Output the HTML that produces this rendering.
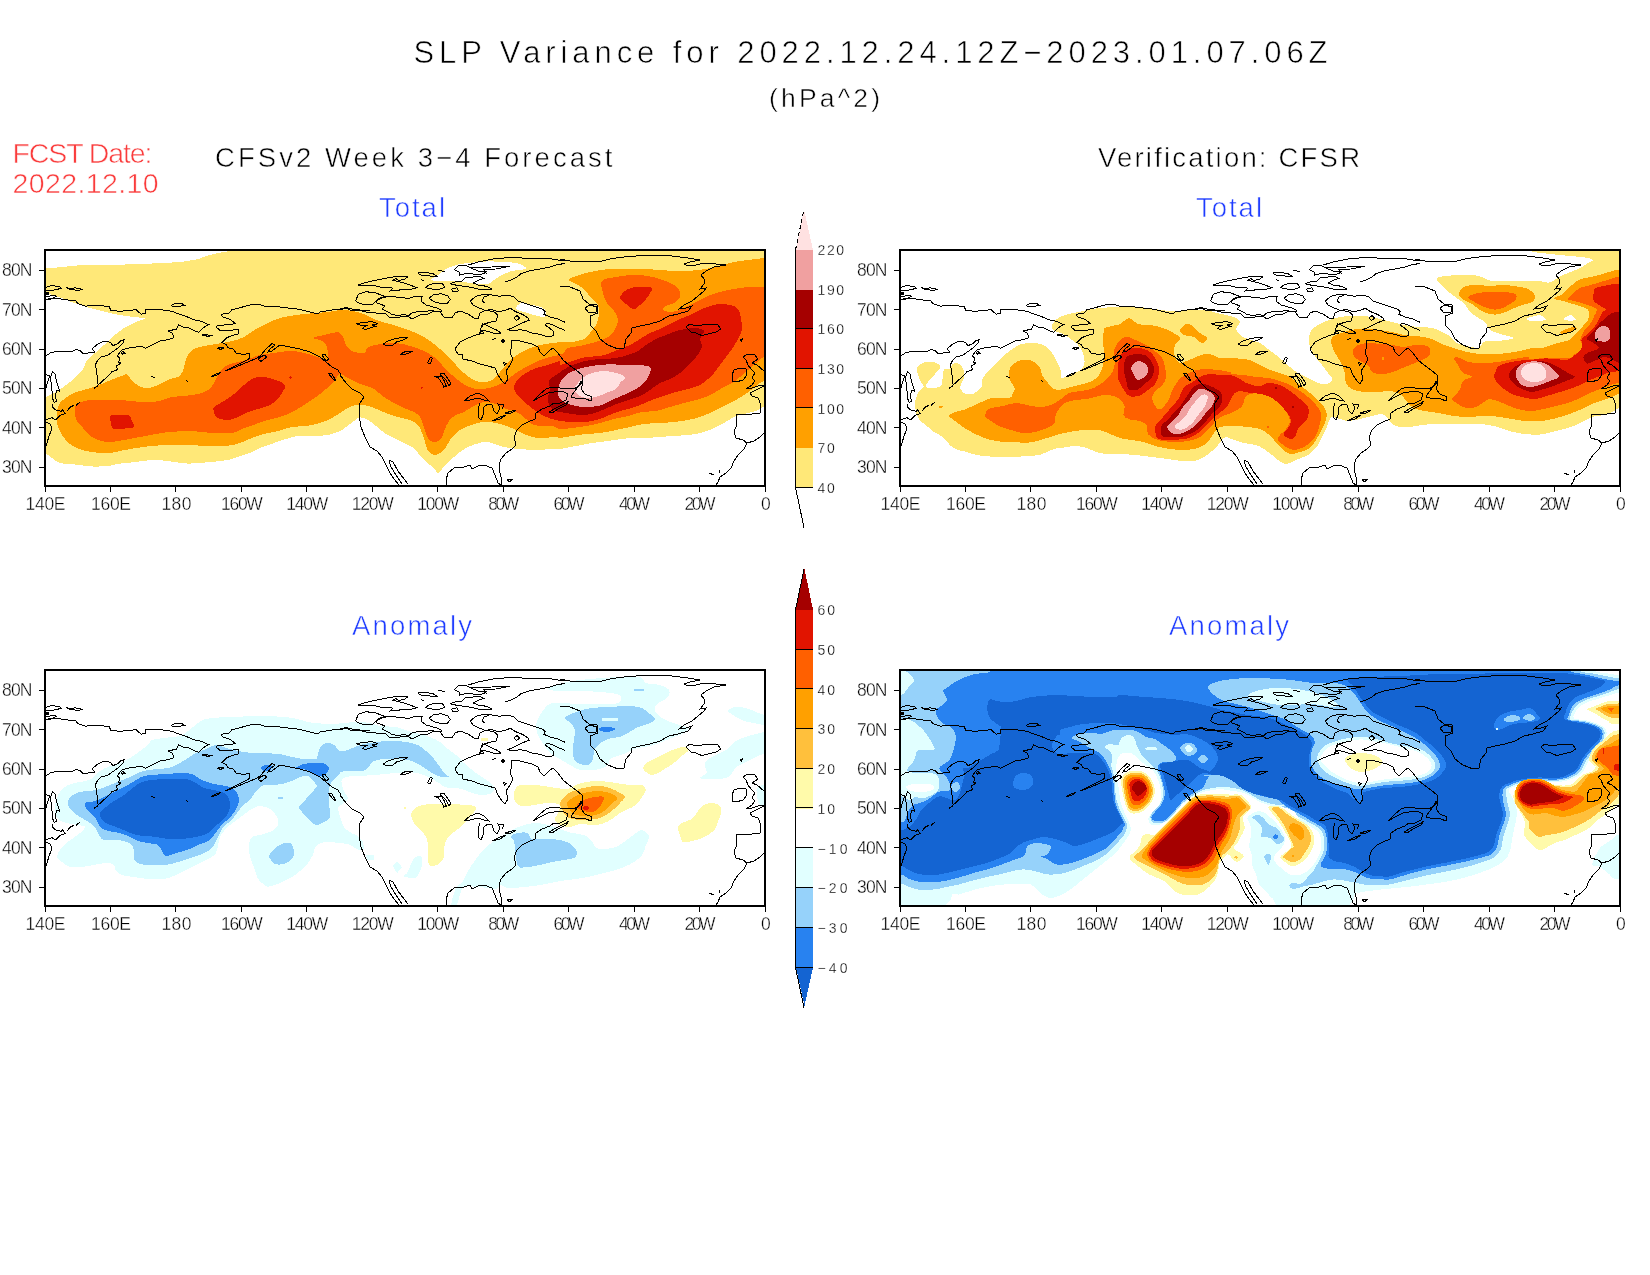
<!DOCTYPE html>
<html><head><meta charset="utf-8"><title>SLP Variance</title>
<style>
html,body{margin:0;padding:0;background:#fff;}
body{width:1650px;height:1275px;overflow:hidden;font-family:"Liberation Sans",sans-serif;}
svg{display:block;position:absolute;left:0;top:0;will-change:transform;}
text{font-family:"Liberation Sans",sans-serif;stroke:#fff;}
#txt{opacity:0.999;}
</style></head><body>
<svg width="1650" height="1275" viewBox="0 0 1650 1275">
<rect x="0" y="0" width="1650" height="1275" fill="#fff"/>
<defs>
<clipPath id="c1"><rect x="45" y="250" width="720" height="236"/></clipPath>
<clipPath id="c2"><rect x="900" y="250" width="720" height="236"/></clipPath>
<clipPath id="c3"><rect x="45" y="670" width="720" height="236"/></clipPath>
<clipPath id="c4"><rect x="900" y="670" width="720" height="236"/></clipPath>
<g id="coast" fill="none" stroke="#000" stroke-width="1" shape-rendering="crispEdges">
<path d="M45.3,299.7L56.0,298.3L66.7,299.9L76.0,301.0L78.0,303.7L85.3,306.1L93.3,305.7L101.3,305.7L109.3,306.6L110.7,310.3L120.0,311.3L130.7,310.3L136.0,309.7L138.0,311.7L141.3,314.1L146.0,313.0L145.3,309.7L153.3,309.0L162.7,309.9L172.0,311.3L178.7,313.9L186.7,316.6L193.3,319.7L201.3,321.3L208.7,324.6L203.3,327.7L198.7,332.3L193.3,330.3L188.0,327.4L182.7,327.0L178.7,324.7L176.7,329.0L171.3,330.3L168.0,331.0L172.0,333.0L174.0,337.7L168.0,339.7L160.0,341.0L153.3,344.3L145.3,348.3L141.3,346.3L133.3,347.4L126.7,348.3L121.3,350.3L117.3,355.7L120.0,358.3L118.7,362.3L121.3,363.0L116.7,365.7L117.3,369.7L112.0,371.7L109.3,375.0L104.0,379.7L100.0,383.7L98.0,384.3L97.3,378.3L96.7,371.7L95.3,365.0L97.3,361.0L101.3,357.0L108.0,355.0L114.7,350.3L120.0,346.3L123.3,343.0L124.0,339.7L121.3,340.3L118.0,343.7L112.7,345.7L110.7,342.3L104.0,341.0L97.3,344.3L92.0,349.0L94.7,352.1L88.0,353.0L82.7,353.0L80.0,350.3L76.0,349.7L72.0,351.7L64.0,351.7L57.3,351.7L51.3,352.3L45.3,356.3"/>
<path d="M121.3,352.3L123.3,351.7L124.7,353.3L122.4,354.1L121.3,352.3"/>
<path d="M45.3,287.7L52.0,285.3L60.0,287.0L61.3,288.3L53.3,290.3L45.3,291.0"/>
<path d="M66.0,287.4L70.7,289.7L78.7,290.3L82.0,289.3L76.0,287.9L69.3,288.3L66.0,287.4"/>
<path d="M45.3,297.0L53.3,295.4L56.7,296.3L52.0,298.3L45.3,299.4"/>
<path d="M45.3,292.7L48.3,292.7L48.3,294.6L45.3,294.6L45.3,293.7L48.0,293.7"/>
<path d="M171.3,305.7L174.7,303.4L181.3,303.3L184.7,305.3L178.7,306.6L173.3,306.6L171.3,305.7"/>
<path d="M260.0,304.7L253.3,304.1L245.3,306.3L232.0,309.7L229.3,313.0L221.3,314.3L222.7,317.0L230.7,319.7L235.3,323.7L226.7,324.7L217.3,325.7L216.0,327.0L220.0,330.3L226.7,330.3L238.7,329.7L238.7,333.7L232.0,335.7L226.7,337.7L222.0,342.3L226.7,345.0L228.0,347.7L233.3,349.0L236.0,353.0L242.7,354.3L249.3,353.7L249.6,358.3L245.3,361.0L240.0,363.7L233.3,367.0L226.7,370.3L225.3,371.0L229.3,369.7L237.3,366.3L245.3,363.0L253.3,359.7L260.0,356.3"/>
<path d="M202.0,334.6L208.0,335.0L212.7,335.7L208.0,336.3L202.0,335.1L202.0,334.6"/>
<path d="M217.3,348.3L220.0,347.0L224.0,347.9L220.7,349.4L217.3,348.3"/>
<path d="M211.3,377.0L214.7,374.3L220.7,372.7L218.7,374.3L213.3,376.3L211.3,377.0"/>
<path d="M151.3,376.3L154.7,377.7"/>
<path d="M186.0,380.3L187.7,381.7"/>
<path d="M94.0,388.3L98.0,385.7"/>
<path d="M52.6,371.2L55.0,374.1L56.2,380.0L57.9,385.9L59.7,391.2L56.8,390.6L55.0,395.3L56.8,401.2L54.4,402.4L52.6,398.8L52.1,391.8L51.5,384.7L50.3,378.8L51.5,374.1L52.6,371.2"/>
<path d="M45.0,374.7L49.7,375.3L48.5,380.0L46.8,384.7L45.6,389.4L45.0,398.8"/>
<path d="M52.1,404.1L53.2,408.2L56.8,410.6L61.5,411.2L62.6,410.0L65.0,413.5L60.3,415.3L56.8,418.8L55.0,420.0L52.1,417.6L48.5,418.8L45.0,420.0"/>
<path d="M45.0,422.4L49.7,423.5L51.5,427.1L50.9,431.8L49.1,435.3L47.9,440.0L46.2,445.9L45.0,446.5"/>
<path d="M67.4,410.6L70.3,407.1L73.8,405.3"/>
<path d="M76.2,405.3L79.7,402.1"/>
<path d="M260.0,304.8L264.0,306.0L280.0,307.0L300.0,309.4L318.0,314.0L320.0,312.0L332.0,310.0L340.0,309.0L346.0,307.4L352.0,309.0L360.0,310.0L370.0,311.0"/>
<path d="M260.0,356.4L266.0,349.0L272.0,343.6L275.0,345.0L270.0,349.0L268.0,352.0L272.0,351.0L280.0,345.0L290.0,347.0L300.0,349.0L310.0,352.0L320.0,357.0L326.0,362.0L332.0,367.0L338.0,370.0L341.0,375.0"/>
<path d="M258.0,359.0L264.0,355.0L267.0,357.0L261.0,361.4L258.0,359.0"/>
<path d="M322.0,355.0L326.0,361.0L329.0,359.0L325.0,354.6L322.0,355.0"/>
<path d="M328.0,373.0L333.0,379.0L336.0,381.0L332.0,374.0L328.0,373.0"/>
<path d="M340.0,310.0L346.0,308.0L352.0,311.0L358.0,310.0L366.0,312.0L376.0,313.0L386.0,314.0L390.0,318.0L400.0,317.0L408.0,316.0L412.0,319.0L420.0,315.0L428.0,314.0L434.0,311.0L440.0,312.0L444.0,317.0L452.0,318.0L455.0,313.0L460.0,311.0L468.0,314.0L474.0,318.0L478.0,319.0L480.0,313.0L486.0,310.0L494.0,312.0L498.0,315.0L496.0,321.0L491.0,322.0L484.0,324.0L480.0,329.0L484.0,333.0L476.0,335.0L468.0,338.0L460.0,342.0L455.0,349.0L458.0,354.0L462.0,354.0L463.0,359.0L472.0,361.0L480.0,364.0L488.0,366.0L495.0,368.0L498.0,375.0L502.0,381.0L505.0,384.0L508.0,379.0L506.0,371.0L510.0,365.0L513.0,359.0L510.0,353.0L512.0,345.0L511.0,341.0L516.0,340.0L524.0,342.0L532.0,344.0L538.0,347.0L540.0,352.0L544.0,356.0L549.0,351.0L553.0,348.0L558.0,353.0L563.0,360.0L569.0,365.0L576.0,370.0L582.0,375.0L583.0,381.0L580.0,385.0L574.0,389.0L568.0,388.0L560.0,388.0L552.0,387.0L546.0,389.0L540.0,394.0L535.0,399.0L533.0,401.0L540.0,397.0L548.0,393.0L554.0,392.0L562.0,391.0L568.0,394.0L566.0,400.0L560.0,403.0L554.0,403.0L550.0,406.0L542.0,409.0L536.0,413.0L535.0,419.0L528.0,422.0L522.0,425.0L517.0,430.0L514.0,437.0L516.0,445.0L512.0,449.0L506.0,453.0L501.0,459.0L499.0,465.0L500.0,473.0L502.0,481.0L501.0,485.0L498.0,483.0L495.0,475.0L492.0,468.0L484.0,465.0L478.0,466.0L472.0,469.0L470.0,465.0L464.0,467.0L454.0,468.0L448.0,473.0L446.0,480.0L447.0,485.0"/>
<path d="M571.0,397.0L574.0,392.0L578.0,387.0L581.0,381.0L583.0,383.0L581.0,389.0L585.0,394.0L592.0,397.0L591.0,401.0L586.0,399.0L580.0,398.0L575.0,398.0L571.0,397.0"/>
<path d="M549.0,412.0L556.0,408.0L564.0,404.0L569.0,401.0L566.0,405.0L558.0,409.0L552.0,413.0L549.0,412.0"/>
<path d="M464.0,401.0L470.0,396.0L478.0,393.0L484.0,396.0L489.0,401.0L484.0,400.0L478.0,398.0L470.0,400.0L464.0,401.0"/>
<path d="M480.0,403.0L478.0,409.0L478.0,417.0L481.0,420.0L483.0,415.0L484.0,407.0L488.0,404.0L492.0,405.0L494.0,411.0L497.0,414.0L500.0,408.0L498.0,404.0L504.0,405.0L502.0,409.0"/>
<path d="M492.0,421.0L500.0,417.0L506.0,415.0L500.0,419.0L492.0,421.0"/>
<path d="M505.0,413.0L512.0,411.0L516.0,410.6L510.0,413.4L505.0,413.0"/>
<path d="M340.0,375.0L346.0,383.0L352.0,389.0L360.0,393.0L364.0,397.0L360.0,403.0L359.0,415.0L361.0,427.0L365.0,437.0L370.0,447.0L377.0,451.0L382.0,457.0L386.0,465.0L390.0,473.0L394.0,479.0L399.0,485.0"/>
<path d="M389.0,460.0L393.0,462.0L398.0,471.0L404.0,479.0L408.0,484.0"/>
<path d="M402.0,484.0L396.0,475.0L391.0,467.0L389.0,460.0"/>
<path d="M507.0,480.0L512.0,479.4L510.0,482.0L507.0,480.0"/>
<path d="M503.0,362.0L506.0,363.4L504.4,365.0L503.0,362.0"/>
<path d="M355.7,301.0L358.3,294.3L366.3,291.7L375.7,293.0L385.0,296.3L379.7,298.3L375.7,301.0L373.0,304.3L365.0,304.3L359.7,303.7L355.7,301.0"/>
<path d="M375.7,301.0L382.3,297.7L390.3,296.3L401.0,297.7L409.0,298.3L415.7,296.3L422.3,296.3L421.0,301.0L426.3,305.0L433.0,307.0L438.3,308.3L442.3,311.0L438.3,311.7L430.3,310.3L425.0,311.7L417.0,311.7L411.7,313.0L409.0,315.7L403.7,314.3L398.3,315.7L391.7,314.3L387.7,311.7L382.3,309.0L385.0,306.3L381.0,304.3L377.0,303.0L375.7,301.0"/>
<path d="M358.3,285.0L366.3,282.3L375.7,280.3L385.0,278.3L393.0,277.0L402.3,276.3L407.7,277.0L403.7,279.7L398.3,280.3L395.7,278.3L393.0,280.3L401.0,282.3L406.3,283.7L411.7,285.7L417.0,287.7L411.7,289.0L403.7,289.0L398.3,290.3L390.3,291.0L393.0,288.3L389.0,287.0L382.3,287.7L377.0,286.3L371.7,285.0L365.0,285.7L358.3,285.0"/>
<path d="M417.7,273.0L425.0,272.3L433.0,273.7L437.0,276.3L433.0,277.0L426.3,275.0L421.0,275.0L417.7,273.0"/>
<path d="M421.0,279.7L423.7,281.0"/>
<path d="M438.3,270.3L445.0,271.7"/>
<path d="M425.0,287.7L430.3,284.3L438.3,283.0L443.7,284.3L444.3,287.7L438.3,289.7L431.7,289.0L425.0,287.7"/>
<path d="M429.0,298.3L433.0,295.0L441.0,293.7L447.7,295.7L450.3,299.7L447.7,303.0L441.0,303.7L434.3,301.7L429.0,298.3"/>
<path d="M451.7,289.0L457.0,287.7L458.3,291.0L453.0,291.7L451.7,289.0"/>
<path d="M450.3,283.7L455.7,281.7L462.3,281.0L465.0,277.7L473.0,277.0L479.7,276.3L483.7,278.3L478.3,280.3L473.0,283.0L478.3,285.0L486.3,286.3L491.7,289.0L486.3,289.7L478.3,289.0L473.0,287.7L465.0,286.3L458.3,285.7L450.3,283.7"/>
<path d="M454.3,269.7L458.3,265.7L465.0,265.0L469.0,267.0L473.0,269.0L478.3,271.0L486.3,271.7L483.7,273.7L477.0,275.0L471.7,273.7L465.0,273.7L459.7,275.0L459.0,271.7L454.3,269.7"/>
<path d="M468.3,265.0L477.0,262.3L486.3,260.3L497.0,258.3L511.7,257.7L531.7,258.3L551.7,259.0L565.0,261.0"/>
<path d="M565.0,263.7L558.3,264.3L550.3,267.0L539.7,269.0L529.0,271.0L521.0,273.7L517.0,277.0L510.3,280.3L505.0,281.7"/>
<path d="M469.0,267.0L478.3,267.7L491.7,267.0L502.3,266.3L510.3,266.3L495.7,269.0L483.7,269.7L486.3,273.7"/>
<path d="M470.3,301.0L475.7,296.3L483.7,294.3L491.7,295.0L499.7,296.3L505.0,295.0L513.0,296.3L518.3,301.0L526.3,303.7L534.3,306.3L542.3,309.0L545.0,311.7L543.7,314.3L550.3,317.0L558.3,319.0L565.0,322.3"/>
<path d="M489.0,295.7L484.3,296.3L482.3,301.0L485.0,303.0"/>
<path d="M470.3,301.0L473.0,305.0L478.3,307.7L485.0,310.3L491.7,309.7L498.3,311.7L505.0,310.3L510.3,308.3L515.7,311.7L522.3,314.3L527.7,317.7L529.0,320.3L523.7,322.3L518.3,325.0L513.0,327.7L507.7,329.7L511.7,331.0L519.7,329.7L525.0,330.3L531.7,333.0L539.7,334.3L547.7,337.0L553.0,335.7L553.7,331.7L549.0,327.7L545.0,325.0L547.7,323.0L553.0,325.0L558.3,327.7L565.0,330.3"/>
<path d="M482.3,323.7L486.3,325.0L491.7,327.7L497.0,330.3L501.0,333.0L495.7,333.7L489.0,331.7L483.7,330.3L479.7,333.0L481.0,327.7L482.3,323.7"/>
<path d="M513.7,317.7L517.0,315.7L519.7,318.3L516.3,320.3L513.7,317.7"/>
<path d="M501.7,341.0L503.0,339.7L504.6,341.0L503.0,342.6L501.7,341.0"/>
<path d="M491.7,339.7L495.7,338.3"/>
<path d="M355.7,323.7L363.7,322.3L371.7,321.7L378.3,323.7L371.7,325.0L375.7,326.3L369.0,328.3L365.0,329.7L362.3,328.3L366.3,325.7L359.7,325.0L355.7,323.7"/>
<path d="M383.0,344.3L387.7,341.0L394.3,339.0L401.0,337.7L407.7,337.7L402.3,340.3L397.0,341.7L393.0,345.0L387.7,345.7L383.0,344.3"/>
<path d="M400.3,354.3L405.0,351.7L413.0,351.0L409.0,353.0L403.7,354.6L400.3,354.3"/>
<path d="M427.7,363.0L430.3,357.0L432.3,358.3L430.3,363.7L427.7,363.0"/>
<path d="M434.3,376.3L438.3,377.7L442.3,383.7L443.7,387.0L446.3,386.3L444.3,381.0L441.7,376.3L434.3,376.3"/>
<path d="M439.7,374.3L443.7,373.0L447.7,378.3L451.0,383.7L449.0,385.7L445.7,379.7L439.7,374.3"/>
<path d="M560.0,286.0L570.0,287.0L580.0,291.0L583.0,299.0L589.0,304.0L597.0,305.0L598.0,313.0L590.0,316.0L590.0,325.0L596.0,331.0L600.0,339.0L608.0,345.0L618.0,349.0L624.0,348.0L626.0,339.0L631.0,333.0L632.0,328.0L640.0,326.0L650.0,324.0L660.0,321.0L669.0,316.0L678.0,314.0L688.0,311.0L692.0,306.0L686.0,308.0L679.0,309.0L684.0,305.0L692.0,301.0L698.0,296.0L704.0,291.0L706.0,288.0L700.0,289.0L704.0,284.0L704.0,279.0L701.0,275.0L706.0,271.0L714.0,267.0L726.0,265.0L716.0,264.0L704.0,263.0L696.0,265.0L688.0,266.0L684.0,264.0L690.0,262.0L700.0,260.0L688.0,258.0L672.0,256.0L656.0,255.0L646.0,255.0L636.0,256.0L620.0,257.4L608.0,259.4L598.0,262.0L590.0,261.0L580.0,262.0L570.0,261.0L560.0,259.0"/>
<path d="M585.0,308.0L590.0,305.0L597.0,307.0L596.0,312.0L588.0,312.0L585.0,308.0"/>
<path d="M686.0,327.0L690.0,324.0L696.0,326.0L702.0,325.0L710.0,324.0L718.0,325.0L721.0,329.0L716.0,332.0L708.0,334.0L702.0,335.6L696.0,333.0L691.0,332.0L688.0,329.0L686.0,327.0"/>
<path d="M732.0,375.0L734.0,370.0L740.0,368.0L746.0,369.0L747.0,375.0L743.0,380.0L736.0,382.0L732.0,381.0L732.0,375.0"/>
<path d="M743.0,357.0L748.0,354.0L755.0,355.0L758.0,359.0L752.0,363.0L757.0,365.0L764.0,371.0"/>
<path d="M764.0,385.0L758.0,386.0L752.0,388.0L746.0,389.0L752.0,385.0L755.0,381.0L752.0,378.0L755.0,373.0L751.0,369.0L748.0,365.0L746.0,360.0L743.0,357.0"/>
<path d="M764.0,386.0L758.0,389.0L750.0,393.0L752.0,396.0L758.0,398.0L761.0,405.0L760.0,413.0L752.0,414.0L744.0,414.0L736.0,415.0L737.0,425.0L734.0,431.0L736.0,438.0L743.0,440.0L747.0,443.0L754.0,441.0L760.0,437.0L764.0,433.0"/>
<path d="M747.0,443.0L744.0,449.0L738.0,455.0L734.0,461.0L731.0,468.0L726.0,473.0L720.0,477.0L718.0,482.0L716.0,485.0"/>
<path d="M740.0,339.4L742.4,339.0L741.6,341.4L740.0,339.4"/>
<path d="M709.0,473.0L714.0,475.0"/>
<path d="M719.0,470.0L720.0,473.0"/>
</g>
</defs>
<g clip-path="url(#c1)" shape-rendering="crispEdges">
<path d="M32.0,268.6C34.2,264.7 39.3,268.9 45.0,268.6C50.7,268.3 59.2,267.2 66.0,266.6C72.8,266.0 77.0,265.3 86.0,265.0C95.0,264.7 110.3,264.8 120.0,264.6C129.7,264.4 137.3,264.3 144.0,264.0C150.7,263.7 154.0,263.3 160.0,263.0C166.0,262.7 173.7,262.7 180.0,262.0C186.3,261.3 193.7,260.0 198.0,259.0C202.3,258.0 202.3,257.1 206.0,256.0C209.7,254.9 216.3,253.4 220.0,252.6C223.7,251.8 226.0,253.3 228.0,251.0C230.0,248.7 140.0,241.0 232.0,239.0C324.0,237.0 688.7,211.0 780.0,239.0C871.3,267.0 782.7,379.0 780.0,407.0C777.3,435.0 768.0,406.3 764.0,407.0C760.0,407.7 759.3,409.8 756.0,411.0C752.7,412.2 747.7,413.0 744.0,414.0C740.3,415.0 737.3,415.5 734.0,417.0C730.7,418.5 727.7,421.0 724.0,423.0C720.3,425.0 716.0,427.3 712.0,429.0C708.0,430.7 704.0,432.0 700.0,433.0C696.0,434.0 692.7,434.5 688.0,435.0C683.3,435.5 677.3,435.6 672.0,436.0C666.7,436.4 661.3,437.1 656.0,437.4C650.7,437.7 645.3,437.8 640.0,438.0C634.7,438.2 629.3,438.1 624.0,438.6C618.7,439.1 613.3,440.3 608.0,441.0C602.7,441.7 597.3,442.2 592.0,443.0C586.7,443.8 581.3,445.0 576.0,446.0C570.7,447.0 564.0,448.5 560.0,449.0C556.0,449.5 556.0,448.8 552.0,449.0C548.0,449.2 541.3,450.0 536.0,450.0C530.7,450.0 524.3,449.3 520.0,449.0C515.7,448.7 513.3,448.5 510.0,448.0C506.7,447.5 503.0,446.8 500.0,446.0C497.0,445.2 494.7,443.7 492.0,443.0C489.3,442.3 486.7,441.8 484.0,442.0C481.3,442.2 478.7,443.2 476.0,444.0C473.3,444.8 470.7,445.7 468.0,447.0C465.3,448.3 462.3,450.3 460.0,452.0C457.7,453.7 456.0,455.2 454.0,457.0C452.0,458.8 450.0,461.0 448.0,463.0C446.0,465.0 443.7,467.3 442.0,469.0C440.3,470.7 439.0,472.7 438.0,473.0C437.0,473.3 437.3,472.3 436.0,471.0C434.7,469.7 432.0,466.8 430.0,465.0C428.0,463.2 426.0,462.0 424.0,460.0C422.0,458.0 419.7,455.0 418.0,453.0C416.3,451.0 415.7,449.3 414.0,448.0C412.3,446.7 410.7,446.3 408.0,445.0C405.3,443.7 401.7,441.8 398.0,440.0C394.3,438.2 389.7,436.3 386.0,434.0C382.3,431.7 379.0,428.3 376.0,426.0C373.0,423.7 370.7,421.4 368.0,420.0C365.3,418.6 362.3,417.2 360.0,417.4C357.7,417.6 356.3,419.4 354.0,421.0C351.7,422.6 348.3,425.3 346.0,427.0C343.7,428.7 343.0,429.7 340.0,431.0C337.0,432.3 332.3,434.2 328.0,435.0C323.7,435.8 319.0,435.8 314.0,436.0C309.0,436.2 302.7,435.5 298.0,436.0C293.3,436.5 290.0,437.8 286.0,439.0C282.0,440.2 278.3,441.5 274.0,443.0C269.7,444.5 264.0,446.3 260.0,448.0C256.0,449.7 253.3,451.7 250.0,453.0C246.7,454.3 243.7,454.8 240.0,456.0C236.3,457.2 233.0,459.0 228.0,460.0C223.0,461.0 216.7,461.4 210.0,462.0C203.3,462.6 195.0,463.8 188.0,463.6C181.0,463.4 174.0,461.6 168.0,461.0C162.0,460.4 157.3,459.8 152.0,460.0C146.7,460.2 141.3,461.4 136.0,462.0C130.7,462.6 124.3,463.0 120.0,463.6C115.7,464.2 114.3,465.1 110.0,465.6C105.7,466.1 99.7,466.8 94.0,466.6C88.3,466.4 81.7,465.2 76.0,464.6C70.3,464.0 64.0,464.1 60.0,463.0C56.0,461.9 54.5,459.7 52.0,458.0C49.5,456.3 48.3,454.5 45.0,453.0C41.7,451.5 34.2,458.3 32.0,449.0C29.8,439.7 29.8,405.7 32.0,397.0C34.2,388.3 42.0,397.3 45.0,397.0C48.0,396.7 47.8,396.0 50.0,395.0C52.2,394.0 55.3,392.7 58.0,391.0C60.7,389.3 63.0,387.3 66.0,385.0C69.0,382.7 73.2,379.7 76.0,377.0C78.8,374.3 81.0,372.0 83.0,369.0C85.0,366.0 85.2,362.3 88.0,359.0C90.8,355.7 96.3,352.3 100.0,349.0C103.7,345.7 106.7,342.0 110.0,339.0C113.3,336.0 117.3,333.0 120.0,331.0C122.7,329.0 123.3,328.5 126.0,327.0C128.7,325.5 132.8,323.4 136.0,322.0C139.2,320.6 145.3,319.4 145.0,318.6C144.7,317.8 138.2,317.6 134.0,317.0C129.8,316.4 124.7,315.8 120.0,315.0C115.3,314.2 111.0,313.2 106.0,312.0C101.0,310.8 95.3,309.5 90.0,308.0C84.7,306.5 79.0,304.8 74.0,303.0C69.0,301.2 64.8,299.1 60.0,297.4C55.2,295.7 49.7,293.9 45.0,293.0C40.3,292.1 34.2,296.1 32.0,292.0C29.8,287.9 29.8,272.5 32.0,268.6Z" fill="#ffe878"/>
<path d="M431.0,280.0C430.7,279.1 435.5,276.8 438.0,275.0C440.5,273.2 442.7,270.7 446.0,269.0C449.3,267.3 453.7,265.7 458.0,264.6C462.3,263.5 467.0,263.1 472.0,262.6C477.0,262.1 482.7,261.5 488.0,261.4C493.3,261.3 499.0,261.7 504.0,262.0C509.0,262.3 514.3,262.4 518.0,263.4C521.7,264.4 525.7,266.9 526.0,268.0C526.3,269.1 522.3,269.5 520.0,270.0C517.7,270.5 515.0,270.2 512.0,271.0C509.0,271.8 505.0,273.5 502.0,275.0C499.0,276.5 496.3,278.5 494.0,280.0C491.7,281.5 491.0,283.3 488.0,284.0C485.0,284.7 480.0,284.3 476.0,284.0C472.0,283.7 468.0,282.5 464.0,282.0C460.0,281.5 456.0,281.2 452.0,281.0C448.0,280.8 443.5,280.8 440.0,280.6C436.5,280.4 431.3,280.9 431.0,280.0Z" fill="#ffffff"/>
<path d="M516.0,309.0C515.5,307.5 518.3,303.7 521.0,303.0C523.7,302.3 528.5,304.3 532.0,305.0C535.5,305.7 539.7,306.2 542.0,307.4C544.3,308.6 545.7,310.4 546.0,312.0C546.3,313.6 546.0,316.5 544.0,317.0C542.0,317.5 537.3,315.8 534.0,315.0C530.7,314.2 527.0,313.0 524.0,312.0C521.0,311.0 516.5,310.5 516.0,309.0Z" fill="#ffffff"/>
<path d="M57.0,411.0C57.5,407.7 57.8,405.7 60.0,403.0C62.2,400.3 66.7,397.0 70.0,395.0C73.3,393.0 76.0,392.3 80.0,391.0C84.0,389.7 89.7,388.5 94.0,387.0C98.3,385.5 102.3,383.5 106.0,382.0C109.7,380.5 113.0,379.2 116.0,378.0C119.0,376.8 122.2,375.6 124.0,375.0C125.8,374.4 126.0,374.1 127.0,374.6C128.0,375.1 128.5,376.4 130.0,378.0C131.5,379.6 134.0,382.4 136.0,384.0C138.0,385.6 139.3,386.8 142.0,387.4C144.7,388.0 148.7,388.1 152.0,387.4C155.3,386.7 159.0,384.4 162.0,383.0C165.0,381.6 167.3,380.0 170.0,379.0C172.7,378.0 175.8,378.3 178.0,377.0C180.2,375.7 181.8,373.3 183.0,371.0C184.2,368.7 184.2,365.7 185.0,363.0C185.8,360.3 186.5,357.3 188.0,355.0C189.5,352.7 191.3,350.5 194.0,349.0C196.7,347.5 200.3,346.8 204.0,346.0C207.7,345.2 211.3,344.8 216.0,344.0C220.7,343.2 227.3,342.2 232.0,341.0C236.7,339.8 240.0,339.0 244.0,337.0C248.0,335.0 252.0,331.3 256.0,329.0C260.0,326.7 264.0,324.8 268.0,323.0C272.0,321.2 275.3,319.3 280.0,318.0C284.7,316.7 290.0,315.8 296.0,315.0C302.0,314.2 310.7,313.5 316.0,313.0C321.3,312.5 324.0,312.5 328.0,312.0C332.0,311.5 336.0,310.2 340.0,310.0C344.0,309.8 348.0,310.3 352.0,311.0C356.0,311.7 360.0,312.5 364.0,314.0C368.0,315.5 371.7,318.3 376.0,320.0C380.3,321.7 385.0,322.5 390.0,324.0C395.0,325.5 401.0,327.2 406.0,329.0C411.0,330.8 416.0,333.0 420.0,335.0C424.0,337.0 426.7,338.7 430.0,341.0C433.3,343.3 437.0,346.3 440.0,349.0C443.0,351.7 445.3,354.3 448.0,357.0C450.7,359.7 453.3,362.3 456.0,365.0C458.7,367.7 461.3,370.7 464.0,373.0C466.7,375.3 469.3,377.5 472.0,379.0C474.7,380.5 476.7,381.8 480.0,382.0C483.3,382.2 487.7,382.8 492.0,380.0C496.3,377.2 502.3,368.8 506.0,365.0C509.7,361.2 511.0,359.3 514.0,357.0C517.0,354.7 520.3,352.8 524.0,351.0C527.7,349.2 531.3,347.3 536.0,346.0C540.7,344.7 546.7,343.7 552.0,343.0C557.3,342.3 564.7,342.2 568.0,342.0C571.3,341.8 569.3,342.5 572.0,342.0C574.7,341.5 581.0,340.5 584.0,339.0C587.0,337.5 588.0,335.3 590.0,333.0C592.0,330.7 594.5,328.0 596.0,325.0C597.5,322.0 598.7,318.3 599.0,315.0C599.3,311.7 599.5,308.0 598.0,305.0C596.5,302.0 592.0,299.3 590.0,297.0C588.0,294.7 588.0,293.0 586.0,291.0C584.0,289.0 580.8,286.8 578.0,285.0C575.2,283.2 569.3,281.5 569.0,280.0C568.7,278.5 572.5,277.3 576.0,276.0C579.5,274.7 585.0,273.1 590.0,272.0C595.0,270.9 600.3,270.0 606.0,269.4C611.7,268.8 617.7,268.7 624.0,268.6C630.3,268.5 638.0,268.8 644.0,269.0C650.0,269.2 654.7,269.7 660.0,270.0C665.3,270.3 670.7,270.9 676.0,271.0C681.3,271.1 686.7,271.0 692.0,270.6C697.3,270.2 703.0,269.5 708.0,268.6C713.0,267.7 717.7,266.1 722.0,265.0C726.3,263.9 729.7,262.8 734.0,262.0C738.3,261.2 743.0,260.7 748.0,260.0C753.0,259.3 758.7,258.5 764.0,258.0C769.3,257.5 777.3,236.5 780.0,257.0C782.7,277.5 782.7,360.3 780.0,381.0C777.3,401.7 768.3,379.8 764.0,381.0C759.7,382.2 757.3,385.7 754.0,388.0C750.7,390.3 747.3,392.8 744.0,395.0C740.7,397.2 737.3,399.2 734.0,401.0C730.7,402.8 727.7,404.2 724.0,406.0C720.3,407.8 716.0,410.2 712.0,412.0C708.0,413.8 704.0,415.7 700.0,417.0C696.0,418.3 692.3,419.2 688.0,420.0C683.7,420.8 678.7,421.5 674.0,422.0C669.3,422.5 665.0,422.7 660.0,423.0C655.0,423.3 649.0,423.3 644.0,424.0C639.0,424.7 634.7,426.0 630.0,427.0C625.3,428.0 621.0,429.0 616.0,430.0C611.0,431.0 605.0,432.3 600.0,433.0C595.0,433.7 590.7,433.5 586.0,434.0C581.3,434.5 576.3,435.3 572.0,436.0C567.7,436.7 562.7,437.8 560.0,438.0C557.3,438.2 559.0,437.0 556.0,437.0C553.0,437.0 546.0,438.0 542.0,438.0C538.0,438.0 535.3,437.8 532.0,437.0C528.7,436.2 525.0,434.3 522.0,433.0C519.0,431.7 516.7,430.2 514.0,429.0C511.3,427.8 509.0,427.0 506.0,426.0C503.0,425.0 499.7,423.7 496.0,423.0C492.3,422.3 487.7,421.8 484.0,422.0C480.3,422.2 477.3,423.0 474.0,424.0C470.7,425.0 467.0,426.5 464.0,428.0C461.0,429.5 458.3,431.0 456.0,433.0C453.7,435.0 451.7,437.7 450.0,440.0C448.3,442.3 447.7,444.8 446.0,447.0C444.3,449.2 442.0,451.7 440.0,453.0C438.0,454.3 436.0,455.3 434.0,455.0C432.0,454.7 429.5,453.2 428.0,451.0C426.5,448.8 426.0,445.0 425.0,442.0C424.0,439.0 423.2,435.8 422.0,433.0C420.8,430.2 420.0,427.2 418.0,425.0C416.0,422.8 413.3,421.3 410.0,420.0C406.7,418.7 402.0,418.2 398.0,417.0C394.0,415.8 390.0,414.5 386.0,413.0C382.0,411.5 377.7,409.3 374.0,408.0C370.3,406.7 367.0,405.5 364.0,405.0C361.0,404.5 358.7,404.5 356.0,405.0C353.3,405.5 350.7,406.7 348.0,408.0C345.3,409.3 343.0,411.2 340.0,413.0C337.0,414.8 333.3,417.3 330.0,419.0C326.7,420.7 324.0,421.8 320.0,423.0C316.0,424.2 310.7,425.3 306.0,426.0C301.3,426.7 296.7,426.2 292.0,427.0C287.3,427.8 282.7,429.8 278.0,431.0C273.3,432.2 268.3,432.8 264.0,434.0C259.7,435.2 256.0,436.5 252.0,438.0C248.0,439.5 244.0,441.7 240.0,443.0C236.0,444.3 233.3,445.1 228.0,445.6C222.7,446.1 214.7,446.1 208.0,446.0C201.3,445.9 194.7,445.2 188.0,445.0C181.3,444.8 174.0,444.8 168.0,445.0C162.0,445.2 157.3,445.5 152.0,446.0C146.7,446.5 141.3,447.2 136.0,448.0C130.7,448.8 124.3,450.2 120.0,451.0C115.7,451.8 113.3,452.7 110.0,453.0C106.7,453.3 104.7,453.5 100.0,453.0C95.3,452.5 87.0,451.5 82.0,450.0C77.0,448.5 73.3,446.5 70.0,444.0C66.7,441.5 64.2,438.5 62.0,435.0C59.8,431.5 57.8,427.0 57.0,423.0C56.2,419.0 56.5,414.3 57.0,411.0Z" fill="#ffa000"/>
<path d="M75.0,409.0C75.2,406.5 75.2,405.4 77.0,404.0C78.8,402.6 82.2,401.3 86.0,400.6C89.8,399.9 94.3,400.1 100.0,400.0C105.7,399.9 114.3,399.8 120.0,400.0C125.7,400.2 129.3,401.1 134.0,401.4C138.7,401.7 143.7,402.1 148.0,402.0C152.3,401.9 156.0,401.8 160.0,401.0C164.0,400.2 168.0,397.8 172.0,397.0C176.0,396.2 179.7,396.5 184.0,396.0C188.3,395.5 194.0,395.0 198.0,394.0C202.0,393.0 205.3,391.8 208.0,390.0C210.7,388.2 212.3,385.5 214.0,383.0C215.7,380.5 216.3,377.7 218.0,375.0C219.7,372.3 221.3,369.0 224.0,367.0C226.7,365.0 230.3,364.2 234.0,363.0C237.7,361.8 241.7,361.3 246.0,360.0C250.3,358.7 255.3,356.2 260.0,355.0C264.7,353.8 269.3,353.7 274.0,353.0C278.7,352.3 283.7,351.2 288.0,351.0C292.3,350.8 296.3,351.4 300.0,352.0C303.7,352.6 306.7,353.6 310.0,354.6C313.3,355.6 317.2,357.1 320.0,358.0C322.8,358.9 325.7,360.8 327.0,360.0C328.3,359.2 328.2,355.5 328.0,353.0C327.8,350.5 327.2,347.1 326.0,345.0C324.8,342.9 323.2,341.6 321.0,340.4C318.8,339.2 312.5,338.9 313.0,338.0C313.5,337.1 320.2,335.9 324.0,335.0C327.8,334.1 333.3,332.7 336.0,332.4C338.7,332.1 338.7,331.9 340.0,333.0C341.3,334.1 343.0,337.0 344.0,339.0C345.0,341.0 344.7,343.0 346.0,345.0C347.3,347.0 349.0,349.7 352.0,351.0C355.0,352.3 361.3,353.6 364.0,353.0C366.7,352.4 365.3,348.9 368.0,347.4C370.7,345.9 375.3,344.7 380.0,344.0C384.7,343.3 391.0,342.7 396.0,343.0C401.0,343.3 405.3,344.7 410.0,346.0C414.7,347.3 420.0,349.2 424.0,351.0C428.0,352.8 431.0,354.7 434.0,357.0C437.0,359.3 439.0,362.0 442.0,365.0C445.0,368.0 448.7,372.0 452.0,375.0C455.3,378.0 458.7,380.8 462.0,383.0C465.3,385.2 468.3,387.0 472.0,388.0C475.7,389.0 479.7,389.5 484.0,389.0C488.3,388.5 494.0,386.7 498.0,385.0C502.0,383.3 505.0,381.0 508.0,379.0C511.0,377.0 513.0,375.0 516.0,373.0C519.0,371.0 522.3,369.0 526.0,367.0C529.7,365.0 534.0,362.7 538.0,361.0C542.0,359.3 546.0,358.2 550.0,357.0C554.0,355.8 559.0,355.5 562.0,354.0C565.0,352.5 565.0,349.3 568.0,348.0C571.0,346.7 576.0,346.8 580.0,346.0C584.0,345.2 588.0,344.2 592.0,343.0C596.0,341.8 600.7,340.5 604.0,339.0C607.3,337.5 610.0,336.0 612.0,334.0C614.0,332.0 615.0,329.5 616.0,327.0C617.0,324.5 618.3,321.7 618.0,319.0C617.7,316.3 615.8,313.7 614.0,311.0C612.2,308.3 608.8,306.0 607.0,303.0C605.2,300.0 603.8,296.7 603.0,293.0C602.2,289.3 599.8,283.7 602.0,281.0C604.2,278.3 611.0,278.0 616.0,277.0C621.0,276.0 626.7,275.2 632.0,275.0C637.3,274.8 643.3,275.3 648.0,276.0C652.7,276.7 656.3,277.8 660.0,279.0C663.7,280.2 667.0,281.5 670.0,283.0C673.0,284.5 676.3,285.7 678.0,288.0C679.7,290.3 680.7,294.5 680.0,297.0C679.3,299.5 676.3,301.5 674.0,303.0C671.7,304.5 667.8,304.8 666.0,306.0C664.2,307.2 662.0,309.0 663.0,310.0C664.0,311.0 668.5,312.3 672.0,312.0C675.5,311.7 680.0,309.7 684.0,308.0C688.0,306.3 692.0,304.0 696.0,302.0C700.0,300.0 704.0,297.7 708.0,296.0C712.0,294.3 715.7,293.2 720.0,292.0C724.3,290.8 729.3,289.8 734.0,289.0C738.7,288.2 743.0,287.3 748.0,287.0C753.0,286.7 758.7,287.0 764.0,287.0C769.3,287.0 777.3,275.3 780.0,287.0C782.7,298.7 782.7,345.3 780.0,357.0C777.3,368.7 768.0,356.0 764.0,357.0C760.0,358.0 758.7,360.8 756.0,363.0C753.3,365.2 750.7,367.7 748.0,370.0C745.3,372.3 742.7,374.8 740.0,377.0C737.3,379.2 735.0,381.2 732.0,383.0C729.0,384.8 725.3,386.2 722.0,388.0C718.7,389.8 715.7,392.2 712.0,394.0C708.3,395.8 704.7,397.5 700.0,399.0C695.3,400.5 689.0,401.7 684.0,403.0C679.0,404.3 674.7,405.7 670.0,407.0C665.3,408.3 660.7,410.2 656.0,411.0C651.3,411.8 646.7,411.2 642.0,412.0C637.3,412.8 632.7,414.8 628.0,416.0C623.3,417.2 618.7,417.8 614.0,419.0C609.3,420.2 604.7,421.8 600.0,423.0C595.3,424.2 590.7,425.2 586.0,426.0C581.3,426.8 576.3,427.5 572.0,428.0C567.7,428.5 563.3,429.3 560.0,429.0C556.7,428.7 555.3,426.5 552.0,426.0C548.7,425.5 543.3,426.3 540.0,426.0C536.7,425.7 534.3,425.2 532.0,424.0C529.7,422.8 528.0,420.7 526.0,419.0C524.0,417.3 522.0,415.3 520.0,414.0C518.0,412.7 516.3,411.8 514.0,411.0C511.7,410.2 508.7,410.0 506.0,409.0C503.3,408.0 501.0,406.2 498.0,405.0C495.0,403.8 491.0,402.3 488.0,402.0C485.0,401.7 482.7,402.2 480.0,403.0C477.3,403.8 474.7,405.5 472.0,407.0C469.3,408.5 466.7,410.7 464.0,412.0C461.3,413.3 458.5,413.5 456.0,415.0C453.5,416.5 450.8,418.7 449.0,421.0C447.2,423.3 446.2,426.3 445.0,429.0C443.8,431.7 443.5,434.8 442.0,437.0C440.5,439.2 438.2,441.5 436.0,442.0C433.8,442.5 430.7,441.5 429.0,440.0C427.3,438.5 427.0,435.5 426.0,433.0C425.0,430.5 424.0,427.7 423.0,425.0C422.0,422.3 421.5,419.2 420.0,417.0C418.5,414.8 416.7,413.5 414.0,412.0C411.3,410.5 407.3,409.5 404.0,408.0C400.7,406.5 397.3,404.8 394.0,403.0C390.7,401.2 387.3,399.3 384.0,397.0C380.7,394.7 377.0,390.8 374.0,389.0C371.0,387.2 368.7,387.0 366.0,386.0C363.3,385.0 361.0,384.3 358.0,383.0C355.0,381.7 351.0,379.5 348.0,378.0C345.0,376.5 342.0,373.8 340.0,374.0C338.0,374.2 337.3,377.5 336.0,379.0C334.7,380.5 333.7,381.3 332.0,383.0C330.3,384.7 328.7,386.7 326.0,389.0C323.3,391.3 319.7,394.3 316.0,397.0C312.3,399.7 308.0,402.5 304.0,405.0C300.0,407.5 296.0,410.0 292.0,412.0C288.0,414.0 284.0,415.7 280.0,417.0C276.0,418.3 272.0,418.8 268.0,420.0C264.0,421.2 260.3,422.5 256.0,424.0C251.7,425.5 246.0,427.5 242.0,429.0C238.0,430.5 237.0,432.3 232.0,433.0C227.0,433.7 218.7,433.3 212.0,433.0C205.3,432.7 199.0,431.2 192.0,431.0C185.0,430.8 176.0,431.5 170.0,432.0C164.0,432.5 161.0,433.2 156.0,434.0C151.0,434.8 145.3,436.0 140.0,437.0C134.7,438.0 129.0,439.2 124.0,440.0C119.0,440.8 114.3,442.0 110.0,442.0C105.7,442.0 101.7,441.3 98.0,440.0C94.3,438.7 90.5,436.0 88.0,434.0C85.5,432.0 85.0,430.5 83.0,428.0C81.0,425.5 77.3,422.2 76.0,419.0C74.7,415.8 74.8,411.5 75.0,409.0Z" fill="#ff6000"/>
<path d="M110.0,416.0C111.5,414.8 116.8,414.7 120.0,414.6C123.2,414.5 127.0,414.3 129.0,415.4C131.0,416.5 131.2,419.1 132.0,421.0C132.8,422.9 135.3,425.7 134.0,427.0C132.7,428.3 127.5,428.3 124.0,428.6C120.5,428.9 115.2,429.7 113.0,428.6C110.8,427.5 111.5,424.1 111.0,422.0C110.5,419.9 108.5,417.2 110.0,416.0Z" fill="#e11400"/>
<path d="M214.0,407.0C215.7,405.3 220.7,403.2 224.0,401.0C227.3,398.8 230.7,396.7 234.0,394.0C237.3,391.3 240.7,387.7 244.0,385.0C247.3,382.3 250.7,379.3 254.0,378.0C257.3,376.7 260.3,376.7 264.0,377.0C267.7,377.3 272.5,378.7 276.0,380.0C279.5,381.3 283.8,383.2 285.0,385.0C286.2,386.8 284.2,388.7 283.0,391.0C281.8,393.3 280.2,396.7 278.0,399.0C275.8,401.3 273.3,403.3 270.0,405.0C266.7,406.7 262.0,407.7 258.0,409.0C254.0,410.3 249.7,411.5 246.0,413.0C242.3,414.5 239.3,416.8 236.0,418.0C232.7,419.2 229.3,420.2 226.0,420.0C222.7,419.8 218.0,418.5 216.0,417.0C214.0,415.5 214.3,412.7 214.0,411.0C213.7,409.3 212.3,408.7 214.0,407.0Z" fill="#e11400"/>
<path d="M289.4,377.4C289.4,376.9 290.2,376.0 290.6,376.0C291.0,376.0 292.0,376.9 292.0,377.4C292.0,377.9 291.0,379.0 290.6,379.0C290.2,379.0 289.4,377.9 289.4,377.4Z" fill="#e11400"/>
<path d="M420.6,387.6C420.6,387.3 421.3,386.6 421.6,386.6C421.9,386.6 422.6,387.3 422.6,387.6C422.6,387.9 421.9,388.6 421.6,388.6C421.3,388.6 420.6,387.9 420.6,387.6Z" fill="#e11400"/>
<path d="M620.0,297.4C620.3,294.9 624.7,290.7 628.0,289.0C631.3,287.3 636.0,287.2 640.0,287.0C644.0,286.8 651.0,286.0 652.0,288.0C653.0,290.0 648.0,296.2 646.0,299.0C644.0,301.8 642.0,303.3 640.0,305.0C638.0,306.7 636.3,309.6 634.0,309.4C631.7,309.2 628.3,306.0 626.0,304.0C623.7,302.0 619.7,299.9 620.0,297.4Z" fill="#e11400"/>
<path d="M514.0,387.0C514.3,384.7 516.0,381.3 518.0,379.0C520.0,376.7 523.0,374.8 526.0,373.0C529.0,371.2 532.3,369.3 536.0,368.0C539.7,366.7 544.0,366.2 548.0,365.0C552.0,363.8 558.0,361.0 560.0,361.0C562.0,361.0 558.0,365.0 560.0,365.0C562.0,365.0 567.7,362.3 572.0,361.0C576.3,359.7 581.3,357.8 586.0,357.0C590.7,356.2 596.0,356.7 600.0,356.0C604.0,355.3 606.7,354.2 610.0,353.0C613.3,351.8 616.7,350.3 620.0,349.0C623.3,347.7 626.7,346.7 630.0,345.0C633.3,343.3 636.7,341.0 640.0,339.0C643.3,337.0 646.7,334.7 650.0,333.0C653.3,331.3 656.7,330.5 660.0,329.0C663.3,327.5 666.7,325.7 670.0,324.0C673.3,322.3 676.7,320.5 680.0,319.0C683.3,317.5 686.7,316.5 690.0,315.0C693.3,313.5 696.7,311.5 700.0,310.0C703.3,308.5 706.7,307.0 710.0,306.0C713.3,305.0 716.7,304.2 720.0,304.0C723.3,303.8 727.0,304.2 730.0,305.0C733.0,305.8 736.2,306.7 738.0,309.0C739.8,311.3 740.3,315.7 741.0,319.0C741.7,322.3 742.5,325.7 742.0,329.0C741.5,332.3 739.7,335.7 738.0,339.0C736.3,342.3 734.0,346.0 732.0,349.0C730.0,352.0 728.0,354.3 726.0,357.0C724.0,359.7 722.0,362.3 720.0,365.0C718.0,367.7 716.0,370.7 714.0,373.0C712.0,375.3 710.3,377.0 708.0,379.0C705.7,381.0 703.3,383.3 700.0,385.0C696.7,386.7 692.0,387.8 688.0,389.0C684.0,390.2 680.0,390.8 676.0,392.0C672.0,393.2 668.0,394.7 664.0,396.0C660.0,397.3 656.0,398.5 652.0,400.0C648.0,401.5 644.0,403.5 640.0,405.0C636.0,406.5 632.3,407.7 628.0,409.0C623.7,410.3 618.7,411.3 614.0,413.0C609.3,414.7 604.7,417.5 600.0,419.0C595.3,420.5 590.7,421.5 586.0,422.0C581.3,422.5 576.3,422.2 572.0,422.0C567.7,421.8 563.3,421.5 560.0,421.0C556.7,420.5 554.7,419.8 552.0,419.0C549.3,418.2 546.7,417.3 544.0,416.0C541.3,414.7 538.7,412.8 536.0,411.0C533.3,409.2 530.3,407.0 528.0,405.0C525.7,403.0 524.0,401.0 522.0,399.0C520.0,397.0 517.3,395.0 516.0,393.0C514.7,391.0 513.7,389.3 514.0,387.0Z" fill="#e11400"/>
<path d="M549.0,381.0C550.0,378.7 552.8,377.3 556.0,375.0C559.2,372.7 564.3,369.0 568.0,367.0C571.7,365.0 574.3,364.2 578.0,363.0C581.7,361.8 585.7,360.7 590.0,360.0C594.3,359.3 599.7,359.3 604.0,359.0C608.3,358.7 612.0,358.7 616.0,358.0C620.0,357.3 624.3,356.2 628.0,355.0C631.7,353.8 635.0,352.7 638.0,351.0C641.0,349.3 643.0,347.0 646.0,345.0C649.0,343.0 652.7,340.7 656.0,339.0C659.3,337.3 662.7,336.3 666.0,335.0C669.3,333.7 672.7,332.0 676.0,331.0C679.3,330.0 682.7,329.5 686.0,329.0C689.3,328.5 693.0,327.7 696.0,328.0C699.0,328.3 703.3,329.2 704.0,331.0C704.7,332.8 700.3,336.3 700.0,339.0C699.7,341.7 702.7,344.0 702.0,347.0C701.3,350.0 698.3,354.0 696.0,357.0C693.7,360.0 690.7,362.3 688.0,365.0C685.3,367.7 683.0,370.7 680.0,373.0C677.0,375.3 673.3,377.3 670.0,379.0C666.7,380.7 663.3,381.2 660.0,383.0C656.7,384.8 653.3,387.8 650.0,390.0C646.7,392.2 643.7,394.3 640.0,396.0C636.3,397.7 632.3,398.5 628.0,400.0C623.7,401.5 618.7,403.2 614.0,405.0C609.3,406.8 604.7,409.3 600.0,411.0C595.3,412.7 590.7,414.5 586.0,415.0C581.3,415.5 576.3,414.5 572.0,414.0C567.7,413.5 562.7,412.5 560.0,412.0C557.3,411.5 557.8,412.2 556.0,411.0C554.2,409.8 550.3,407.3 549.0,405.0C547.7,402.7 547.8,399.7 548.0,397.0C548.2,394.3 549.8,391.7 550.0,389.0C550.2,386.3 548.0,383.3 549.0,381.0Z" fill="#a50000"/>
<path d="M560.0,383.0C561.3,380.2 563.3,377.2 566.0,375.0C568.7,372.8 572.3,371.4 576.0,370.0C579.7,368.6 583.3,367.5 588.0,366.6C592.7,365.7 598.7,364.9 604.0,364.6C609.3,364.3 614.7,364.5 620.0,364.6C625.3,364.7 631.0,364.6 636.0,365.0C641.0,365.4 647.8,365.3 650.0,367.0C652.2,368.7 650.0,372.3 649.0,375.0C648.0,377.7 646.2,380.7 644.0,383.0C641.8,385.3 639.0,387.2 636.0,389.0C633.0,390.8 629.7,392.3 626.0,394.0C622.3,395.7 618.0,397.2 614.0,399.0C610.0,400.8 606.3,403.7 602.0,405.0C597.7,406.3 592.3,406.8 588.0,407.0C583.7,407.2 579.7,406.7 576.0,406.0C572.3,405.3 568.7,404.2 566.0,403.0C563.3,401.8 561.3,400.8 560.0,399.0C558.7,397.2 558.0,394.7 558.0,392.0C558.0,389.3 558.7,385.8 560.0,383.0Z" fill="#f0a0a0"/>
<path d="M574.0,389.0C574.0,387.0 576.3,385.0 578.0,383.0C579.7,381.0 581.7,378.7 584.0,377.0C586.3,375.3 588.7,374.0 592.0,373.0C595.3,372.0 600.0,371.0 604.0,371.0C608.0,371.0 612.5,372.0 616.0,373.0C619.5,374.0 624.3,375.3 625.0,377.0C625.7,378.7 621.5,381.0 620.0,383.0C618.5,385.0 618.3,387.3 616.0,389.0C613.7,390.7 609.3,391.7 606.0,393.0C602.7,394.3 599.3,396.2 596.0,397.0C592.7,397.8 589.0,398.3 586.0,398.0C583.0,397.7 580.0,396.5 578.0,395.0C576.0,393.5 574.0,391.0 574.0,389.0Z" fill="#ffe1e1"/>
</g>
<g clip-path="url(#c1)"><use href="#coast" x="0" y="0"/></g>
<g shape-rendering="crispEdges" stroke="#000" fill="none">
<rect x="45" y="250" width="720" height="236" stroke-width="2"/>
<path d="M45.5,487 v5M110.5,487 v5M175.5,487 v5M241.5,487 v5M306.5,487 v5M372.5,487 v5M437.5,487 v5M503.5,487 v5M568.5,487 v5M634.5,487 v5M699.5,487 v5M765.5,487 v5M44,270.5 h-5M44,309.5 h-5M44,349.5 h-5M44,388.5 h-5M44,427.5 h-5M44,467.5 h-5" stroke-width="1"/>
</g>
<g clip-path="url(#c2)" shape-rendering="crispEdges">
<path d="M917.1,367.6C918.2,365.8 921.3,363.2 924.1,362.3C926.9,361.4 931.4,361.5 934.1,362.3C936.9,363.1 940.8,364.8 940.7,367.1C940.5,369.4 935.6,372.9 933.1,376.1C930.6,379.4 924.4,384.9 925.6,386.7C926.8,388.4 937.3,388.3 940.2,386.7C943.0,385.1 942.0,380.0 942.7,377.1C943.3,374.3 942.9,371.0 944.2,369.6C945.4,368.3 948.9,370.0 950.2,369.1C951.5,368.3 951.2,365.6 952.2,364.6C953.2,363.6 954.9,363.1 956.2,363.1C957.6,363.1 959.1,363.6 960.2,364.6C961.4,365.6 962.6,367.2 963.3,369.1C963.9,371.0 964.4,374.0 964.3,376.1C964.1,378.3 963.0,380.3 962.2,382.2C961.5,384.0 960.0,385.7 960.0,387.2C960.0,388.7 961.4,390.1 962.2,391.2C963.1,392.3 963.4,393.3 965.3,393.7C967.1,394.1 971.0,394.5 973.3,393.7C975.6,393.0 977.8,390.6 979.3,389.2C980.8,387.8 981.7,387.0 982.3,385.2C982.9,383.3 981.8,380.5 982.8,378.2C983.8,375.8 986.1,373.6 988.4,371.1C990.6,368.6 993.7,365.8 996.4,363.1C999.1,360.4 1001.7,357.4 1004.4,355.1C1007.1,352.7 1009.8,350.8 1012.4,349.0C1015.1,347.3 1017.5,345.5 1020.5,344.5C1023.5,343.5 1027.2,343.1 1030.5,343.0C1033.9,342.9 1037.7,343.2 1040.6,344.0C1043.4,344.9 1045.4,346.2 1047.6,348.0C1049.8,349.9 1051.9,352.6 1053.6,355.1C1055.3,357.6 1056.5,360.6 1057.6,363.1C1058.8,365.6 1060.0,367.6 1060.6,370.1C1061.3,372.6 1060.3,377.3 1061.6,378.2C1063.0,379.0 1066.1,376.2 1069.0,375.0C1071.9,373.8 1076.5,372.7 1079.0,371.0C1081.5,369.3 1083.2,367.3 1084.0,365.0C1084.8,362.7 1084.7,360.0 1084.0,357.0C1083.3,354.0 1082.0,349.8 1080.0,347.0C1078.0,344.2 1074.8,342.2 1072.0,340.0C1069.2,337.8 1066.2,335.7 1063.0,334.0C1059.8,332.3 1054.8,331.5 1053.0,330.0C1051.2,328.5 1051.3,326.8 1052.0,325.0C1052.7,323.2 1054.8,320.7 1057.0,319.0C1059.2,317.3 1061.3,316.2 1065.0,315.0C1068.7,313.8 1074.0,313.1 1079.0,312.0C1084.0,310.9 1089.0,309.4 1095.0,308.6C1101.0,307.8 1108.3,307.3 1115.0,307.0C1121.7,306.7 1128.3,306.3 1135.0,306.6C1141.7,306.9 1148.7,308.2 1155.0,309.0C1161.3,309.8 1167.0,311.2 1173.0,311.4C1179.0,311.6 1185.3,310.2 1191.0,310.0C1196.7,309.8 1202.8,309.5 1207.0,310.0C1211.2,310.5 1212.8,312.2 1216.0,313.0C1219.2,313.8 1222.7,314.2 1226.0,315.0C1229.3,315.8 1233.7,316.8 1236.0,318.0C1238.3,319.2 1240.0,320.2 1240.0,322.0C1240.0,323.8 1236.0,326.8 1236.0,329.0C1236.0,331.2 1238.0,333.3 1240.0,335.0C1242.0,336.7 1244.7,337.7 1248.0,339.0C1251.3,340.3 1256.7,341.3 1260.0,343.0C1263.3,344.7 1265.3,347.0 1268.0,349.0C1270.7,351.0 1273.7,353.2 1276.0,355.0C1278.3,356.8 1279.7,358.0 1282.0,360.0C1284.3,362.0 1287.3,364.8 1290.0,367.0C1292.7,369.2 1295.3,371.3 1298.0,373.0C1300.7,374.7 1303.3,375.7 1306.0,377.0C1308.7,378.3 1311.3,379.8 1314.0,381.0C1316.7,382.2 1319.3,383.7 1322.0,384.0C1324.7,384.3 1328.3,384.0 1330.0,383.0C1331.7,382.0 1332.3,379.7 1332.0,378.0C1331.7,376.3 1329.7,375.2 1328.0,373.0C1326.3,370.8 1323.8,367.3 1322.0,365.0C1320.2,362.7 1318.7,361.3 1317.0,359.0C1315.3,356.7 1313.3,353.7 1312.0,351.0C1310.7,348.3 1309.3,346.0 1309.0,343.0C1308.7,340.0 1309.0,335.7 1310.0,333.0C1311.0,330.3 1312.7,328.8 1315.0,327.0C1317.3,325.2 1320.5,323.5 1324.0,322.0C1327.5,320.5 1332.0,319.0 1336.0,318.0C1340.0,317.0 1345.3,316.3 1348.0,316.0C1350.7,315.7 1349.3,316.0 1352.0,316.0C1354.7,316.0 1360.0,315.7 1364.0,316.0C1368.0,316.3 1372.0,317.2 1376.0,318.0C1380.0,318.8 1384.0,320.0 1388.0,321.0C1392.0,322.0 1396.3,323.2 1400.0,324.0C1403.7,324.8 1406.7,325.5 1410.0,326.0C1413.3,326.5 1416.3,326.7 1420.0,327.0C1423.7,327.3 1428.7,327.3 1432.0,328.0C1435.3,328.7 1437.3,329.8 1440.0,331.0C1442.7,332.2 1445.7,333.3 1448.0,335.0C1450.3,336.7 1451.7,339.3 1454.0,341.0C1456.3,342.7 1459.0,344.0 1462.0,345.0C1465.0,346.0 1469.3,346.5 1472.0,347.0C1474.7,347.5 1476.3,348.5 1478.0,348.0C1479.7,347.5 1480.7,345.2 1482.0,344.0C1483.3,342.8 1483.7,341.5 1486.0,341.0C1488.3,340.5 1492.7,341.2 1496.0,341.0C1499.3,340.8 1503.0,340.5 1506.0,340.0C1509.0,339.5 1514.3,338.8 1514.0,338.0C1513.7,337.2 1507.3,336.0 1504.0,335.0C1500.7,334.0 1496.7,333.2 1494.0,332.0C1491.3,330.8 1489.3,329.5 1488.0,328.0C1486.7,326.5 1487.3,324.5 1486.0,323.0C1484.7,321.5 1482.0,320.3 1480.0,319.0C1478.0,317.7 1476.0,316.7 1474.0,315.0C1472.0,313.3 1469.7,311.0 1468.0,309.0C1466.3,307.0 1465.7,304.7 1464.0,303.0C1462.3,301.3 1460.3,300.7 1458.0,299.0C1455.7,297.3 1452.3,295.0 1450.0,293.0C1447.7,291.0 1446.0,288.8 1444.0,287.0C1442.0,285.2 1439.2,283.5 1438.0,282.0C1436.8,280.5 1435.7,279.0 1437.0,278.0C1438.3,277.0 1442.2,276.5 1446.0,276.0C1449.8,275.5 1455.3,275.2 1460.0,275.0C1464.7,274.8 1470.0,274.5 1474.0,275.0C1478.0,275.5 1481.3,277.1 1484.0,278.0C1486.7,278.9 1487.3,280.1 1490.0,280.6C1492.7,281.1 1496.3,281.0 1500.0,281.0C1503.7,281.0 1507.7,280.7 1512.0,280.6C1516.3,280.5 1521.3,280.5 1526.0,280.6C1530.7,280.7 1536.3,280.7 1540.0,281.0C1543.7,281.3 1545.9,282.8 1548.3,282.6C1550.7,282.5 1552.3,281.2 1554.3,280.1C1556.3,279.0 1557.6,277.4 1560.3,276.1C1563.0,274.8 1567.0,273.4 1570.4,272.1C1573.7,270.7 1577.7,269.4 1580.4,268.1C1583.1,266.7 1584.3,265.4 1586.4,264.1C1588.5,262.7 1593.1,261.1 1593.0,260.0C1592.8,259.0 1589.2,258.2 1585.4,257.5C1581.7,256.9 1576.2,256.6 1570.4,256.0C1564.5,255.4 1557.0,254.9 1550.3,254.0C1543.6,253.2 1533.9,252.7 1530.2,251.0C1526.5,249.3 1509.8,245.1 1528.2,244.0C1546.6,242.8 1622.0,216.6 1640.6,244.0C1659.3,271.3 1643.4,380.7 1640.0,408.0C1636.6,435.3 1624.3,407.5 1620.0,408.0C1615.7,408.5 1616.3,409.8 1614.0,411.0C1611.7,412.2 1609.0,414.2 1606.0,415.0C1603.0,415.8 1599.0,415.3 1596.0,416.0C1593.0,416.7 1591.0,417.7 1588.0,419.0C1585.0,420.3 1581.3,422.5 1578.0,424.0C1574.7,425.5 1571.7,426.8 1568.0,428.0C1564.3,429.2 1560.0,430.0 1556.0,431.0C1552.0,432.0 1548.0,433.4 1544.0,434.0C1540.0,434.6 1536.3,434.8 1532.0,434.6C1527.7,434.4 1522.3,433.8 1518.0,433.0C1513.7,432.2 1510.0,431.2 1506.0,430.0C1502.0,428.8 1498.3,427.0 1494.0,426.0C1489.7,425.0 1485.0,424.3 1480.0,424.0C1475.0,423.7 1469.3,424.0 1464.0,424.0C1458.7,424.0 1453.3,424.0 1448.0,424.0C1442.7,424.0 1437.3,423.7 1432.0,424.0C1426.7,424.3 1420.7,425.4 1416.0,426.0C1411.3,426.6 1407.7,427.6 1404.0,427.4C1400.3,427.2 1396.7,426.4 1394.0,425.0C1391.3,423.6 1390.0,420.8 1388.0,419.0C1386.0,417.2 1384.7,414.5 1382.0,414.0C1379.3,413.5 1375.7,415.2 1372.0,416.0C1368.3,416.8 1364.0,418.2 1360.0,419.0C1356.0,419.8 1351.3,421.0 1348.0,421.0C1344.7,421.0 1342.7,419.7 1340.0,419.0C1337.3,418.3 1333.8,416.7 1332.0,417.0C1330.2,417.3 1330.0,419.0 1329.0,421.0C1328.0,423.0 1327.2,426.3 1326.0,429.0C1324.8,431.7 1323.3,434.3 1322.0,437.0C1320.7,439.7 1319.7,442.5 1318.0,445.0C1316.3,447.5 1314.0,450.2 1312.0,452.0C1310.0,453.8 1308.7,454.7 1306.0,456.0C1303.3,457.3 1299.3,458.7 1296.0,460.0C1292.7,461.3 1289.0,464.0 1286.0,464.0C1283.0,464.0 1280.3,461.5 1278.0,460.0C1275.7,458.5 1274.3,456.8 1272.0,455.0C1269.7,453.2 1266.7,450.7 1264.0,449.0C1261.3,447.3 1259.3,446.0 1256.0,445.0C1252.7,444.0 1247.7,443.8 1244.0,443.0C1240.3,442.2 1237.0,441.0 1234.0,440.0C1231.0,439.0 1228.0,437.0 1226.0,437.0C1224.0,437.0 1223.3,438.7 1222.0,440.0C1220.7,441.3 1219.7,443.2 1218.0,445.0C1216.3,446.8 1214.3,449.0 1212.0,451.0C1209.7,453.0 1207.0,455.3 1204.0,457.0C1201.0,458.7 1197.7,460.3 1194.0,461.0C1190.3,461.7 1186.3,461.3 1182.0,461.0C1177.7,460.7 1173.0,459.7 1168.0,459.0C1163.0,458.3 1157.3,457.7 1152.0,457.0C1146.7,456.3 1141.3,455.5 1136.0,455.0C1130.7,454.5 1124.2,454.2 1120.0,454.0C1115.8,453.8 1114.5,454.2 1111.0,454.0C1107.5,453.8 1103.0,454.0 1099.0,453.0C1095.0,452.0 1091.0,449.2 1087.0,448.0C1083.0,446.8 1078.7,446.1 1075.0,446.0C1071.3,445.9 1068.1,447.0 1065.0,447.4C1061.9,447.8 1059.0,447.9 1056.6,448.4C1054.2,448.9 1053.3,449.4 1050.6,450.4C1047.9,451.4 1043.9,453.5 1040.6,454.5C1037.2,455.4 1033.9,455.6 1030.5,456.0C1027.2,456.3 1023.8,456.4 1020.5,456.5C1017.1,456.5 1013.8,456.5 1010.4,456.5C1007.1,456.5 1003.7,456.5 1000.4,456.5C997.1,456.5 993.7,456.6 990.4,456.5C987.0,456.3 983.3,455.9 980.3,455.5C977.3,455.0 975.0,454.6 972.3,454.0C969.6,453.3 966.9,452.2 964.3,451.4C961.6,450.7 958.6,450.4 956.2,449.4C953.9,448.4 951.9,446.9 950.2,445.4C948.5,443.9 947.9,442.1 946.2,440.4C944.5,438.7 942.3,436.9 940.2,435.4C938.0,433.9 935.5,433.0 933.1,431.4C930.8,429.7 928.3,427.2 926.1,425.3C923.9,423.5 921.7,422.2 920.1,420.3C918.5,418.5 917.4,417.0 916.6,414.3C915.7,411.6 915.1,407.3 915.1,404.3C915.1,401.2 915.7,398.6 916.6,396.2C917.4,393.9 918.9,391.8 920.1,390.2C921.3,388.6 923.6,388.4 923.6,386.7C923.6,385.0 921.1,382.4 920.1,380.2C919.1,377.9 918.1,375.2 917.6,373.1C917.1,371.0 916.0,369.4 917.1,367.6Z" fill="#ffe878"/>
<path d="M1526.2,318.8C1526.5,318.1 1529.9,317.4 1532.2,316.8C1534.6,316.2 1538.0,314.8 1540.2,315.3C1542.5,315.7 1545.8,318.4 1545.8,319.3C1545.8,320.2 1542.8,320.5 1540.2,320.8C1537.6,321.0 1532.5,321.1 1530.2,320.8C1527.9,320.4 1525.9,319.4 1526.2,318.8Z" fill="#ffffff"/>
<path d="M1563.8,319.3C1563.3,318.5 1566.2,317.0 1567.3,316.3C1568.5,315.6 1569.4,314.6 1570.9,315.1C1572.3,315.6 1576.0,318.3 1575.9,319.3C1575.8,320.2 1572.4,320.8 1570.4,320.8C1568.4,320.8 1564.3,320.0 1563.8,319.3Z" fill="#ffffff"/>
<path d="M949.0,415.8C949.3,414.4 953.5,412.9 956.2,411.8C958.9,410.7 962.2,410.4 965.3,409.3C968.3,408.2 971.5,406.5 974.3,405.3C977.1,404.0 979.7,402.9 982.3,401.7C985.0,400.6 987.3,398.9 990.4,398.2C993.4,397.6 997.0,397.9 1000.4,397.7C1003.8,397.6 1008.9,398.0 1010.9,397.4C1013.0,396.8 1011.8,395.6 1012.4,394.2C1013.1,392.8 1015.0,390.9 1015.0,389.2C1015.0,387.5 1013.4,385.9 1012.4,384.2C1011.5,382.5 1010.0,381.0 1009.4,379.2C1008.9,377.3 1008.8,375.1 1008.9,373.1C1009.1,371.1 1009.4,368.9 1010.4,367.1C1011.5,365.4 1013.8,363.7 1015.5,362.6C1017.1,361.5 1018.0,360.7 1020.5,360.4C1023.0,360.0 1028.0,359.9 1030.5,360.4C1033.0,360.8 1034.0,362.0 1035.5,363.1C1037.0,364.2 1038.6,365.8 1039.6,367.1C1040.5,368.4 1040.6,369.6 1041.1,371.1C1041.6,372.6 1041.6,374.5 1042.6,376.1C1043.5,377.8 1045.2,379.5 1046.6,381.2C1047.9,382.8 1049.3,384.8 1050.6,386.2C1051.9,387.5 1052.9,388.6 1054.6,389.2C1056.3,389.8 1057.9,390.1 1060.6,389.7C1063.4,389.3 1067.3,387.9 1071.0,387.0C1074.7,386.1 1079.5,385.0 1083.0,384.0C1086.5,383.0 1089.3,382.5 1092.0,381.0C1094.7,379.5 1097.2,377.7 1099.0,375.0C1100.8,372.3 1102.2,368.7 1103.0,365.0C1103.8,361.3 1104.0,357.0 1104.0,353.0C1104.0,349.0 1103.0,345.0 1103.0,341.0C1103.0,337.0 1103.8,331.1 1104.0,329.0C1104.2,326.9 1102.5,328.7 1104.0,328.1C1105.5,327.5 1110.4,326.3 1113.1,325.6C1115.7,324.9 1117.4,325.4 1120.1,324.1C1122.8,322.8 1126.1,318.1 1129.1,318.1C1132.1,318.1 1134.6,322.9 1138.2,324.1C1141.7,325.3 1146.5,324.6 1150.2,325.1C1153.9,325.6 1156.9,326.1 1160.2,327.1C1163.6,328.1 1166.9,329.3 1170.3,331.1C1173.6,333.0 1179.5,336.0 1180.3,338.2C1181.2,340.3 1176.3,342.2 1175.3,344.2C1174.3,346.2 1174.2,348.2 1174.1,350.2C1174.0,352.2 1173.9,354.1 1174.8,356.2C1175.7,358.3 1177.4,361.9 1179.3,362.8C1181.2,363.6 1184.0,362.0 1186.3,361.2C1188.7,360.5 1191.0,359.2 1193.4,358.2C1195.7,357.2 1197.9,356.0 1200.4,355.2C1202.9,354.5 1205.9,353.5 1208.4,353.7C1210.9,353.9 1213.5,355.5 1215.5,356.2C1217.5,357.0 1218.0,357.9 1220.5,358.2C1223.0,358.6 1227.2,358.1 1230.5,358.2C1233.9,358.3 1237.2,358.4 1240.6,358.7C1243.9,359.1 1247.6,359.3 1250.6,360.2C1253.6,361.2 1255.7,362.8 1258.6,364.3C1261.5,365.7 1264.4,367.5 1268.0,369.0C1271.6,370.5 1276.3,371.7 1280.0,373.0C1283.7,374.3 1286.7,375.0 1290.0,377.0C1293.3,379.0 1296.7,382.3 1300.0,385.0C1303.3,387.7 1307.0,390.3 1310.0,393.0C1313.0,395.7 1315.7,398.7 1318.0,401.0C1320.3,403.3 1322.5,404.7 1324.0,407.0C1325.5,409.3 1327.0,412.0 1327.0,415.0C1327.0,418.0 1325.2,422.0 1324.0,425.0C1322.8,428.0 1321.7,430.0 1320.0,433.0C1318.3,436.0 1316.0,440.3 1314.0,443.0C1312.0,445.7 1310.3,447.5 1308.0,449.0C1305.7,450.5 1302.7,451.2 1300.0,452.0C1297.3,452.8 1294.3,454.0 1292.0,454.0C1289.7,454.0 1288.0,453.2 1286.0,452.0C1284.0,450.8 1282.0,449.0 1280.0,447.0C1278.0,445.0 1276.0,442.2 1274.0,440.0C1272.0,437.8 1270.3,435.8 1268.0,434.0C1265.7,432.2 1263.3,430.2 1260.0,429.0C1256.7,427.8 1252.0,427.5 1248.0,427.0C1244.0,426.5 1239.7,426.2 1236.0,426.0C1232.3,425.8 1229.0,425.7 1226.0,426.0C1223.0,426.3 1220.0,426.8 1218.0,428.0C1216.0,429.2 1215.3,431.2 1214.0,433.0C1212.7,434.8 1211.7,437.0 1210.0,439.0C1208.3,441.0 1206.7,443.3 1204.0,445.0C1201.3,446.7 1198.0,448.2 1194.0,449.0C1190.0,449.8 1185.0,450.2 1180.0,450.0C1175.0,449.8 1168.7,448.8 1164.0,448.0C1159.3,447.2 1155.3,446.0 1152.0,445.0C1148.7,444.0 1147.3,442.8 1144.0,442.0C1140.7,441.2 1136.0,440.7 1132.0,440.0C1128.0,439.3 1125.3,439.6 1120.0,438.0C1114.7,436.4 1105.5,431.5 1100.0,430.2C1094.5,428.9 1091.2,429.9 1087.0,430.0C1082.8,430.1 1078.7,430.5 1075.0,431.0C1071.3,431.5 1067.7,432.4 1065.0,433.0C1062.3,433.6 1061.0,433.7 1058.6,434.4C1056.2,435.0 1053.6,436.0 1050.6,436.9C1047.6,437.8 1043.9,439.0 1040.6,439.9C1037.2,440.8 1034.7,442.0 1030.5,442.4C1026.3,442.8 1019.6,442.5 1015.5,442.4C1011.3,442.3 1008.8,442.2 1005.4,441.9C1002.1,441.7 998.7,441.5 995.4,440.9C992.0,440.3 988.2,439.3 985.3,438.4C982.5,437.5 980.8,436.6 978.3,435.4C975.8,434.2 973.0,432.9 970.3,431.4C967.6,429.9 964.9,428.2 962.2,426.3C959.6,424.5 956.4,422.1 954.2,420.3C952.0,418.6 948.7,417.2 949.0,415.8Z" fill="#ffa000"/>
<path d="M1180.0,330.0C1180.3,328.2 1184.2,324.8 1186.0,324.0C1187.8,323.2 1188.7,323.5 1191.0,325.0C1193.3,326.5 1197.3,330.8 1200.0,333.0C1202.7,335.2 1206.7,336.3 1207.0,338.0C1207.3,339.7 1204.2,343.2 1202.0,343.0C1199.8,342.8 1197.0,338.3 1194.0,337.0C1191.0,335.7 1186.3,336.2 1184.0,335.0C1181.7,333.8 1179.7,331.8 1180.0,330.0Z" fill="#ffa000"/>
<path d="M938.7,406.3L942.7,406.1L942.2,408.3L939.7,408.5Z" fill="#ffa000"/>
<path d="M1331.0,341.0C1331.0,338.5 1331.8,337.5 1334.0,336.0C1336.2,334.5 1340.3,333.2 1344.0,332.0C1347.7,330.8 1352.0,329.6 1356.0,329.0C1360.0,328.4 1364.0,328.4 1368.0,328.6C1372.0,328.8 1376.0,329.4 1380.0,330.0C1384.0,330.6 1388.0,331.2 1392.0,332.0C1396.0,332.8 1400.3,334.3 1404.0,335.0C1407.7,335.7 1410.7,335.7 1414.0,336.0C1417.3,336.3 1420.7,336.3 1424.0,337.0C1427.3,337.7 1431.0,338.8 1434.0,340.0C1437.0,341.2 1439.3,342.8 1442.0,344.0C1444.7,345.2 1447.0,346.0 1450.0,347.0C1453.0,348.0 1456.3,349.0 1460.0,350.0C1463.7,351.0 1468.0,352.3 1472.0,353.0C1476.0,353.7 1480.0,353.8 1484.0,354.0C1488.0,354.2 1492.0,354.2 1496.0,354.0C1500.0,353.8 1504.0,353.5 1508.0,353.0C1512.0,352.5 1516.0,351.8 1520.0,351.0C1524.0,350.2 1528.6,348.4 1532.0,348.0C1535.4,347.6 1537.2,348.8 1540.2,348.4C1543.3,348.0 1546.9,346.4 1550.3,345.4C1553.6,344.4 1557.3,343.2 1560.3,342.4C1563.3,341.5 1566.3,341.2 1568.4,340.4C1570.4,339.5 1571.0,338.5 1572.4,337.3C1573.7,336.2 1575.0,334.7 1576.4,333.3C1577.7,332.0 1579.1,330.8 1580.4,329.3C1581.7,327.8 1583.2,325.8 1584.4,324.3C1585.7,322.8 1587.2,322.0 1587.9,320.3C1588.7,318.6 1589.0,316.1 1588.9,314.3C1588.9,312.4 1588.9,310.6 1587.4,309.2C1586.0,307.9 1583.2,307.2 1580.4,306.2C1577.6,305.2 1573.7,304.2 1570.4,303.2C1567.0,302.2 1563.2,301.0 1560.3,300.2C1557.5,299.4 1553.0,299.7 1553.3,298.7C1553.6,297.7 1559.8,295.9 1562.3,294.2C1564.8,292.4 1566.3,290.0 1568.4,288.2C1570.4,286.3 1572.4,284.6 1574.4,283.1C1576.4,281.6 1577.7,280.1 1580.4,279.1C1583.1,278.1 1587.1,277.9 1590.4,277.1C1593.8,276.4 1597.1,275.5 1600.5,274.6C1603.8,273.7 1607.3,272.4 1610.5,271.6C1613.7,270.7 1614.5,270.3 1619.6,269.6C1624.6,268.8 1637.2,246.3 1640.6,267.1C1644.0,287.8 1643.4,372.8 1640.0,394.0C1636.6,415.2 1624.7,393.5 1620.0,394.0C1615.3,394.5 1614.7,396.0 1612.0,397.0C1609.3,398.0 1607.0,399.0 1604.0,400.0C1601.0,401.0 1597.3,401.7 1594.0,403.0C1590.7,404.3 1587.7,406.3 1584.0,408.0C1580.3,409.7 1576.0,411.5 1572.0,413.0C1568.0,414.5 1564.0,415.8 1560.0,417.0C1556.0,418.2 1552.0,419.3 1548.0,420.0C1544.0,420.7 1540.0,421.2 1536.0,421.4C1532.0,421.6 1528.0,421.4 1524.0,421.0C1520.0,420.6 1516.0,419.7 1512.0,419.0C1508.0,418.3 1504.0,417.5 1500.0,417.0C1496.0,416.5 1492.3,416.1 1488.0,416.0C1483.7,415.9 1478.7,416.5 1474.0,416.6C1469.3,416.7 1464.3,416.9 1460.0,416.6C1455.7,416.3 1452.0,415.7 1448.0,415.0C1444.0,414.3 1440.0,413.3 1436.0,412.6C1432.0,411.9 1427.7,411.8 1424.0,411.0C1420.3,410.2 1416.7,409.3 1414.0,408.0C1411.3,406.7 1410.3,405.3 1408.0,403.0C1405.7,400.7 1403.0,396.0 1400.0,394.0C1397.0,392.0 1393.7,391.3 1390.0,391.0C1386.3,390.7 1382.3,391.8 1378.0,392.0C1373.7,392.2 1368.3,392.5 1364.0,392.0C1359.7,391.5 1355.0,390.5 1352.0,389.0C1349.0,387.5 1347.2,385.7 1346.0,383.0C1344.8,380.3 1346.0,376.7 1345.0,373.0C1344.0,369.3 1341.8,364.7 1340.0,361.0C1338.2,357.3 1335.5,354.3 1334.0,351.0C1332.5,347.7 1331.0,343.5 1331.0,341.0Z" fill="#ffa000"/>
<path d="M1459.0,294.0C1459.0,291.8 1461.2,288.5 1464.0,287.0C1466.8,285.5 1471.7,285.2 1476.0,285.0C1480.3,284.8 1485.7,286.0 1490.0,286.0C1494.3,286.0 1498.0,285.0 1502.0,285.0C1506.0,285.0 1509.7,285.3 1514.0,286.0C1518.3,286.7 1524.5,287.3 1528.0,289.0C1531.5,290.7 1534.3,293.8 1535.0,296.0C1535.7,298.2 1534.2,300.5 1532.0,302.0C1529.8,303.5 1525.3,303.8 1522.0,305.0C1518.7,306.2 1515.7,307.5 1512.0,309.0C1508.3,310.5 1503.7,313.2 1500.0,314.0C1496.3,314.8 1493.3,314.7 1490.0,314.0C1486.7,313.3 1483.0,311.7 1480.0,310.0C1477.0,308.3 1474.7,305.7 1472.0,304.0C1469.3,302.3 1466.2,301.7 1464.0,300.0C1461.8,298.3 1459.0,296.2 1459.0,294.0Z" fill="#ffa000"/>
<path d="M1560.3,332.3C1560.8,331.6 1562.8,330.2 1565.3,329.3C1567.9,328.4 1573.6,326.7 1575.4,326.8C1577.1,326.9 1577.1,328.9 1575.9,329.8C1574.7,330.7 1570.6,331.7 1568.4,332.3C1566.1,333.0 1563.7,333.8 1562.3,333.8C1561.0,333.8 1559.8,333.1 1560.3,332.3Z" fill="#ffa000"/>
<path d="M985.0,416.0C984.7,414.0 986.0,410.7 989.0,409.0C992.0,407.3 998.7,407.0 1003.0,406.0C1007.3,405.0 1011.0,403.2 1015.0,403.0C1019.0,402.8 1023.0,404.3 1027.0,405.0C1031.0,405.7 1035.0,407.0 1039.0,407.0C1043.0,407.0 1047.3,406.3 1051.0,405.0C1054.7,403.7 1058.0,401.0 1061.0,399.0C1064.0,397.0 1065.7,394.3 1069.0,393.0C1072.3,391.7 1077.3,391.7 1081.0,391.0C1084.7,390.3 1088.0,390.0 1091.0,389.0C1094.0,388.0 1096.3,386.7 1099.0,385.0C1101.7,383.3 1104.7,381.3 1107.0,379.0C1109.3,376.7 1111.7,374.0 1113.0,371.0C1114.3,368.0 1114.8,364.3 1115.0,361.0C1115.2,357.7 1113.3,354.3 1114.0,351.0C1114.7,347.7 1117.2,343.3 1119.0,341.0C1120.8,338.7 1123.1,337.6 1125.0,337.0C1126.9,336.4 1127.6,336.8 1130.1,337.7C1132.6,338.5 1136.8,340.6 1140.2,342.2C1143.5,343.8 1147.5,345.5 1150.2,347.2C1152.9,348.9 1154.2,350.4 1156.2,352.2C1158.2,354.0 1160.7,355.6 1162.2,358.2C1163.8,360.9 1164.7,364.9 1165.3,368.3C1165.8,371.6 1166.3,375.5 1165.8,378.3C1165.3,381.2 1163.8,383.3 1162.2,385.3C1160.7,387.3 1157.9,388.5 1156.2,390.4C1154.6,392.2 1152.5,394.0 1152.2,396.4C1151.9,398.7 1152.9,402.2 1154.2,404.4C1155.6,406.6 1157.9,410.1 1160.2,409.4C1162.6,408.8 1166.3,403.6 1168.3,400.4C1170.3,397.2 1170.6,393.7 1172.3,390.4C1174.0,387.0 1176.5,382.7 1178.3,380.3C1180.2,378.0 1181.3,377.6 1183.3,376.3C1185.3,375.0 1187.5,373.5 1190.4,372.3C1193.2,371.1 1197.1,369.8 1200.4,369.3C1203.7,368.8 1207.1,369.1 1210.4,369.3C1213.8,369.4 1217.1,369.8 1220.5,370.3C1223.8,370.8 1228.6,371.7 1230.5,372.3C1232.4,372.9 1229.8,373.5 1232.0,374.0C1234.2,374.5 1240.0,374.5 1244.0,375.0C1248.0,375.5 1252.0,376.5 1256.0,377.0C1260.0,377.5 1264.0,377.3 1268.0,378.0C1272.0,378.7 1276.3,379.8 1280.0,381.0C1283.7,382.2 1286.7,383.3 1290.0,385.0C1293.3,386.7 1297.0,389.0 1300.0,391.0C1303.0,393.0 1305.3,394.7 1308.0,397.0C1310.7,399.3 1313.8,402.3 1316.0,405.0C1318.2,407.7 1320.3,410.0 1321.0,413.0C1321.7,416.0 1320.7,419.7 1320.0,423.0C1319.3,426.3 1318.3,430.0 1317.0,433.0C1315.7,436.0 1314.2,438.7 1312.0,441.0C1309.8,443.3 1307.0,445.5 1304.0,447.0C1301.0,448.5 1297.0,450.0 1294.0,450.0C1291.0,450.0 1288.7,448.7 1286.0,447.0C1283.3,445.3 1279.0,442.0 1278.0,440.0C1277.0,438.0 1278.7,436.8 1280.0,435.0C1281.3,433.2 1284.3,431.3 1286.0,429.0C1287.7,426.7 1290.0,424.0 1290.0,421.0C1290.0,418.0 1288.0,414.3 1286.0,411.0C1284.0,407.7 1281.0,403.8 1278.0,401.0C1275.0,398.2 1271.7,395.3 1268.0,394.0C1264.3,392.7 1259.3,392.8 1256.0,393.0C1252.7,393.2 1250.0,394.0 1248.0,395.0C1246.0,396.0 1244.6,398.5 1244.0,399.0C1243.4,399.5 1244.8,397.1 1244.6,398.2C1244.3,399.2 1243.6,403.3 1242.6,405.2C1241.6,407.0 1240.6,407.9 1238.6,409.2C1236.5,410.5 1233.2,412.0 1230.5,413.2C1227.8,414.4 1224.8,415.1 1222.5,416.2C1220.1,417.4 1218.3,418.6 1216.5,420.2C1214.6,421.9 1213.1,424.4 1211.4,426.3C1209.8,428.1 1208.1,429.6 1206.4,431.3C1204.8,433.0 1203.4,435.0 1201.4,436.3C1199.4,437.6 1196.9,438.5 1194.4,439.3C1191.9,440.2 1189.4,440.9 1186.3,441.3C1183.3,441.7 1180.0,441.8 1176.3,441.8C1172.6,441.8 1167.6,441.7 1164.3,441.3C1160.9,440.9 1158.9,440.5 1156.2,439.3C1153.5,438.1 1149.8,436.6 1148.2,434.3C1146.6,432.0 1148.0,427.4 1146.7,425.3C1145.3,423.1 1143.1,422.2 1140.2,421.2C1137.2,420.2 1131.9,420.2 1129.1,419.2C1126.4,418.2 1124.3,417.4 1123.6,415.2C1122.8,413.0 1125.2,408.9 1124.6,406.2C1124.0,403.5 1122.5,401.0 1120.1,399.2C1117.7,397.3 1113.4,395.7 1110.0,395.1C1106.7,394.6 1103.8,395.0 1100.0,395.6C1096.2,396.3 1091.2,398.3 1087.0,399.0C1082.8,399.7 1078.7,399.3 1075.0,400.0C1071.3,400.7 1067.7,401.5 1065.0,403.0C1062.3,404.5 1060.7,406.7 1059.0,409.0C1057.3,411.3 1055.8,414.5 1055.0,417.0C1054.2,419.5 1055.3,422.2 1054.0,424.0C1052.7,425.8 1050.2,426.7 1047.0,428.0C1043.8,429.3 1039.0,431.2 1035.0,432.0C1031.0,432.8 1027.0,433.3 1023.0,433.0C1019.0,432.7 1015.0,431.2 1011.0,430.0C1007.0,428.8 1002.3,427.5 999.0,426.0C995.7,424.5 993.3,422.7 991.0,421.0C988.7,419.3 985.3,418.0 985.0,416.0Z" fill="#ff6000"/>
<path d="M1267.0,426.0L1269.0,426.0L1269.0,428.0L1267.0,428.0Z" fill="#ff6000"/>
<path d="M1353.0,350.0C1353.7,348.2 1355.5,346.2 1358.0,345.0C1360.5,343.8 1364.3,343.2 1368.0,343.0C1371.7,342.8 1376.0,343.7 1380.0,344.0C1384.0,344.3 1388.0,344.5 1392.0,345.0C1396.0,345.5 1400.3,347.0 1404.0,347.0C1407.7,347.0 1410.7,345.3 1414.0,345.0C1417.3,344.7 1421.3,344.3 1424.0,345.0C1426.7,345.7 1429.2,347.2 1430.0,349.0C1430.8,350.8 1430.7,354.0 1429.0,356.0C1427.3,358.0 1423.2,359.5 1420.0,361.0C1416.8,362.5 1413.3,363.7 1410.0,365.0C1406.7,366.3 1403.3,367.7 1400.0,369.0C1396.7,370.3 1393.3,372.2 1390.0,373.0C1386.7,373.8 1383.0,374.2 1380.0,374.0C1377.0,373.8 1374.0,373.5 1372.0,372.0C1370.0,370.5 1370.0,366.8 1368.0,365.0C1366.0,363.2 1362.3,362.5 1360.0,361.0C1357.7,359.5 1355.2,357.8 1354.0,356.0C1352.8,354.2 1352.3,351.8 1353.0,350.0Z" fill="#ff6000"/>
<path d="M1382.0,357.4L1384.4,357.4L1384.4,359.8L1382.0,359.8Z" fill="#ffa000"/>
<path d="M1468.0,297.0C1468.8,295.7 1474.3,293.8 1478.0,293.0C1481.7,292.2 1485.7,292.2 1490.0,292.0C1494.3,291.8 1499.8,291.7 1504.0,292.0C1508.2,292.3 1513.0,292.8 1515.0,294.0C1517.0,295.2 1516.8,297.3 1516.0,299.0C1515.2,300.7 1512.7,302.3 1510.0,304.0C1507.3,305.7 1503.3,308.2 1500.0,309.0C1496.7,309.8 1493.3,309.7 1490.0,309.0C1486.7,308.3 1482.8,306.3 1480.0,305.0C1477.2,303.7 1475.0,302.3 1473.0,301.0C1471.0,299.7 1467.2,298.3 1468.0,297.0Z" fill="#ff6000"/>
<path d="M1454.0,358.0C1454.3,356.8 1457.7,357.3 1460.0,358.0C1462.3,358.7 1464.7,361.2 1468.0,362.0C1471.3,362.8 1476.0,362.9 1480.0,363.0C1484.0,363.1 1488.0,362.9 1492.0,362.6C1496.0,362.3 1500.0,361.7 1504.0,361.0C1508.0,360.3 1512.0,359.3 1516.0,358.6C1520.0,357.9 1525.6,356.9 1528.0,357.0C1530.4,357.1 1528.2,358.7 1530.2,358.9C1532.2,359.2 1536.9,358.5 1540.2,358.4C1543.6,358.4 1546.9,358.4 1550.3,358.4C1553.6,358.4 1557.0,358.5 1560.3,358.4C1563.7,358.4 1568.0,358.6 1570.4,357.9C1572.7,357.3 1572.7,355.7 1574.4,354.4C1576.1,353.2 1579.1,351.9 1580.4,350.4C1581.7,348.9 1582.4,347.1 1582.4,345.4C1582.4,343.7 1580.6,341.9 1580.4,340.4C1580.2,338.9 1580.7,338.0 1581.4,336.3C1582.1,334.7 1583.2,332.0 1584.4,330.3C1585.6,328.6 1587.1,328.0 1588.4,326.3C1589.8,324.6 1591.4,322.1 1592.4,320.3C1593.5,318.4 1593.7,316.9 1594.5,315.3C1595.2,313.6 1597.1,311.6 1597.0,310.2C1596.8,308.9 1595.4,308.2 1593.5,307.2C1591.5,306.2 1588.4,305.2 1585.4,304.2C1582.4,303.2 1578.3,302.0 1575.4,301.2C1572.5,300.4 1568.4,300.4 1567.9,299.2C1567.3,298.0 1570.9,295.7 1572.4,294.2C1573.8,292.7 1574.7,291.3 1576.4,290.2C1578.1,289.0 1580.1,288.0 1582.4,287.1C1584.8,286.3 1587.4,286.0 1590.4,285.1C1593.5,284.3 1597.1,283.1 1600.5,282.1C1603.8,281.1 1607.3,280.0 1610.5,279.1C1613.7,278.2 1614.5,277.4 1619.6,276.6C1624.6,275.8 1637.2,256.4 1640.6,274.1C1644.0,291.8 1643.4,364.8 1640.0,383.0C1636.6,401.2 1625.0,382.7 1620.0,383.0C1615.0,383.3 1613.3,384.0 1610.0,385.0C1606.7,386.0 1603.3,387.7 1600.0,389.0C1596.7,390.3 1593.3,391.5 1590.0,393.0C1586.7,394.5 1583.7,396.3 1580.0,398.0C1576.3,399.7 1572.0,401.7 1568.0,403.0C1564.0,404.3 1560.0,405.0 1556.0,406.0C1552.0,407.0 1548.0,408.2 1544.0,409.0C1540.0,409.8 1535.7,410.8 1532.0,411.0C1528.3,411.2 1525.3,410.7 1522.0,410.0C1518.7,409.3 1515.7,408.3 1512.0,407.0C1508.3,405.7 1503.7,403.3 1500.0,402.0C1496.3,400.7 1492.7,399.0 1490.0,399.0C1487.3,399.0 1486.3,400.7 1484.0,402.0C1481.7,403.3 1479.0,406.0 1476.0,407.0C1473.0,408.0 1469.0,408.5 1466.0,408.0C1463.0,407.5 1460.3,405.5 1458.0,404.0C1455.7,402.5 1452.3,400.5 1452.0,399.0C1451.7,397.5 1454.7,396.7 1456.0,395.0C1457.3,393.3 1458.8,391.3 1460.0,389.0C1461.2,386.7 1461.0,383.1 1463.0,381.0C1465.0,378.9 1472.0,377.9 1472.0,376.6C1472.0,375.3 1465.3,374.9 1463.0,373.0C1460.7,371.1 1459.5,367.5 1458.0,365.0C1456.5,362.5 1453.7,359.2 1454.0,358.0Z" fill="#ff6000"/>
<path d="M1117.6,376.3C1117.2,373.3 1117.7,368.6 1118.1,365.3C1118.5,361.9 1118.9,358.7 1120.1,356.2C1121.3,353.7 1123.1,351.5 1125.1,350.2C1127.1,348.9 1129.6,348.5 1132.1,348.2C1134.6,347.9 1137.7,347.9 1140.2,348.2C1142.7,348.5 1145.0,349.0 1147.2,350.2C1149.4,351.4 1151.5,353.2 1153.2,355.2C1154.9,357.2 1156.2,359.7 1157.2,362.2C1158.2,364.8 1159.2,367.6 1159.2,370.3C1159.3,373.0 1158.6,375.8 1157.7,378.3C1156.9,380.8 1156.0,383.3 1154.2,385.3C1152.5,387.3 1149.5,388.7 1147.2,390.4C1144.8,392.0 1143.0,394.4 1140.2,395.4C1137.3,396.4 1132.8,397.2 1130.1,396.4C1127.4,395.5 1125.8,392.5 1124.1,390.4C1122.4,388.2 1121.2,385.7 1120.1,383.3C1119.0,381.0 1117.9,379.3 1117.6,376.3Z" fill="#e11400"/>
<path d="M1155.2,426.3C1155.9,423.6 1158.4,422.4 1160.2,420.2C1162.1,418.1 1164.3,415.6 1166.3,413.2C1168.3,410.9 1170.3,408.5 1172.3,406.2C1174.3,403.8 1176.8,401.5 1178.3,399.2C1179.8,396.8 1180.2,394.3 1181.3,392.1C1182.5,390.0 1183.5,387.8 1185.3,386.1C1187.2,384.4 1190.2,383.4 1192.4,382.1C1194.5,380.7 1196.4,379.2 1198.4,378.1C1200.4,376.9 1202.1,375.7 1204.4,375.1C1206.8,374.4 1209.8,374.1 1212.4,374.1C1215.1,374.1 1217.5,374.9 1220.5,375.1C1223.5,375.2 1227.5,374.6 1230.5,375.1C1233.5,375.6 1236.2,376.9 1238.6,378.1C1240.9,379.2 1242.3,380.9 1244.6,382.1C1246.8,383.2 1249.4,384.3 1252.0,385.0C1254.6,385.7 1257.3,386.3 1260.0,386.0C1262.7,385.7 1264.7,383.2 1268.0,383.0C1271.3,382.8 1276.3,383.7 1280.0,385.0C1283.7,386.3 1286.7,388.7 1290.0,391.0C1293.3,393.3 1297.0,396.3 1300.0,399.0C1303.0,401.7 1306.7,404.0 1308.0,407.0C1309.3,410.0 1308.7,414.3 1308.0,417.0C1307.3,419.7 1305.7,421.0 1304.0,423.0C1302.3,425.0 1299.3,427.0 1298.0,429.0C1296.7,431.0 1297.0,433.3 1296.0,435.0C1295.0,436.7 1293.7,438.7 1292.0,439.0C1290.3,439.3 1287.3,438.0 1286.0,437.0C1284.7,436.0 1283.3,435.0 1284.0,433.0C1284.7,431.0 1289.0,427.7 1290.0,425.0C1291.0,422.3 1291.0,419.7 1290.0,417.0C1289.0,414.3 1286.3,411.7 1284.0,409.0C1281.7,406.3 1278.7,403.2 1276.0,401.0C1273.3,398.8 1270.7,397.2 1268.0,396.0C1265.3,394.8 1262.7,394.5 1260.0,394.0C1257.3,393.5 1254.7,393.3 1252.0,393.0C1249.3,392.7 1245.9,392.3 1244.0,392.0C1242.1,391.7 1242.1,390.9 1240.6,391.1C1239.0,391.3 1236.2,391.6 1234.5,393.1C1232.9,394.6 1231.9,397.8 1230.5,400.2C1229.2,402.5 1228.2,405.2 1226.5,407.2C1224.8,409.2 1222.3,410.7 1220.5,412.2C1218.6,413.7 1217.1,414.7 1215.5,416.2C1213.8,417.7 1212.1,419.6 1210.4,421.2C1208.8,422.9 1207.1,424.6 1205.4,426.3C1203.7,427.9 1202.2,429.8 1200.4,431.3C1198.6,432.8 1196.4,434.1 1194.4,435.3C1192.4,436.5 1190.7,437.6 1188.4,438.3C1186.0,439.0 1183.3,439.0 1180.3,439.3C1177.3,439.7 1173.6,440.3 1170.3,440.3C1166.9,440.3 1162.6,440.0 1160.2,439.3C1157.9,438.6 1157.1,438.5 1156.2,436.3C1155.4,434.1 1154.6,428.9 1155.2,426.3Z" fill="#e11400"/>
<path d="M1275.0,387.0L1277.0,387.0L1277.0,389.0L1275.0,389.0Z" fill="#a50000"/>
<path d="M1291.6,406.0L1294.4,406.0L1294.4,408.0L1291.6,408.0Z" fill="#a50000"/>
<path d="M1494.0,376.0C1493.8,373.9 1495.4,372.1 1496.1,370.5C1496.7,368.9 1496.6,367.6 1498.1,366.5C1499.6,365.3 1502.3,364.3 1505.1,363.5C1507.9,362.6 1511.8,362.0 1515.1,361.4C1518.5,360.9 1521.7,360.3 1525.2,359.9C1528.7,359.6 1532.9,359.7 1536.2,359.4C1539.6,359.2 1542.1,358.5 1545.3,358.4C1548.4,358.4 1552.0,358.7 1555.3,358.9C1558.6,359.2 1562.8,360.0 1565.3,359.9C1567.9,359.9 1568.9,359.2 1570.4,358.4C1571.9,357.7 1572.9,356.6 1574.4,355.4C1575.9,354.3 1578.1,352.9 1579.4,351.4C1580.7,349.9 1582.1,348.2 1582.4,346.4C1582.7,344.5 1581.2,341.9 1581.4,340.4C1581.6,338.9 1582.4,338.4 1583.4,337.3C1584.4,336.3 1585.9,335.7 1587.4,334.3C1588.9,333.0 1590.8,331.3 1592.4,329.3C1594.1,327.3 1596.1,324.5 1597.5,322.3C1598.8,320.1 1599.6,317.9 1600.5,316.3C1601.3,314.6 1601.6,313.4 1602.5,312.2C1603.4,311.1 1606.0,310.1 1606.0,309.2C1606.0,308.4 1603.9,308.1 1602.5,307.2C1601.1,306.4 1599.0,305.4 1597.5,304.2C1596.0,303.0 1594.1,301.9 1593.5,300.2C1592.8,298.5 1593.3,296.1 1593.5,294.2C1593.6,292.3 1593.3,289.9 1594.5,288.7C1595.6,287.4 1597.8,287.3 1600.5,286.6C1603.2,286.0 1607.3,285.1 1610.5,284.6C1613.7,284.1 1614.5,284.0 1619.6,283.6C1624.6,283.3 1637.2,268.1 1640.6,282.6C1644.0,297.2 1643.4,356.3 1640.0,371.0C1636.6,385.7 1625.3,370.7 1620.0,371.0C1614.7,371.3 1611.3,372.2 1608.0,373.0C1604.7,373.8 1603.0,374.8 1600.0,376.0C1597.0,377.2 1593.3,378.5 1590.0,380.0C1586.7,381.5 1583.3,383.5 1580.0,385.0C1576.7,386.5 1573.3,387.8 1570.0,389.0C1566.7,390.2 1563.3,391.0 1560.0,392.0C1556.7,393.0 1553.3,394.0 1550.0,395.0C1546.7,396.0 1543.0,397.3 1540.0,398.0C1537.0,398.7 1535.0,399.2 1532.0,399.0C1529.0,398.8 1525.3,397.8 1522.0,397.0C1518.7,396.2 1515.0,395.3 1512.0,394.0C1509.0,392.7 1506.5,390.8 1504.0,389.0C1501.5,387.2 1498.7,385.2 1497.0,383.0C1495.3,380.8 1494.2,378.1 1494.0,376.0Z" fill="#e11400"/>
<path d="M1124.1,365.3C1124.4,362.8 1124.8,359.0 1126.1,357.2C1127.4,355.5 1129.8,355.2 1132.1,354.7C1134.5,354.2 1137.7,354.0 1140.2,354.2C1142.7,354.5 1145.2,354.7 1147.2,356.2C1149.2,357.7 1151.0,360.9 1152.2,363.3C1153.4,365.6 1154.4,367.8 1154.2,370.3C1154.0,372.8 1152.7,376.1 1151.2,378.3C1149.7,380.5 1147.4,381.5 1145.2,383.3C1143.0,385.2 1140.8,388.4 1138.2,389.4C1135.5,390.4 1131.1,390.9 1129.1,389.4C1127.1,387.9 1126.9,383.2 1126.1,380.3C1125.3,377.5 1124.4,374.8 1124.1,372.3C1123.8,369.8 1123.8,367.8 1124.1,365.3Z" fill="#a50000"/>
<path d="M1161.2,426.3C1160.2,429.1 1160.7,434.5 1162.2,436.3C1163.8,438.1 1167.3,437.1 1170.3,437.3C1173.3,437.5 1177.6,437.6 1180.3,437.3C1183.0,437.0 1184.2,436.1 1186.3,435.3C1188.5,434.5 1191.2,433.5 1193.4,432.3C1195.5,431.1 1197.6,429.8 1199.4,428.3C1201.2,426.8 1202.9,424.9 1204.4,423.3C1205.9,421.6 1206.9,420.1 1208.4,418.2C1209.9,416.4 1211.8,413.9 1213.5,412.2C1215.1,410.5 1217.1,409.7 1218.5,408.2C1219.8,406.7 1220.8,405.0 1221.5,403.2C1222.2,401.3 1222.7,399.0 1222.5,397.1C1222.3,395.3 1221.5,393.5 1220.5,392.1C1219.5,390.8 1218.1,390.1 1216.5,389.1C1214.8,388.1 1212.4,386.9 1210.4,386.1C1208.4,385.3 1206.4,384.4 1204.4,384.1C1202.4,383.8 1200.4,383.4 1198.4,384.1C1196.4,384.8 1194.0,386.4 1192.4,388.1C1190.7,389.8 1189.7,392.1 1188.4,394.1C1187.0,396.1 1185.7,398.2 1184.3,400.2C1183.0,402.2 1182.0,404.2 1180.3,406.2C1178.6,408.2 1176.3,410.0 1174.3,412.2C1172.3,414.4 1170.4,416.9 1168.3,419.2C1166.1,421.6 1162.2,423.4 1161.2,426.3Z" fill="#a50000"/>
<path d="M1509.0,375.0C1509.3,373.3 1510.2,370.8 1512.0,369.0C1513.8,367.2 1517.0,365.2 1520.0,364.0C1523.0,362.8 1526.7,362.5 1530.0,362.0C1533.3,361.5 1536.7,360.8 1540.0,361.0C1543.3,361.2 1546.7,361.8 1550.0,363.0C1553.3,364.2 1557.0,366.3 1560.0,368.0C1563.0,369.7 1565.5,371.5 1568.0,373.0C1570.5,374.5 1575.3,375.7 1575.0,377.0C1574.7,378.3 1569.2,379.7 1566.0,381.0C1562.8,382.3 1559.7,383.7 1556.0,385.0C1552.3,386.3 1548.0,387.8 1544.0,389.0C1540.0,390.2 1535.7,392.0 1532.0,392.0C1528.3,392.0 1525.0,390.3 1522.0,389.0C1519.0,387.7 1516.0,385.7 1514.0,384.0C1512.0,382.3 1510.8,380.5 1510.0,379.0C1509.2,377.5 1508.7,376.7 1509.0,375.0Z" fill="#a50000"/>
<path d="M1640.6,310.2C1637.2,301.7 1624.4,311.2 1619.6,311.7C1614.7,312.2 1613.9,312.2 1611.5,313.3C1609.2,314.3 1607.3,316.8 1605.5,318.3C1603.7,319.8 1602.0,320.8 1600.5,322.3C1599.0,323.8 1598.0,325.5 1596.5,327.3C1595.0,329.1 1593.0,331.4 1591.4,333.3C1589.9,335.3 1586.8,337.3 1586.9,338.9C1587.1,340.4 1590.6,341.1 1592.4,342.4C1594.3,343.6 1597.1,345.2 1598.0,346.4C1598.8,347.6 1599.1,348.4 1597.5,349.4C1595.9,350.4 1590.8,351.1 1588.4,352.4C1586.1,353.7 1583.6,355.6 1583.4,357.4C1583.2,359.3 1585.4,363.0 1587.4,363.5C1589.4,364.0 1593.3,361.3 1595.5,360.4C1597.6,359.6 1599.1,359.0 1600.5,358.4C1601.9,357.9 1602.1,356.9 1604.0,357.0C1605.9,357.1 1609.3,358.0 1612.0,359.0C1614.7,360.0 1615.3,362.3 1620.0,363.0C1624.7,363.7 1636.6,371.8 1640.0,363.0C1643.4,354.2 1644.0,318.8 1640.6,310.2Z" fill="#a50000"/>
<path d="M1131.1,368.3C1131.5,366.9 1133.0,364.5 1134.1,363.3C1135.3,362.0 1136.5,361.1 1138.2,361.0C1139.8,361.0 1142.7,361.9 1144.2,362.8C1145.7,363.6 1146.5,365.0 1147.2,366.3C1147.9,367.5 1148.4,368.8 1148.2,370.3C1148.0,371.8 1147.2,374.0 1146.2,375.3C1145.2,376.6 1143.6,377.6 1142.2,378.3C1140.7,379.1 1139.0,380.3 1137.7,379.8C1136.3,379.3 1135.1,376.7 1134.1,375.3C1133.2,373.9 1132.6,372.5 1132.1,371.3C1131.6,370.1 1130.8,369.6 1131.1,368.3Z" fill="#f0a0a0"/>
<path d="M1167.3,426.3C1166.8,427.9 1168.1,430.0 1169.3,431.3C1170.4,432.5 1172.5,433.4 1174.3,433.8C1176.1,434.2 1178.1,434.3 1180.3,433.8C1182.5,433.3 1185.2,431.9 1187.3,430.8C1189.5,429.7 1191.5,428.7 1193.4,427.3C1195.2,425.8 1196.7,424.1 1198.4,422.2C1200.1,420.4 1201.9,418.1 1203.4,416.2C1204.9,414.4 1206.1,412.7 1207.4,411.2C1208.8,409.7 1210.4,408.7 1211.4,407.2C1212.5,405.7 1213.5,403.8 1214.0,402.2C1214.5,400.5 1214.9,398.7 1214.5,397.1C1214.0,395.6 1212.8,394.3 1211.4,393.1C1210.1,392.0 1208.1,390.9 1206.4,390.1C1204.8,389.4 1202.9,388.6 1201.4,388.6C1199.9,388.6 1198.7,389.2 1197.4,390.1C1196.1,391.0 1194.7,392.5 1193.4,394.1C1192.0,395.8 1190.7,398.5 1189.4,400.2C1188.0,401.8 1186.7,402.7 1185.3,404.2C1184.0,405.7 1182.5,407.4 1181.3,409.2C1180.2,411.0 1179.8,413.2 1178.3,415.2C1176.8,417.2 1174.1,419.4 1172.3,421.2C1170.4,423.1 1167.8,424.6 1167.3,426.3Z" fill="#f0a0a0"/>
<path d="M1516.0,373.0C1516.2,371.0 1516.7,368.7 1518.0,367.0C1519.3,365.3 1521.7,363.9 1524.0,363.0C1526.3,362.1 1529.3,361.6 1532.0,361.4C1534.7,361.2 1537.3,361.4 1540.0,362.0C1542.7,362.6 1545.7,363.5 1548.0,365.0C1550.3,366.5 1552.2,369.0 1554.0,371.0C1555.8,373.0 1559.7,375.3 1559.0,377.0C1558.3,378.7 1553.2,379.7 1550.0,381.0C1546.8,382.3 1543.3,384.0 1540.0,385.0C1536.7,386.0 1533.0,387.0 1530.0,387.0C1527.0,387.0 1524.2,386.3 1522.0,385.0C1519.8,383.7 1518.0,381.0 1517.0,379.0C1516.0,377.0 1515.8,375.0 1516.0,373.0Z" fill="#f0a0a0"/>
<path d="M1594.5,338.4C1594.5,337.0 1594.8,334.1 1595.5,332.3C1596.1,330.6 1597.1,328.8 1598.5,327.8C1599.8,326.8 1601.8,326.1 1603.5,326.1C1605.2,326.1 1607.4,326.6 1608.5,327.8C1609.6,329.0 1609.9,331.4 1610.0,333.3C1610.2,335.3 1610.4,337.9 1609.5,339.4C1608.6,340.8 1606.2,341.6 1604.5,341.9C1602.8,342.1 1601.0,341.1 1599.5,340.9C1598.0,340.6 1596.3,340.8 1595.5,340.4C1594.6,339.9 1594.5,339.7 1594.5,338.4Z" fill="#f0a0a0"/>
<path d="M1174.3,426.8C1174.1,427.9 1175.8,428.9 1177.3,429.3C1178.8,429.7 1181.5,429.8 1183.3,429.3C1185.2,428.8 1186.7,427.4 1188.4,426.3C1190.0,425.1 1192.0,423.8 1193.4,422.2C1194.7,420.7 1195.2,418.9 1196.4,417.2C1197.6,415.6 1199.1,413.9 1200.4,412.2C1201.7,410.5 1203.4,408.9 1204.4,407.2C1205.4,405.5 1205.8,403.8 1206.4,402.2C1207.0,400.5 1208.1,398.4 1207.9,397.1C1207.8,395.9 1206.5,395.0 1205.4,394.6C1204.3,394.3 1202.7,394.4 1201.4,395.1C1200.1,395.9 1198.7,397.7 1197.4,399.2C1196.1,400.7 1194.7,402.5 1193.4,404.2C1192.0,405.9 1190.5,407.4 1189.4,409.2C1188.2,411.0 1187.5,413.5 1186.3,415.2C1185.2,416.9 1183.7,418.0 1182.3,419.2C1181.0,420.5 1179.7,421.5 1178.3,422.8C1177.0,424.0 1174.5,425.7 1174.3,426.8Z" fill="#ffe1e1"/>
<path d="M1521.0,373.0C1521.0,371.2 1521.5,368.6 1523.0,367.0C1524.5,365.4 1527.5,364.0 1530.0,363.4C1532.5,362.8 1535.7,362.8 1538.0,363.4C1540.3,364.0 1542.7,365.4 1544.0,367.0C1545.3,368.6 1545.8,371.0 1546.0,373.0C1546.2,375.0 1546.7,377.5 1545.0,379.0C1543.3,380.5 1538.8,381.7 1536.0,382.0C1533.2,382.3 1530.2,381.7 1528.0,381.0C1525.8,380.3 1524.2,379.3 1523.0,378.0C1521.8,376.7 1521.0,374.8 1521.0,373.0Z" fill="#ffe1e1"/>
</g>
<g clip-path="url(#c2)"><use href="#coast" x="855" y="0"/></g>
<g shape-rendering="crispEdges" stroke="#000" fill="none">
<rect x="900" y="250" width="720" height="236" stroke-width="2"/>
<path d="M900.5,487 v5M965.5,487 v5M1030.5,487 v5M1096.5,487 v5M1161.5,487 v5M1227.5,487 v5M1292.5,487 v5M1358.5,487 v5M1423.5,487 v5M1489.5,487 v5M1554.5,487 v5M1620.5,487 v5M899,270.5 h-5M899,309.5 h-5M899,349.5 h-5M899,388.5 h-5M899,427.5 h-5M899,467.5 h-5" stroke-width="1"/>
</g>
<g clip-path="url(#c3)" shape-rendering="crispEdges">
<path d="M55.0,813.0C54.7,810.0 54.8,805.0 56.0,801.0C57.2,797.0 59.0,792.0 62.0,789.0C65.0,786.0 70.0,784.3 74.0,783.0C78.0,781.7 82.7,782.0 86.0,781.0C89.3,780.0 91.7,778.7 94.0,777.0C96.3,775.3 97.7,772.7 100.0,771.0C102.3,769.3 104.7,768.3 108.0,767.0C111.3,765.7 116.3,764.5 120.0,763.0C123.7,761.5 126.7,760.0 130.0,758.0C133.3,756.0 137.0,753.2 140.0,751.0C143.0,748.8 146.0,746.8 148.0,745.0C150.0,743.2 149.3,741.2 152.0,740.0C154.7,738.8 159.3,738.7 164.0,738.0C168.7,737.3 176.0,737.2 180.0,736.0C184.0,734.8 185.0,733.2 188.0,731.0C191.0,728.8 195.0,725.0 198.0,723.0C201.0,721.0 202.3,719.9 206.0,719.0C209.7,718.1 214.3,717.8 220.0,717.4C225.7,717.0 233.3,716.8 240.0,716.6C246.7,716.4 253.3,716.2 260.0,716.2C266.7,716.2 274.0,716.2 280.0,716.6C286.0,717.0 291.3,717.7 296.0,718.6C300.7,719.5 304.0,721.2 308.0,722.0C312.0,722.8 316.0,723.1 320.0,723.4C324.0,723.7 328.0,724.1 332.0,724.0C336.0,723.9 340.0,723.3 344.0,723.0C348.0,722.7 351.7,722.0 356.0,722.0C360.3,722.0 366.0,722.3 370.0,723.0C374.0,723.7 375.7,725.3 380.0,726.0C384.3,726.7 391.3,726.2 396.0,727.0C400.7,727.8 404.0,729.8 408.0,731.0C412.0,732.2 416.3,733.0 420.0,734.0C423.7,735.0 426.7,735.7 430.0,737.0C433.3,738.3 437.0,740.0 440.0,742.0C443.0,744.0 445.3,746.8 448.0,749.0C450.7,751.2 453.3,752.7 456.0,755.0C458.7,757.3 460.7,760.0 464.0,763.0C467.3,766.0 472.0,770.0 476.0,773.0C480.0,776.0 485.0,778.7 488.0,781.0C491.0,783.3 493.3,785.0 494.0,787.0C494.7,789.0 494.3,791.7 492.0,793.0C489.7,794.3 483.7,795.1 480.0,795.0C476.3,794.9 473.4,793.3 470.0,792.2C466.6,791.1 463.6,789.4 459.6,788.6C455.6,787.8 450.4,788.8 446.2,787.4C442.0,786.0 439.2,782.6 434.2,780.2C429.2,777.8 423.1,773.9 416.0,772.8C408.9,771.7 398.7,773.0 391.6,773.4C384.5,773.8 381.3,774.5 373.4,775.2C365.5,775.9 349.3,775.4 344.2,777.6C339.1,779.8 342.4,785.1 343.0,788.6C343.6,792.1 348.0,795.8 347.8,798.4C347.6,801.0 343.4,802.8 341.8,804.4C340.2,806.0 338.2,805.8 338.0,808.0C337.8,810.2 339.6,814.5 340.6,817.8C341.6,821.1 342.2,825.0 344.2,827.6C346.2,830.2 350.4,832.2 352.6,833.6C354.8,835.0 356.0,834.8 357.6,836.0C359.2,837.2 361.4,838.8 362.4,841.0C363.4,843.2 364.4,848.0 363.6,849.4C362.8,850.8 360.0,850.2 357.6,849.4C355.2,848.6 352.3,845.7 349.0,844.6C345.7,843.5 342.0,843.2 338.0,842.8C334.0,842.4 328.4,841.7 324.8,842.2C321.2,842.7 318.2,843.6 316.2,845.8C314.2,848.0 314.0,852.5 312.6,855.4C311.2,858.3 310.1,860.4 308.0,863.0C305.9,865.6 302.7,868.7 300.0,871.0C297.3,873.3 295.3,875.0 292.0,877.0C288.7,879.0 284.0,881.4 280.0,883.0C276.0,884.6 271.0,886.6 268.0,886.6C265.0,886.6 263.8,884.6 262.0,883.0C260.2,881.4 258.3,879.7 257.0,877.0C255.7,874.3 255.2,870.3 254.0,867.0C252.8,863.7 250.8,860.7 250.0,857.0C249.2,853.3 248.7,848.3 249.0,845.0C249.3,841.7 250.2,838.7 252.0,837.0C253.8,835.3 256.7,836.0 260.0,835.0C263.3,834.0 269.0,832.7 272.0,831.0C275.0,829.3 277.2,827.3 278.0,825.0C278.8,822.7 278.3,819.7 277.0,817.0C275.7,814.3 272.8,810.8 270.0,809.0C267.2,807.2 263.0,806.0 260.0,806.0C257.0,806.0 254.3,807.8 252.0,809.0C249.7,810.2 248.3,811.3 246.0,813.0C243.7,814.7 240.7,817.0 238.0,819.0C235.3,821.0 232.3,823.0 230.0,825.0C227.7,827.0 225.7,829.0 224.0,831.0C222.3,833.0 221.0,834.7 220.0,837.0C219.0,839.3 218.7,842.3 218.0,845.0C217.3,847.7 217.3,850.8 216.0,853.0C214.7,855.2 212.7,856.3 210.0,858.0C207.3,859.7 203.7,861.2 200.0,863.0C196.3,864.8 192.0,867.0 188.0,869.0C184.0,871.0 180.0,873.3 176.0,875.0C172.0,876.7 168.7,878.3 164.0,879.0C159.3,879.7 153.0,879.3 148.0,879.0C143.0,878.7 138.3,877.7 134.0,877.0C129.7,876.3 125.0,876.0 122.0,875.0C119.0,874.0 117.3,872.7 116.0,871.0C114.7,869.3 115.7,866.3 114.0,865.0C112.3,863.7 109.3,863.0 106.0,863.0C102.7,863.0 98.0,864.3 94.0,865.0C90.0,865.7 86.0,866.7 82.0,867.0C78.0,867.3 73.3,867.8 70.0,867.0C66.7,866.2 64.2,863.8 62.0,862.0C59.8,860.2 56.7,858.8 57.0,856.0C57.3,853.2 61.5,847.8 64.0,845.0C66.5,842.2 69.3,841.0 72.0,839.0C74.7,837.0 77.8,835.0 80.0,833.0C82.2,831.0 85.3,828.3 85.0,827.0C84.7,825.7 81.2,825.7 78.0,825.0C74.8,824.3 69.3,824.0 66.0,823.0C62.7,822.0 59.8,820.7 58.0,819.0C56.2,817.3 55.3,816.0 55.0,813.0Z" fill="#e1ffff"/>
<path d="M550.0,687.0C552.7,685.7 559.3,683.3 566.0,682.0C572.7,680.7 581.0,679.8 590.0,679.0C599.0,678.2 611.7,677.3 620.0,677.0C628.3,676.7 635.7,676.0 640.0,677.0C644.3,678.0 642.7,681.7 646.0,683.0C649.3,684.3 656.2,683.8 660.0,685.0C663.8,686.2 667.7,688.0 669.0,690.0C670.3,692.0 669.2,695.2 668.0,697.0C666.8,698.8 664.0,699.7 662.0,701.0C660.0,702.3 657.0,703.0 656.0,705.0C655.0,707.0 654.7,710.7 656.0,713.0C657.3,715.3 660.7,717.2 664.0,719.0C667.3,720.8 672.0,722.5 676.0,724.0C680.0,725.5 686.7,726.5 688.0,728.0C689.3,729.5 686.3,731.5 684.0,733.0C681.7,734.5 677.3,735.7 674.0,737.0C670.7,738.3 667.3,739.7 664.0,741.0C660.7,742.3 657.3,744.0 654.0,745.0C650.7,746.0 647.3,746.3 644.0,747.0C640.7,747.7 637.0,748.0 634.0,749.0C631.0,750.0 628.7,751.8 626.0,753.0C623.3,754.2 620.7,755.0 618.0,756.0C615.3,757.0 611.7,757.5 610.0,759.0C608.3,760.5 609.7,763.3 608.0,765.0C606.3,766.7 603.0,768.2 600.0,769.0C597.0,769.8 593.3,769.8 590.0,770.0C586.7,770.2 583.3,770.8 580.0,770.0C576.7,769.2 573.3,766.8 570.0,765.0C566.7,763.2 563.3,761.0 560.0,759.0C556.7,757.0 552.7,755.3 550.0,753.0C547.3,750.7 546.0,748.0 544.0,745.0C542.0,742.0 539.3,738.3 538.0,735.0C536.7,731.7 535.7,728.3 536.0,725.0C536.3,721.7 538.0,718.3 540.0,715.0C542.0,711.7 545.3,707.0 548.0,705.0C550.7,703.0 550.7,703.2 556.0,703.0C561.3,702.8 572.7,703.8 580.0,704.0C587.3,704.2 593.7,704.2 600.0,704.0C606.3,703.8 614.7,704.5 618.0,703.0C621.3,701.5 623.0,696.8 620.0,695.0C617.0,693.2 606.7,692.7 600.0,692.0C593.3,691.3 586.7,691.2 580.0,691.0C573.3,690.8 565.0,691.2 560.0,691.0C555.0,690.8 551.7,690.7 550.0,690.0C548.3,689.3 547.3,688.3 550.0,687.0Z" fill="#e1ffff"/>
<path d="M728.0,710.0C729.0,709.0 733.0,707.3 736.0,707.0C739.0,706.7 742.7,707.2 746.0,708.0C749.3,708.8 753.0,710.8 756.0,712.0C759.0,713.2 761.3,714.2 764.0,715.0C766.7,715.8 770.7,715.3 772.0,717.0C773.3,718.7 773.3,723.7 772.0,725.0C770.7,726.3 767.0,725.3 764.0,725.0C761.0,724.7 757.3,723.7 754.0,723.0C750.7,722.3 747.0,722.0 744.0,721.0C741.0,720.0 738.3,718.3 736.0,717.0C733.7,715.7 731.3,714.2 730.0,713.0C728.7,711.8 727.0,711.0 728.0,710.0Z" fill="#e1ffff"/>
<path d="M772.0,731.0C770.7,727.8 767.3,731.3 764.0,732.0C760.7,732.7 756.0,733.8 752.0,735.0C748.0,736.2 743.3,737.5 740.0,739.0C736.7,740.5 734.0,742.3 732.0,744.0C730.0,745.7 730.0,747.5 728.0,749.0C726.0,750.5 722.7,751.7 720.0,753.0C717.3,754.3 714.3,755.7 712.0,757.0C709.7,758.3 707.2,759.3 706.0,761.0C704.8,762.7 704.8,765.0 705.0,767.0C705.2,769.0 707.8,771.2 707.0,773.0C706.2,774.8 699.2,777.0 700.0,778.0C700.8,779.0 707.7,779.0 712.0,779.0C716.3,779.0 722.7,779.0 726.0,778.0C729.3,777.0 730.3,774.8 732.0,773.0C733.7,771.2 734.0,768.7 736.0,767.0C738.0,765.3 741.3,764.3 744.0,763.0C746.7,761.7 749.3,760.3 752.0,759.0C754.7,757.7 756.7,756.3 760.0,755.0C763.3,753.7 770.0,755.0 772.0,751.0C774.0,747.0 773.3,734.2 772.0,731.0Z" fill="#e1ffff"/>
<path d="M758.0,787.0C760.5,785.3 769.7,782.0 772.0,785.0C774.3,788.0 774.0,801.7 772.0,805.0C770.0,808.3 762.5,806.7 760.0,805.0C757.5,803.3 757.3,798.0 757.0,795.0C756.7,792.0 755.5,788.7 758.0,787.0Z" fill="#e1ffff"/>
<path d="M462.0,883.0C463.7,880.7 465.7,875.0 468.0,871.0C470.3,867.0 473.3,862.7 476.0,859.0C478.7,855.3 481.0,852.0 484.0,849.0C487.0,846.0 490.7,843.3 494.0,841.0C497.3,838.7 500.7,837.0 504.0,835.0C507.3,833.0 510.7,830.7 514.0,829.0C517.3,827.3 520.3,826.0 524.0,825.0C527.7,824.0 532.0,823.0 536.0,823.0C540.0,823.0 544.0,824.0 548.0,825.0C552.0,826.0 556.0,827.7 560.0,829.0C564.0,830.3 568.0,832.0 572.0,833.0C576.0,834.0 580.7,833.7 584.0,835.0C587.3,836.3 590.0,838.8 592.0,841.0C594.0,843.2 593.7,846.7 596.0,848.0C598.3,849.3 602.3,849.3 606.0,849.0C609.7,848.7 614.3,847.7 618.0,846.0C621.7,844.3 625.0,841.2 628.0,839.0C631.0,836.8 633.7,834.5 636.0,833.0C638.3,831.5 639.8,829.5 642.0,830.0C644.2,830.5 648.3,833.5 649.0,836.0C649.7,838.5 647.2,841.8 646.0,845.0C644.8,848.2 644.0,852.2 642.0,855.0C640.0,857.8 637.0,860.0 634.0,862.0C631.0,864.0 627.7,865.5 624.0,867.0C620.3,868.5 616.0,869.8 612.0,871.0C608.0,872.2 604.0,873.0 600.0,874.0C596.0,875.0 592.0,876.2 588.0,877.0C584.0,877.8 580.7,878.3 576.0,879.0C571.3,879.7 566.0,880.0 560.0,881.0C554.0,882.0 546.0,884.0 540.0,885.0C534.0,886.0 529.3,886.5 524.0,887.0C518.7,887.5 512.0,888.3 508.0,888.0C504.0,887.7 502.0,884.8 500.0,885.0C498.0,885.2 499.3,888.7 496.0,889.0C492.7,889.3 485.3,887.3 480.0,887.0C474.7,886.7 467.3,885.7 464.0,887.0C460.7,888.3 461.3,891.7 460.0,895.0C458.7,898.3 457.5,905.0 456.0,907.0C454.5,909.0 451.3,909.3 451.0,907.0C450.7,904.7 452.8,896.7 454.0,893.0C455.2,889.3 456.7,886.7 458.0,885.0C459.3,883.3 460.3,885.3 462.0,883.0Z" fill="#e1ffff"/>
<path d="M392.8,866.4L397.1,861.0L401.9,867.1L397.1,873.1Z" fill="#e1ffff"/>
<path d="M407.4,872.5C409.0,869.7 411.2,861.9 413.5,859.1C415.7,856.4 419.3,855.1 420.8,856.1C422.2,857.1 422.8,861.7 422.0,865.2C421.2,868.8 418.9,875.6 415.9,877.4C412.9,879.2 405.2,877.0 403.7,876.2C402.3,875.4 405.8,875.4 407.4,872.5Z" fill="#e1ffff"/>
<path d="M367.3,855.5L373.3,855.5L373.3,859.8L368.5,859.8Z" fill="#e1ffff"/>
<path d="M366.0,855.0L374.0,855.0L374.0,860.0L367.0,860.0Z" fill="#e1ffff"/>
<path d="M68.0,805.0C67.7,802.7 68.0,799.2 70.0,797.0C72.0,794.8 76.3,793.1 80.0,792.0C83.7,790.9 88.7,791.1 92.0,790.6C95.3,790.1 97.0,789.9 100.0,789.0C103.0,788.1 106.7,786.3 110.0,785.0C113.3,783.7 116.7,782.3 120.0,781.0C123.3,779.7 127.0,778.3 130.0,777.0C133.0,775.7 135.0,774.2 138.0,773.0C141.0,771.8 144.3,770.7 148.0,770.0C151.7,769.3 156.0,769.5 160.0,769.0C164.0,768.5 168.7,768.0 172.0,767.0C175.3,766.0 177.3,764.5 180.0,763.0C182.7,761.5 185.3,759.7 188.0,758.0C190.7,756.3 193.0,754.5 196.0,753.0C199.0,751.5 202.7,750.3 206.0,749.0C209.3,747.7 212.7,745.2 216.0,745.0C219.3,744.8 222.3,747.0 226.0,748.0C229.7,749.0 233.7,750.2 238.0,751.0C242.3,751.8 247.3,752.6 252.0,753.0C256.7,753.4 261.3,753.2 266.0,753.4C270.7,753.6 275.7,753.4 280.0,754.0C284.3,754.6 288.0,756.2 292.0,757.0C296.0,757.8 300.0,758.7 304.0,759.0C308.0,759.3 313.7,760.0 316.0,759.0C318.3,758.0 317.0,755.3 318.0,753.0C319.0,750.7 320.3,746.7 322.0,745.0C323.7,743.3 326.0,743.0 328.0,743.0C330.0,743.0 332.0,743.7 334.0,745.0C336.0,746.3 337.7,750.2 340.0,751.0C342.3,751.8 344.7,751.0 348.0,750.0C351.3,749.0 355.3,746.3 360.0,745.0C364.7,743.7 370.7,742.7 376.0,742.0C381.3,741.3 387.0,741.0 392.0,741.0C397.0,741.0 401.7,741.3 406.0,742.0C410.3,742.7 414.7,743.5 418.0,745.0C421.3,746.5 423.3,748.7 426.0,751.0C428.7,753.3 431.7,756.3 434.0,759.0C436.3,761.7 438.3,764.7 440.0,767.0C441.7,769.3 442.5,771.3 444.0,773.0C445.5,774.7 449.3,776.3 449.0,777.0C448.7,777.7 444.5,777.5 442.0,777.0C439.5,776.5 436.7,775.3 434.0,774.0C431.3,772.7 428.7,770.7 426.0,769.0C423.3,767.3 421.0,765.5 418.0,764.0C415.0,762.5 411.7,760.8 408.0,760.0C404.3,759.2 400.0,759.2 396.0,759.0C392.0,758.8 387.7,758.7 384.0,759.0C380.3,759.3 376.3,760.0 374.0,761.0C371.7,762.0 371.3,763.5 370.0,765.0C368.7,766.5 368.0,769.0 366.0,770.0C364.0,771.0 361.0,770.8 358.0,771.0C355.0,771.2 351.0,770.8 348.0,771.0C345.0,771.2 341.3,771.5 340.0,772.0C338.7,772.5 341.0,772.8 340.0,774.0C339.0,775.2 335.7,777.2 334.0,779.0C332.3,780.8 330.8,782.7 330.0,785.0C329.2,787.3 329.2,789.7 329.0,793.0C328.8,796.3 328.8,801.0 329.0,805.0C329.2,809.0 331.2,814.0 330.0,817.0C328.8,820.0 324.3,821.7 322.0,823.0C319.7,824.3 318.3,825.7 316.0,825.0C313.7,824.3 310.3,821.2 308.0,819.0C305.7,816.8 303.5,814.0 302.0,812.0C300.5,810.0 298.3,809.2 299.0,807.0C299.7,804.8 303.5,801.8 306.0,799.0C308.5,796.2 312.2,792.2 314.0,790.0C315.8,787.8 316.8,787.2 317.0,786.0C317.2,784.8 316.2,784.5 315.0,783.0C313.8,781.5 311.8,778.2 310.0,777.0C308.2,775.8 306.3,775.7 304.0,776.0C301.7,776.3 299.0,777.8 296.0,779.0C293.0,780.2 289.7,782.0 286.0,783.0C282.3,784.0 277.7,784.7 274.0,785.0C270.3,785.3 267.0,784.0 264.0,785.0C261.0,786.0 258.0,789.0 256.0,791.0C254.0,793.0 253.7,795.0 252.0,797.0C250.3,799.0 248.0,801.0 246.0,803.0C244.0,805.0 242.0,806.7 240.0,809.0C238.0,811.3 236.0,814.7 234.0,817.0C232.0,819.3 230.0,821.0 228.0,823.0C226.0,825.0 223.7,826.7 222.0,829.0C220.3,831.3 219.3,834.3 218.0,837.0C216.7,839.7 215.7,842.7 214.0,845.0C212.3,847.3 210.3,849.3 208.0,851.0C205.7,852.7 203.0,853.8 200.0,855.0C197.0,856.2 193.7,856.8 190.0,858.0C186.3,859.2 182.0,860.8 178.0,862.0C174.0,863.2 170.3,864.5 166.0,865.0C161.7,865.5 156.3,865.2 152.0,865.0C147.7,864.8 143.0,865.0 140.0,864.0C137.0,863.0 135.0,860.8 134.0,859.0C133.0,857.2 134.3,855.3 134.0,853.0C133.7,850.7 133.7,847.0 132.0,845.0C130.3,843.0 127.0,841.8 124.0,841.0C121.0,840.2 117.7,840.3 114.0,840.0C110.3,839.7 105.0,840.8 102.0,839.0C99.0,837.2 98.0,831.7 96.0,829.0C94.0,826.3 92.7,825.0 90.0,823.0C87.3,821.0 83.0,819.0 80.0,817.0C77.0,815.0 74.0,813.0 72.0,811.0C70.0,809.0 68.3,807.3 68.0,805.0Z" fill="#96d2fa"/>
<path d="M269.0,856.0C269.5,854.2 271.8,851.0 274.0,849.0C276.2,847.0 279.3,845.0 282.0,844.0C284.7,843.0 288.0,841.8 290.0,843.0C292.0,844.2 293.7,848.3 294.0,851.0C294.3,853.7 293.7,856.8 292.0,859.0C290.3,861.2 286.8,863.2 284.0,864.0C281.2,864.8 277.2,864.7 275.0,864.0C272.8,863.3 272.0,861.3 271.0,860.0C270.0,858.7 268.5,857.8 269.0,856.0Z" fill="#96d2fa"/>
<path d="M278.0,797.0L283.0,797.0L283.0,798.6L278.0,798.6Z" fill="#96d2fa"/>
<path d="M565.0,718.0C565.7,716.0 571.5,713.7 576.0,712.0C580.5,710.3 586.3,708.8 592.0,708.0C597.7,707.2 604.0,707.3 610.0,707.0C616.0,706.7 622.7,705.8 628.0,706.0C633.3,706.2 638.3,706.7 642.0,708.0C645.7,709.3 647.8,712.2 650.0,714.0C652.2,715.8 655.3,717.3 655.0,719.0C654.7,720.7 650.8,722.7 648.0,724.0C645.2,725.3 641.3,725.5 638.0,727.0C634.7,728.5 631.0,731.3 628.0,733.0C625.0,734.7 622.7,736.2 620.0,737.0C617.3,737.8 614.7,737.3 612.0,738.0C609.3,738.7 606.3,739.8 604.0,741.0C601.7,742.2 599.7,743.3 598.0,745.0C596.3,746.7 594.8,748.7 594.0,751.0C593.2,753.3 594.0,756.7 593.0,759.0C592.0,761.3 590.2,764.2 588.0,765.0C585.8,765.8 582.3,765.0 580.0,764.0C577.7,763.0 575.2,761.5 574.0,759.0C572.8,756.5 573.0,752.3 573.0,749.0C573.0,745.7 573.7,742.0 574.0,739.0C574.3,736.0 575.3,733.5 575.0,731.0C574.7,728.5 573.7,726.2 572.0,724.0C570.3,721.8 564.3,720.0 565.0,718.0Z" fill="#96d2fa"/>
<path d="M602.0,718.0L618.0,718.0L618.0,720.6L602.0,720.6Z" fill="#e1ffff"/>
<path d="M599.0,728.0C600.2,727.3 605.2,726.8 608.0,727.0C610.8,727.2 616.0,728.2 616.0,729.0C616.0,729.8 610.5,731.7 608.0,732.0C605.5,732.3 602.5,731.7 601.0,731.0C599.5,730.3 597.8,728.7 599.0,728.0Z" fill="#2882f0"/>
<path d="M634.0,689.0L644.0,689.0L644.0,690.6L634.0,690.6Z" fill="#96d2fa"/>
<path d="M511.0,836.0C511.7,834.7 515.3,833.5 518.0,833.0C520.7,832.5 524.7,832.0 527.0,833.0C529.3,834.0 529.8,838.1 532.0,839.0C534.2,839.9 536.7,838.6 540.0,838.6C543.3,838.6 548.0,838.6 552.0,839.0C556.0,839.4 560.7,840.0 564.0,841.0C567.3,842.0 569.8,843.0 572.0,845.0C574.2,847.0 576.7,850.8 577.0,853.0C577.3,855.2 576.2,856.8 574.0,858.0C571.8,859.2 567.7,859.3 564.0,860.0C560.3,860.7 556.0,861.2 552.0,862.0C548.0,862.8 544.0,864.2 540.0,865.0C536.0,865.8 531.5,866.7 528.0,867.0C524.5,867.3 521.0,868.3 519.0,867.0C517.0,865.7 516.7,862.0 516.0,859.0C515.3,856.0 515.3,852.0 515.0,849.0C514.7,846.0 514.7,843.2 514.0,841.0C513.3,838.8 510.3,837.3 511.0,836.0Z" fill="#96d2fa"/>
<path d="M85.0,803.0C86.0,802.0 89.5,802.7 92.0,802.0C94.5,801.3 97.3,800.2 100.0,799.0C102.7,797.8 105.0,796.5 108.0,795.0C111.0,793.5 114.7,791.7 118.0,790.0C121.3,788.3 125.0,786.7 128.0,785.0C131.0,783.3 133.3,781.5 136.0,780.0C138.7,778.5 140.7,776.9 144.0,776.0C147.3,775.1 152.0,774.9 156.0,774.6C160.0,774.3 164.0,774.3 168.0,774.0C172.0,773.7 176.0,773.0 180.0,773.0C184.0,773.0 188.7,773.0 192.0,774.0C195.3,775.0 197.0,777.5 200.0,779.0C203.0,780.5 206.7,782.0 210.0,783.0C213.3,784.0 216.7,784.3 220.0,785.0C223.3,785.7 227.2,785.7 230.0,787.0C232.8,788.3 235.5,790.7 237.0,793.0C238.5,795.3 239.2,798.3 239.0,801.0C238.8,803.7 237.2,806.7 236.0,809.0C234.8,811.3 233.7,813.0 232.0,815.0C230.3,817.0 228.0,819.0 226.0,821.0C224.0,823.0 222.0,824.7 220.0,827.0C218.0,829.3 216.0,832.7 214.0,835.0C212.0,837.3 210.7,839.3 208.0,841.0C205.3,842.7 201.0,843.7 198.0,845.0C195.0,846.3 193.0,847.8 190.0,849.0C187.0,850.2 183.3,851.0 180.0,852.0C176.7,853.0 172.5,854.3 170.0,855.0C167.5,855.7 166.3,856.7 165.0,856.0C163.7,855.3 163.2,852.8 162.0,851.0C160.8,849.2 160.3,846.3 158.0,845.0C155.7,843.7 151.3,843.7 148.0,843.0C144.7,842.3 141.0,842.0 138.0,841.0C135.0,840.0 133.0,838.3 130.0,837.0C127.0,835.7 123.7,834.0 120.0,833.0C116.3,832.0 111.3,832.0 108.0,831.0C104.7,830.0 102.0,829.0 100.0,827.0C98.0,825.0 97.7,821.3 96.0,819.0C94.3,816.7 91.7,814.8 90.0,813.0C88.3,811.2 86.8,809.7 86.0,808.0C85.2,806.3 84.0,804.0 85.0,803.0Z" fill="#2882f0"/>
<path d="M294.9,768.6C295.5,767.8 299.9,765.3 302.8,764.3C305.8,763.4 309.1,763.1 312.6,762.9C316.0,762.7 320.8,762.2 323.5,763.1C326.2,764.0 328.6,766.1 329.0,768.0C329.4,769.8 327.2,772.6 325.9,774.0C324.6,775.5 322.9,776.5 321.1,776.5C319.2,776.5 317.4,775.2 315.0,774.0C312.6,772.9 309.1,770.6 306.5,769.8C303.8,769.0 301.1,769.4 299.2,769.2C297.3,769.0 294.3,769.4 294.9,768.6Z" fill="#2882f0"/>
<path d="M261.0,767.4C261.3,766.4 264.2,765.2 266.0,765.0C267.8,764.8 271.3,765.2 272.0,766.0C272.7,766.8 271.3,769.2 270.0,770.0C268.7,770.8 265.5,771.4 264.0,771.0C262.5,770.6 260.7,768.4 261.0,767.4Z" fill="#2882f0"/>
<path d="M100.0,813.0C100.8,811.2 103.7,809.0 106.0,807.0C108.3,805.0 111.0,803.0 114.0,801.0C117.0,799.0 120.7,797.3 124.0,795.0C127.3,792.7 131.0,789.2 134.0,787.0C137.0,784.8 139.0,783.2 142.0,782.0C145.0,780.8 148.3,780.5 152.0,780.0C155.7,779.5 160.0,779.2 164.0,779.0C168.0,778.8 172.3,778.6 176.0,778.6C179.7,778.6 182.7,778.3 186.0,779.0C189.3,779.7 193.0,781.5 196.0,783.0C199.0,784.5 201.0,786.8 204.0,788.0C207.0,789.2 210.7,789.2 214.0,790.0C217.3,790.8 221.5,791.5 224.0,793.0C226.5,794.5 228.0,796.7 229.0,799.0C230.0,801.3 230.3,804.3 230.0,807.0C229.7,809.7 228.3,812.7 227.0,815.0C225.7,817.3 224.2,819.0 222.0,821.0C219.8,823.0 216.3,825.0 214.0,827.0C211.7,829.0 210.3,831.5 208.0,833.0C205.7,834.5 203.0,835.2 200.0,836.0C197.0,836.8 193.3,837.5 190.0,838.0C186.7,838.5 183.7,838.8 180.0,839.0C176.3,839.2 172.0,839.3 168.0,839.0C164.0,838.7 159.7,837.5 156.0,837.0C152.3,836.5 149.3,836.3 146.0,836.0C142.7,835.7 139.3,835.8 136.0,835.0C132.7,834.2 129.3,832.3 126.0,831.0C122.7,829.7 119.3,828.3 116.0,827.0C112.7,825.7 108.5,824.5 106.0,823.0C103.5,821.5 102.0,819.7 101.0,818.0C100.0,816.3 99.2,814.8 100.0,813.0Z" fill="#1464d2"/>
<path d="M411.0,815.0C411.0,812.7 412.2,810.7 414.0,809.0C415.8,807.3 418.7,805.8 422.0,805.0C425.3,804.2 429.7,804.2 434.0,804.0C438.3,803.8 443.3,803.9 448.0,804.0C452.7,804.1 457.7,804.3 462.0,804.6C466.3,804.9 471.7,805.3 474.0,806.0C476.3,806.7 476.7,807.2 476.0,809.0C475.3,810.8 472.0,814.7 470.0,817.0C468.0,819.3 466.0,821.0 464.0,823.0C462.0,825.0 460.3,827.0 458.0,829.0C455.7,831.0 452.0,833.0 450.0,835.0C448.0,837.0 447.0,838.7 446.0,841.0C445.0,843.3 444.3,846.3 444.0,849.0C443.7,851.7 444.7,854.7 444.0,857.0C443.3,859.3 441.7,861.5 440.0,863.0C438.3,864.5 435.8,865.7 434.0,866.0C432.2,866.3 430.0,866.8 429.0,865.0C428.0,863.2 428.2,858.3 428.0,855.0C427.8,851.7 428.3,848.0 428.0,845.0C427.7,842.0 427.3,839.7 426.0,837.0C424.7,834.3 422.0,831.3 420.0,829.0C418.0,826.7 415.5,825.3 414.0,823.0C412.5,820.7 411.0,817.3 411.0,815.0Z" fill="#fffaaa"/>
<path d="M404.0,807.0L406.0,807.0L406.0,809.0L404.0,809.0Z" fill="#fffaaa"/>
<path d="M481.0,738.0L488.0,738.0L488.0,741.0L481.0,741.0Z" fill="#fffaaa"/>
<path d="M514.0,793.0C514.7,790.8 515.3,787.4 518.0,786.0C520.7,784.6 525.7,784.6 530.0,784.6C534.3,784.6 539.7,785.4 544.0,786.0C548.3,786.6 552.0,787.5 556.0,788.0C560.0,788.5 564.7,789.5 568.0,789.0C571.3,788.5 573.0,786.2 576.0,785.0C579.0,783.8 582.0,782.7 586.0,782.0C590.0,781.3 595.0,780.8 600.0,781.0C605.0,781.2 611.0,782.3 616.0,783.0C621.0,783.7 625.7,784.7 630.0,785.0C634.3,785.3 639.3,784.2 642.0,785.0C644.7,785.8 646.0,788.0 646.0,790.0C646.0,792.0 643.7,794.5 642.0,797.0C640.3,799.5 638.3,803.0 636.0,805.0C633.7,807.0 630.7,807.7 628.0,809.0C625.3,810.3 622.7,811.3 620.0,813.0C617.3,814.7 615.0,817.2 612.0,819.0C609.0,820.8 605.3,823.0 602.0,824.0C598.7,825.0 595.7,825.0 592.0,825.0C588.3,825.0 583.7,823.7 580.0,824.0C576.3,824.3 573.3,826.8 570.0,827.0C566.7,827.2 562.5,826.3 560.0,825.0C557.5,823.7 555.3,821.0 555.0,819.0C554.7,817.0 557.2,815.3 558.0,813.0C558.8,810.7 561.3,806.7 560.0,805.0C558.7,803.3 553.3,803.2 550.0,803.0C546.7,802.8 543.7,803.5 540.0,804.0C536.3,804.5 531.7,805.8 528.0,806.0C524.3,806.2 520.3,806.2 518.0,805.0C515.7,803.8 514.7,801.0 514.0,799.0C513.3,797.0 513.3,795.2 514.0,793.0Z" fill="#fffaaa"/>
<path d="M643.0,768.0C643.3,766.3 645.5,763.8 648.0,762.0C650.5,760.2 654.7,758.7 658.0,757.0C661.3,755.3 664.7,753.5 668.0,752.0C671.3,750.5 675.0,748.8 678.0,748.0C681.0,747.2 684.3,746.5 686.0,747.0C687.7,747.5 689.0,749.3 688.0,751.0C687.0,752.7 682.3,755.0 680.0,757.0C677.7,759.0 676.3,761.2 674.0,763.0C671.7,764.8 668.7,766.3 666.0,768.0C663.3,769.7 660.5,771.8 658.0,773.0C655.5,774.2 653.0,775.2 651.0,775.0C649.0,774.8 647.3,773.2 646.0,772.0C644.7,770.8 642.7,769.7 643.0,768.0Z" fill="#fffaaa"/>
<path d="M678.0,827.0C678.7,824.8 681.7,823.3 684.0,822.0C686.3,820.7 689.7,820.8 692.0,819.0C694.3,817.2 696.0,813.3 698.0,811.0C700.0,808.7 701.7,806.3 704.0,805.0C706.3,803.7 709.3,802.8 712.0,803.0C714.7,803.2 718.5,804.3 720.0,806.0C721.5,807.7 721.3,810.5 721.0,813.0C720.7,815.5 719.0,818.3 718.0,821.0C717.0,823.7 716.7,826.7 715.0,829.0C713.3,831.3 710.5,833.3 708.0,835.0C705.5,836.7 702.7,838.0 700.0,839.0C697.3,840.0 694.8,840.5 692.0,841.0C689.2,841.5 685.0,843.0 683.0,842.0C681.0,841.0 680.8,837.5 680.0,835.0C679.2,832.5 677.3,829.2 678.0,827.0Z" fill="#fffaaa"/>
<path d="M560.0,803.0C560.7,800.7 563.3,797.2 566.0,795.0C568.7,792.8 572.3,791.3 576.0,790.0C579.7,788.7 584.0,787.7 588.0,787.0C592.0,786.3 596.3,785.8 600.0,786.0C603.7,786.2 606.7,786.8 610.0,788.0C613.3,789.2 617.5,791.5 620.0,793.0C622.5,794.5 625.0,795.3 625.0,797.0C625.0,798.7 621.8,801.0 620.0,803.0C618.2,805.0 616.3,807.0 614.0,809.0C611.7,811.0 609.0,813.3 606.0,815.0C603.0,816.7 599.7,818.2 596.0,819.0C592.3,819.8 588.0,820.0 584.0,820.0C580.0,820.0 575.2,819.8 572.0,819.0C568.8,818.2 566.7,816.7 565.0,815.0C563.3,813.3 562.8,811.0 562.0,809.0C561.2,807.0 559.3,805.3 560.0,803.0Z" fill="#ffc03c"/>
<path d="M567.0,803.0C567.7,800.8 571.2,798.7 574.0,797.0C576.8,795.3 580.3,794.0 584.0,793.0C587.7,792.0 592.3,791.2 596.0,791.0C599.7,790.8 603.0,791.3 606.0,792.0C609.0,792.7 612.2,793.8 614.0,795.0C615.8,796.2 617.7,797.3 617.0,799.0C616.3,800.7 612.2,803.0 610.0,805.0C607.8,807.0 606.3,809.3 604.0,811.0C601.7,812.7 599.0,814.2 596.0,815.0C593.0,815.8 589.3,816.0 586.0,816.0C582.7,816.0 578.7,816.0 576.0,815.0C573.3,814.0 571.5,812.0 570.0,810.0C568.5,808.0 566.3,805.2 567.0,803.0Z" fill="#ffa000"/>
<path d="M577.0,805.0C577.8,803.5 581.2,801.3 584.0,800.0C586.8,798.7 590.7,797.5 594.0,797.0C597.3,796.5 602.7,796.0 604.0,797.0C605.3,798.0 603.0,801.0 602.0,803.0C601.0,805.0 599.7,807.5 598.0,809.0C596.3,810.5 594.3,811.7 592.0,812.0C589.7,812.3 586.2,811.5 584.0,811.0C581.8,810.5 580.2,810.0 579.0,809.0C577.8,808.0 576.2,806.5 577.0,805.0Z" fill="#ff6000"/>
<path d="M583.0,807.4C583.3,806.7 586.0,805.7 587.0,806.0C588.0,806.3 589.3,808.3 589.0,809.0C588.7,809.7 586.0,810.3 585.0,810.0C584.0,809.7 582.7,808.1 583.0,807.4Z" fill="#e11400"/>
</g>
<g clip-path="url(#c3)"><use href="#coast" x="0" y="420"/></g>
<g shape-rendering="crispEdges" stroke="#000" fill="none">
<rect x="45" y="670" width="720" height="236" stroke-width="2"/>
<path d="M45.5,907 v5M110.5,907 v5M175.5,907 v5M241.5,907 v5M306.5,907 v5M372.5,907 v5M437.5,907 v5M503.5,907 v5M568.5,907 v5M634.5,907 v5M699.5,907 v5M765.5,907 v5M44,690.5 h-5M44,729.5 h-5M44,769.5 h-5M44,808.5 h-5M44,847.5 h-5M44,887.5 h-5" stroke-width="1"/>
</g>
<g clip-path="url(#c4)" shape-rendering="crispEdges">
<path d="M890.0,660.0L1630.0,660.0L1630.0,915.0L890.0,915.0Z" fill="#2882f0"/>
<path d="M887.0,830.2C889.2,824.4 897.0,830.4 900.0,830.2C903.0,830.0 903.3,829.9 905.0,829.2C906.7,828.5 908.5,827.4 910.0,826.2C911.5,825.0 912.7,823.9 914.0,822.2C915.3,820.5 916.8,818.2 918.0,816.2C919.2,814.2 920.0,811.9 921.2,810.2C922.4,808.5 923.7,807.5 925.2,806.2C926.7,804.9 928.5,803.5 930.2,802.2C931.9,800.9 933.4,799.2 935.2,798.2C937.0,797.2 938.9,796.0 941.2,796.2C943.5,796.4 946.9,798.5 949.2,799.2C951.5,799.9 953.5,800.9 955.2,800.2C956.9,799.5 958.0,797.9 959.2,795.2C960.4,792.5 961.4,787.2 962.2,784.0C963.0,780.8 963.7,777.4 964.2,776.0C964.7,774.6 965.4,776.7 965.2,775.4C965.0,774.1 962.5,769.7 963.2,768.4C963.9,767.1 967.2,768.2 969.2,767.4C971.2,766.6 973.2,764.7 975.4,763.4C977.6,762.1 979.9,760.9 982.4,759.4C984.9,757.9 987.7,755.9 990.4,754.4C993.1,752.9 996.9,751.9 998.4,750.4C999.9,748.9 999.1,747.6 999.4,745.4C999.7,743.2 1000.1,739.7 1000.4,737.2C1000.7,734.7 1001.4,732.0 1001.4,730.2C1001.4,728.4 1001.6,727.5 1000.4,726.2C999.2,724.9 996.2,723.7 994.4,722.2C992.6,720.7 990.6,719.2 989.4,717.2C988.2,715.2 987.7,712.2 987.4,710.2C987.1,708.2 987.0,707.0 987.4,705.2C987.8,703.4 988.5,700.0 989.8,699.2C991.1,698.4 992.8,700.1 995.4,700.6C998.0,701.1 1002.1,702.1 1005.4,702.2C1008.7,702.3 1011.2,702.0 1015.4,701.2C1019.6,700.4 1025.6,698.1 1030.6,697.2C1035.6,696.3 1040.7,695.9 1045.6,695.6C1050.5,695.3 1055.1,695.1 1060.0,695.2C1064.9,695.3 1069.2,695.7 1075.0,696.0C1080.8,696.3 1088.3,696.8 1095.0,697.0C1101.7,697.2 1110.8,697.3 1115.0,697.0C1119.2,696.7 1115.8,695.1 1120.0,695.0C1124.2,694.9 1133.3,696.1 1140.0,696.6C1146.7,697.1 1153.3,697.4 1160.0,698.0C1166.7,698.6 1174.0,699.2 1180.0,700.0C1186.0,700.8 1191.3,702.0 1196.0,703.0C1200.7,704.0 1204.0,704.9 1208.0,706.0C1212.0,707.1 1216.0,708.4 1220.0,709.4C1224.0,710.4 1227.3,711.1 1232.0,712.0C1236.7,712.9 1242.7,714.2 1248.0,715.0C1253.3,715.8 1259.3,716.2 1264.0,717.0C1268.7,717.8 1272.3,718.7 1276.0,720.0C1279.7,721.3 1282.7,723.4 1286.0,725.0C1289.3,726.6 1293.0,727.9 1296.0,729.4C1299.0,730.9 1301.7,732.4 1304.0,734.0C1306.3,735.6 1308.7,737.2 1310.0,739.0C1311.3,740.8 1312.1,742.7 1312.0,745.0C1311.9,747.3 1310.1,750.3 1309.6,753.0C1309.1,755.7 1308.9,758.3 1309.0,761.0C1309.1,763.7 1308.8,766.3 1310.0,769.0C1311.2,771.7 1313.7,774.7 1316.0,777.0C1318.3,779.3 1320.7,781.0 1324.0,783.0C1327.3,785.0 1332.0,787.3 1336.0,789.0C1340.0,790.7 1344.0,792.3 1348.0,793.0C1352.0,793.7 1356.0,793.5 1360.0,793.0C1364.0,792.5 1368.0,790.8 1372.0,790.0C1376.0,789.2 1379.3,788.5 1384.0,788.0C1388.7,787.5 1394.7,787.5 1400.0,787.0C1405.3,786.5 1411.3,785.8 1416.0,785.0C1420.7,784.2 1424.3,783.3 1428.0,782.0C1431.7,780.7 1435.0,779.5 1438.0,777.0C1441.0,774.5 1445.0,770.0 1446.0,767.0C1447.0,764.0 1445.7,762.0 1444.0,759.0C1442.3,756.0 1439.0,752.0 1436.0,749.0C1433.0,746.0 1429.3,743.7 1426.0,741.0C1422.7,738.3 1419.0,735.0 1416.0,733.0C1413.0,731.0 1411.0,730.3 1408.0,729.0C1405.0,727.7 1401.7,726.7 1398.0,725.0C1394.3,723.3 1390.0,721.0 1386.0,719.0C1382.0,717.0 1377.3,715.3 1374.0,713.0C1370.7,710.7 1368.3,707.7 1366.0,705.0C1363.7,702.3 1362.0,700.0 1360.0,697.0C1358.0,694.0 1356.0,690.0 1354.0,687.0C1352.0,684.0 1345.3,680.7 1348.0,679.0C1350.7,677.3 1361.3,677.5 1370.0,677.0C1378.7,676.5 1388.3,676.5 1400.0,676.0C1411.7,675.5 1426.7,674.4 1440.0,674.0C1453.3,673.6 1466.6,673.8 1480.0,673.6C1493.4,673.4 1506.8,673.1 1520.2,673.0C1533.5,672.9 1552.0,672.9 1560.3,673.0C1568.7,673.2 1567.0,673.6 1570.4,674.0C1573.7,674.5 1577.1,675.0 1580.4,675.5C1583.7,676.1 1587.1,676.9 1590.4,677.6C1593.8,678.2 1598.0,679.0 1600.5,679.6C1603.0,680.1 1605.2,680.1 1605.5,681.1C1605.8,682.0 1604.0,683.7 1602.5,685.1C1601.0,686.4 1598.8,687.9 1596.5,689.1C1594.1,690.3 1591.1,691.1 1588.4,692.1C1585.8,693.1 1582.7,694.1 1580.4,695.1C1578.1,696.1 1576.1,697.0 1574.4,698.1C1572.7,699.3 1571.5,700.6 1570.4,702.1C1569.2,703.7 1568.2,705.3 1567.3,707.2C1566.5,709.0 1565.9,711.3 1565.3,713.2C1564.8,715.1 1563.0,717.4 1563.8,718.7C1564.7,720.1 1567.9,720.6 1570.4,721.2C1572.8,721.9 1575.7,722.2 1578.4,722.7C1581.1,723.2 1583.9,723.7 1586.4,724.2C1588.9,724.8 1591.4,725.4 1593.5,726.2C1595.5,727.1 1597.3,728.1 1598.5,729.3C1599.6,730.4 1600.3,731.8 1600.5,733.3C1600.6,734.8 1600.3,736.6 1599.5,738.3C1598.6,740.0 1597.0,741.6 1595.5,743.3C1594.0,745.0 1591.9,746.7 1590.4,748.3C1588.9,750.0 1587.8,751.7 1586.4,753.4C1585.1,755.0 1583.6,756.5 1582.4,758.4C1581.2,760.2 1580.4,762.6 1579.4,764.4C1578.4,766.2 1577.9,767.9 1576.4,769.4C1574.9,770.9 1572.4,772.3 1570.4,773.4C1568.4,774.6 1566.7,775.7 1564.3,776.4C1562.0,777.2 1559.0,777.7 1556.3,778.0C1553.6,778.2 1551.0,778.0 1548.3,778.0C1545.6,777.9 1542.9,777.4 1540.2,777.4C1537.6,777.4 1534.9,777.7 1532.2,778.0C1529.5,778.2 1526.9,778.5 1524.2,779.0C1521.5,779.4 1518.8,779.7 1516.1,780.5C1513.5,781.2 1510.5,782.5 1508.1,783.5C1505.8,784.5 1503.6,784.6 1502.1,786.5C1500.6,788.4 1499.2,791.9 1499.0,795.0C1498.8,798.1 1500.3,801.7 1501.0,805.0C1501.7,808.3 1503.2,811.7 1503.0,815.0C1502.8,818.3 1501.2,821.7 1500.0,825.0C1498.8,828.3 1497.0,831.7 1496.0,835.0C1495.0,838.3 1495.0,842.3 1494.0,845.0C1493.0,847.7 1492.3,849.3 1490.0,851.0C1487.7,852.7 1483.7,853.8 1480.0,855.0C1476.3,856.2 1472.0,857.1 1468.0,858.0C1464.0,858.9 1460.0,859.8 1456.0,860.6C1452.0,861.4 1448.7,862.1 1444.0,863.0C1439.3,863.9 1433.3,864.8 1428.0,866.0C1422.7,867.2 1416.7,868.8 1412.0,870.0C1407.3,871.2 1403.7,871.9 1400.0,873.0C1396.3,874.1 1393.1,875.8 1390.1,876.4C1387.0,876.9 1384.7,876.6 1381.6,876.4C1378.5,876.2 1374.6,876.1 1371.6,875.4C1368.6,874.7 1366.2,873.7 1363.6,872.4C1360.9,871.0 1358.5,868.9 1355.5,867.3C1352.5,865.8 1348.8,864.3 1345.5,863.3C1342.1,862.3 1337.8,862.0 1335.4,861.3C1333.1,860.7 1332.6,860.2 1331.4,859.3C1330.3,858.5 1328.7,857.8 1328.4,856.3C1328.1,854.8 1329.4,852.6 1329.4,850.3C1329.4,847.9 1328.7,844.9 1328.4,842.2C1328.2,839.6 1328.2,836.6 1327.9,834.2C1327.6,831.9 1327.2,829.9 1326.4,828.2C1325.7,826.5 1325.2,825.5 1323.4,824.2C1321.6,822.8 1318.0,821.7 1315.4,820.2C1312.7,818.7 1310.3,816.8 1307.3,815.1C1304.3,813.5 1300.6,812.0 1297.3,810.1C1293.9,808.3 1290.0,805.8 1287.2,804.1C1284.5,802.4 1283.4,801.0 1280.6,800.0C1277.8,799.0 1273.9,798.8 1270.6,798.0C1267.3,797.2 1263.9,795.8 1260.6,795.0C1257.3,794.2 1254.0,793.8 1250.6,793.0C1247.2,792.2 1243.8,791.2 1240.4,790.0C1237.0,788.8 1233.7,787.5 1230.4,786.0C1227.1,784.5 1223.4,782.8 1220.4,781.0C1217.4,779.2 1215.1,776.3 1212.4,775.0C1209.7,773.7 1206.2,773.0 1204.0,773.0C1201.8,773.0 1200.6,774.3 1199.4,775.0C1198.1,775.7 1197.5,776.0 1196.3,777.0C1195.2,778.0 1193.7,779.7 1192.3,781.0C1191.0,782.4 1190.0,783.6 1188.3,785.1C1186.6,786.6 1184.3,788.3 1182.3,790.1C1180.3,791.8 1178.2,793.9 1176.3,795.6C1174.3,797.3 1172.1,800.7 1170.7,800.1C1169.4,799.5 1169.1,794.9 1168.2,792.1C1167.4,789.2 1166.5,785.9 1165.7,783.1C1164.9,780.2 1164.1,777.2 1163.4,775.0C1162.7,772.9 1161.9,772.0 1161.4,770.2C1160.9,768.4 1158.1,765.7 1160.4,764.2C1162.7,762.7 1171.6,762.0 1175.4,761.2C1179.2,760.4 1181.2,759.8 1183.4,759.6C1185.6,759.4 1186.7,759.4 1188.6,760.2C1190.5,761.0 1192.6,762.9 1194.6,764.2C1196.6,765.5 1198.6,767.2 1200.6,768.2C1202.6,769.2 1204.9,769.7 1206.6,770.2C1208.3,770.7 1209.0,772.2 1210.6,771.2C1212.2,770.2 1214.8,766.4 1216.0,764.0C1217.2,761.6 1218.3,759.5 1218.0,757.0C1217.7,754.5 1216.0,751.5 1214.0,749.0C1212.0,746.5 1209.0,744.0 1206.0,742.0C1203.0,740.0 1199.3,738.3 1196.0,737.0C1192.7,735.7 1189.3,734.3 1186.0,734.0C1182.7,733.7 1179.3,735.0 1176.0,735.0C1172.7,735.0 1169.3,734.3 1166.0,734.0C1162.7,733.7 1159.7,733.8 1156.0,733.0C1152.3,732.2 1148.0,730.0 1144.0,729.0C1140.0,728.0 1135.1,727.7 1132.0,727.0C1128.9,726.3 1128.9,725.7 1125.3,725.0C1121.6,724.4 1115.2,723.3 1110.2,723.0C1105.2,722.7 1100.2,722.8 1095.1,723.0C1090.1,723.3 1084.3,723.8 1080.1,724.5C1075.9,725.2 1073.4,726.1 1070.0,727.0C1066.7,727.9 1061.7,728.9 1060.0,730.0C1058.3,731.2 1061.0,732.3 1060.0,734.0C1059.0,735.7 1055.3,738.0 1054.0,740.0C1052.7,742.0 1051.8,744.0 1052.0,746.0C1052.2,748.0 1053.7,750.6 1055.0,752.0C1056.3,753.4 1057.5,753.9 1060.0,754.1C1062.5,754.3 1066.7,753.3 1070.0,753.1C1073.4,753.0 1076.7,753.1 1080.1,753.1C1083.4,753.1 1087.3,752.8 1090.1,753.1C1093.0,753.5 1095.1,754.0 1097.1,755.1C1099.2,756.3 1100.7,758.3 1102.2,760.2C1103.7,762.0 1105.0,764.0 1106.2,766.2C1107.4,768.4 1108.4,770.9 1109.2,773.2C1110.0,775.6 1110.7,777.7 1111.2,780.2C1111.7,782.8 1112.0,785.6 1112.2,788.3C1112.5,791.0 1112.4,793.8 1112.7,796.3C1113.0,798.8 1113.5,801.0 1114.2,803.3C1115.0,805.7 1116.2,808.2 1117.2,810.4C1118.2,812.5 1119.2,814.2 1120.2,816.4C1121.2,818.6 1123.3,822.0 1123.3,823.4C1123.2,824.8 1121.4,823.7 1120.0,825.0C1118.6,826.3 1117.2,829.3 1115.0,831.0C1112.8,832.7 1110.0,833.7 1107.0,835.0C1104.0,836.3 1100.3,837.7 1097.0,839.0C1093.7,840.3 1090.7,841.8 1087.0,843.0C1083.3,844.2 1078.3,846.0 1075.0,846.0C1071.7,846.0 1070.3,844.2 1067.0,843.0C1063.7,841.8 1059.0,840.0 1055.0,839.0C1051.0,838.0 1046.3,837.0 1043.0,837.0C1039.7,837.0 1037.7,838.3 1035.0,839.0C1032.3,839.7 1029.7,840.0 1027.0,841.0C1024.3,842.0 1021.3,843.3 1019.0,845.0C1016.7,846.7 1015.0,849.3 1013.0,851.0C1011.0,852.7 1010.0,853.5 1007.0,855.0C1004.0,856.5 999.0,858.5 995.0,860.0C991.0,861.5 987.0,862.8 983.0,864.0C979.0,865.2 975.0,866.0 971.0,867.0C967.0,868.0 963.0,869.0 959.0,870.0C955.0,871.0 951.0,872.2 947.0,873.0C943.0,873.8 938.7,874.7 935.0,875.0C931.3,875.3 928.3,875.3 925.0,875.0C921.7,874.7 918.0,874.0 915.0,873.0C912.0,872.0 909.5,870.3 907.0,869.0C904.5,867.7 903.3,865.7 900.0,865.0C896.7,864.3 889.2,870.8 887.0,865.0C884.8,859.2 884.8,836.0 887.0,830.2Z" fill="#1464d2"/>
<path d="M1013.0,785.0C1012.7,783.0 1013.7,779.0 1015.0,777.0C1016.3,775.0 1018.7,773.5 1021.0,773.0C1023.3,772.5 1027.0,773.0 1029.0,774.0C1031.0,775.0 1032.5,777.0 1033.0,779.0C1033.5,781.0 1033.3,784.2 1032.0,786.0C1030.7,787.8 1027.5,789.5 1025.0,790.0C1022.5,790.5 1019.0,789.8 1017.0,789.0C1015.0,788.2 1013.3,787.0 1013.0,785.0Z" fill="#2882f0"/>
<path d="M1054.0,741.0C1054.5,739.2 1056.5,735.7 1058.0,735.0C1059.5,734.3 1062.0,735.3 1063.0,737.0C1064.0,738.7 1064.7,743.2 1064.0,745.0C1063.3,746.8 1060.5,747.8 1059.0,748.0C1057.5,748.2 1055.8,747.2 1055.0,746.0C1054.2,744.8 1053.5,742.8 1054.0,741.0Z" fill="#2882f0"/>
<path d="M1494.0,725.0C1494.3,722.8 1495.7,719.2 1498.0,717.0C1500.3,714.8 1504.3,713.2 1508.0,712.0C1511.7,710.8 1516.3,710.7 1520.0,710.0C1523.7,709.3 1527.3,707.5 1530.0,708.0C1532.7,708.5 1534.3,711.2 1536.0,713.0C1537.7,714.8 1540.7,717.5 1540.0,719.0C1539.3,720.5 1535.3,721.3 1532.0,722.0C1528.7,722.7 1523.7,722.5 1520.0,723.0C1516.3,723.5 1513.0,724.0 1510.0,725.0C1507.0,726.0 1504.3,728.2 1502.0,729.0C1499.7,729.8 1497.3,730.7 1496.0,730.0C1494.7,729.3 1493.7,727.2 1494.0,725.0Z" fill="#2882f0"/>
<path d="M1504.0,719.0C1504.7,718.0 1507.7,715.9 1510.0,715.4C1512.3,714.9 1516.3,715.3 1518.0,716.0C1519.7,716.7 1521.0,718.4 1520.0,719.4C1519.0,720.4 1514.3,721.7 1512.0,722.0C1509.7,722.3 1507.3,721.9 1506.0,721.4C1504.7,720.9 1503.3,720.0 1504.0,719.0Z" fill="#96d2fa"/>
<path d="M1523.0,718.0C1522.8,716.8 1527.0,714.0 1529.0,714.0C1531.0,714.0 1534.8,716.8 1535.0,718.0C1535.2,719.2 1532.0,721.0 1530.0,721.0C1528.0,721.0 1523.2,719.2 1523.0,718.0Z" fill="#96d2fa"/>
<path d="M1495.6,728.0L1498.0,728.0L1498.0,730.2L1495.6,730.2Z" fill="#e1ffff"/>
<path d="M1348.0,793.0C1347.7,791.0 1350.0,788.3 1352.0,787.0C1354.0,785.7 1358.2,784.0 1360.0,785.0C1361.8,786.0 1363.0,790.0 1363.0,793.0C1363.0,796.0 1361.5,802.0 1360.0,803.0C1358.5,804.0 1356.0,800.7 1354.0,799.0C1352.0,797.3 1348.3,795.0 1348.0,793.0Z" fill="#2882f0"/>
<path d="M991.4,657.0C1008.8,659.3 994.1,668.2 991.4,671.0C988.7,673.8 979.8,673.0 975.4,674.0C971.0,675.0 968.6,675.7 965.2,677.0C961.8,678.3 958.0,680.3 955.2,682.0C952.4,683.7 950.2,685.6 948.2,687.0C946.2,688.4 943.7,689.2 943.2,690.6C942.7,692.0 944.6,693.6 945.2,695.2C945.8,696.8 947.3,698.5 946.8,700.2C946.3,701.9 943.9,703.7 942.2,705.2C940.5,706.7 937.6,707.7 936.6,709.2C935.6,710.7 935.8,712.4 936.2,714.2C936.6,716.0 937.9,718.5 939.2,720.2C940.5,721.9 942.2,723.0 944.2,724.2C946.2,725.4 949.4,725.9 951.2,727.2C953.0,728.5 954.0,730.2 954.8,732.2C955.6,734.2 955.9,736.7 955.8,739.2C955.7,741.7 954.9,744.7 954.2,747.4C953.5,750.1 952.6,753.2 951.8,755.4C951.0,757.6 950.6,758.9 949.2,760.4C947.8,761.9 944.9,763.1 943.2,764.4C941.5,765.7 939.2,766.9 939.2,768.4C939.2,769.9 941.9,771.7 943.2,773.4C944.5,775.1 946.0,776.5 947.2,778.4C948.4,780.3 949.9,783.0 950.2,785.0C950.5,787.0 950.8,789.5 949.0,790.6C947.2,791.7 941.5,791.0 939.2,791.6C936.9,792.2 936.7,792.9 935.2,794.0C933.7,795.1 931.9,796.8 930.2,798.0C928.5,799.2 927.1,800.1 925.2,801.0C923.3,801.9 920.9,802.6 919.0,803.2C917.1,803.8 915.5,803.8 914.0,804.6C912.5,805.4 911.2,806.6 910.0,808.2C908.8,809.8 907.8,812.2 907.0,814.2C906.2,816.2 906.0,818.9 905.0,820.2C904.0,821.5 904.0,821.7 901.0,822.2C898.0,822.7 889.3,850.5 887.0,823.0C884.7,795.5 869.6,684.7 887.0,657.0C904.4,629.3 974.0,654.7 991.4,657.0Z" fill="#96d2fa"/>
<path d="M951.2,787.0C951.3,785.6 952.9,783.7 954.0,783.0C955.1,782.3 957.0,781.9 958.0,782.6C959.0,783.3 960.0,785.6 960.0,787.0C960.0,788.4 959.1,790.2 958.0,791.0C956.9,791.8 954.7,792.3 953.6,791.6C952.5,790.9 951.1,788.4 951.2,787.0Z" fill="#96d2fa"/>
<path d="M1344.0,685.0C1347.3,686.3 1349.7,688.7 1352.0,691.0C1354.3,693.3 1356.0,696.2 1358.0,699.0C1360.0,701.8 1361.7,705.2 1364.0,708.0C1366.3,710.8 1369.0,713.7 1372.0,716.0C1375.0,718.3 1378.3,720.2 1382.0,722.0C1385.7,723.8 1390.3,725.3 1394.0,727.0C1397.7,728.7 1400.7,730.3 1404.0,732.0C1407.3,733.7 1410.7,735.0 1414.0,737.0C1417.3,739.0 1421.0,741.7 1424.0,744.0C1427.0,746.3 1429.7,748.5 1432.0,751.0C1434.3,753.5 1436.7,756.3 1438.0,759.0C1439.3,761.7 1440.5,764.5 1440.0,767.0C1439.5,769.5 1437.3,772.0 1435.0,774.0C1432.7,776.0 1429.2,777.7 1426.0,779.0C1422.8,780.3 1420.3,781.2 1416.0,782.0C1411.7,782.8 1405.0,783.5 1400.0,784.0C1395.0,784.5 1390.3,784.5 1386.0,785.0C1381.7,785.5 1378.0,786.3 1374.0,787.0C1370.0,787.7 1366.0,788.8 1362.0,789.0C1358.0,789.2 1354.0,788.7 1350.0,788.0C1346.0,787.3 1342.0,786.3 1338.0,785.0C1334.0,783.7 1329.5,781.8 1326.0,780.0C1322.5,778.2 1319.4,776.5 1317.0,774.0C1314.6,771.5 1312.6,767.8 1311.6,765.0C1310.6,762.2 1310.9,759.7 1311.0,757.0C1311.1,754.3 1311.3,751.5 1312.0,749.0C1312.7,746.5 1315.2,744.3 1315.0,742.0C1314.8,739.7 1312.8,736.8 1311.0,735.0C1309.2,733.2 1306.8,732.7 1304.0,731.0C1301.2,729.3 1297.3,727.0 1294.0,725.0C1290.7,723.0 1287.7,720.7 1284.0,719.0C1280.3,717.3 1276.0,716.3 1272.0,715.0C1268.0,713.7 1264.0,712.3 1260.0,711.0C1256.0,709.7 1252.0,708.2 1248.0,707.0C1244.0,705.8 1240.0,705.0 1236.0,704.0C1232.0,703.0 1227.7,702.5 1224.0,701.0C1220.3,699.5 1216.7,697.3 1214.0,695.0C1211.3,692.7 1207.7,689.2 1208.0,687.0C1208.3,684.8 1212.0,683.3 1216.0,682.0C1220.0,680.7 1226.0,679.7 1232.0,679.0C1238.0,678.3 1245.3,678.1 1252.0,678.0C1258.7,677.9 1265.3,678.3 1272.0,678.6C1278.7,678.9 1285.7,679.3 1292.0,680.0C1298.3,680.7 1303.3,682.1 1310.0,682.6C1316.7,683.1 1326.3,682.6 1332.0,683.0C1337.7,683.4 1340.7,683.7 1344.0,685.0Z" fill="#96d2fa"/>
<path d="M887.0,874.4C889.3,862.6 897.5,873.7 901.0,874.4C904.5,875.1 905.3,877.2 908.0,878.4C910.7,879.6 913.8,880.7 917.0,881.4C920.2,882.1 923.8,882.3 927.2,882.4C930.6,882.5 933.5,882.4 937.2,882.0C940.9,881.6 945.5,880.8 949.2,880.0C952.9,879.2 955.9,878.3 959.2,877.4C962.5,876.5 965.8,875.4 969.2,874.4C972.6,873.4 976.0,872.3 979.4,871.4C982.8,870.5 986.1,869.8 989.4,868.8C992.7,867.8 996.4,866.5 999.4,865.4C1002.4,864.3 1004.7,863.4 1007.4,862.4C1010.1,861.4 1012.7,860.4 1015.4,859.4C1018.1,858.4 1021.9,857.6 1023.6,856.4C1025.3,855.2 1025.1,853.9 1025.6,852.4C1026.1,850.9 1025.8,848.8 1026.6,847.4C1027.4,846.0 1028.8,844.9 1030.6,844.2C1032.4,843.5 1035.1,843.2 1037.6,843.2C1040.1,843.2 1043.3,843.6 1045.6,844.2C1047.9,844.8 1050.7,845.4 1051.2,846.8C1051.7,848.2 1049.5,851.0 1048.6,852.4C1047.7,853.8 1046.9,854.7 1045.6,855.4C1044.3,856.1 1040.3,855.7 1040.6,856.4C1040.9,857.1 1045.4,858.2 1047.6,859.4C1049.8,860.6 1051.5,862.5 1053.6,863.4C1055.7,864.3 1057.1,864.9 1060.0,864.8C1062.9,864.7 1067.2,864.0 1071.0,863.0C1074.8,862.0 1079.0,860.5 1083.0,859.0C1087.0,857.5 1091.3,855.7 1095.0,854.0C1098.7,852.3 1102.3,850.8 1105.0,849.0C1107.7,847.2 1109.0,845.0 1111.0,843.0C1113.0,841.0 1115.2,839.0 1117.0,837.0C1118.8,835.0 1120.8,832.8 1122.0,831.0C1123.2,829.2 1123.5,827.1 1124.0,826.0C1124.5,824.9 1125.6,825.7 1125.3,824.4C1125.0,823.1 1123.3,820.4 1122.2,818.4C1121.2,816.4 1120.2,814.5 1119.2,812.4C1118.2,810.2 1117.0,807.7 1116.2,805.3C1115.5,803.0 1115.1,800.8 1114.7,798.3C1114.4,795.8 1114.5,793.3 1114.2,790.3C1114.0,787.3 1113.7,783.3 1113.2,780.2C1112.7,777.2 1112.0,774.7 1111.2,772.2C1110.4,769.7 1109.4,767.5 1108.2,765.2C1107.0,762.8 1105.9,760.3 1104.2,758.2C1102.5,756.0 1100.5,753.8 1098.2,752.1C1095.8,750.5 1093.1,749.8 1090.1,748.1C1087.1,746.4 1083.1,743.8 1080.1,742.1C1077.1,740.4 1072.4,739.4 1072.0,738.1C1071.7,736.7 1075.1,734.9 1078.1,734.1C1081.1,733.2 1086.1,733.1 1090.1,733.1C1094.1,733.0 1098.5,734.0 1102.2,733.6C1105.9,733.1 1108.9,731.2 1112.2,730.5C1115.6,729.9 1118.9,729.6 1122.2,729.5C1125.6,729.5 1129.3,729.5 1132.3,730.0C1135.3,730.6 1138.0,731.9 1140.3,733.1C1142.7,734.2 1143.8,736.1 1146.3,737.1C1148.9,738.1 1153.0,738.1 1155.4,739.1C1157.7,740.1 1158.6,741.8 1160.4,743.1C1162.2,744.4 1164.6,745.8 1166.4,747.1C1168.3,748.4 1169.9,749.6 1171.4,751.1C1173.0,752.6 1174.8,754.6 1175.5,756.1C1176.1,757.7 1176.3,759.2 1175.5,760.2C1174.6,761.2 1172.6,761.8 1170.4,762.2C1168.3,762.5 1164.3,761.8 1162.4,762.2C1160.6,762.5 1160.2,763.2 1159.4,764.2C1158.6,765.2 1157.4,766.9 1157.4,768.2C1157.4,769.5 1158.7,770.5 1159.4,772.2C1160.1,773.9 1160.7,776.1 1161.4,778.2C1162.1,780.4 1162.8,782.8 1163.4,785.3C1164.0,787.8 1164.9,790.8 1164.9,793.3C1164.9,795.8 1164.2,798.1 1163.4,800.3C1162.7,802.5 1161.6,804.7 1160.4,806.3C1159.2,808.0 1157.6,809.0 1156.4,810.4C1155.2,811.7 1154.2,813.2 1153.4,814.4C1152.5,815.5 1151.4,816.4 1151.4,817.4C1151.4,818.4 1152.2,819.7 1153.4,820.4C1154.5,821.1 1156.6,821.4 1158.4,821.4C1160.2,821.4 1162.4,821.4 1164.4,820.4C1166.4,819.4 1168.4,817.4 1170.4,815.4C1172.4,813.4 1174.5,810.7 1176.5,808.4C1178.5,806.0 1180.5,803.3 1182.5,801.3C1184.5,799.3 1186.5,797.8 1188.5,796.3C1190.5,794.8 1192.5,793.5 1194.5,792.3C1196.5,791.1 1198.9,790.4 1200.6,789.3C1202.2,788.1 1203.6,786.8 1204.6,785.3C1205.6,783.8 1205.9,781.7 1206.6,780.2C1207.3,778.7 1209.0,777.0 1208.6,776.2C1208.2,775.4 1203.1,775.7 1204.0,775.4C1204.9,775.1 1210.7,774.4 1214.0,774.6C1217.3,774.8 1220.7,775.4 1224.0,776.6C1227.3,777.8 1231.3,780.3 1234.0,782.0C1236.7,783.7 1237.7,785.4 1240.0,787.0C1242.3,788.6 1245.0,790.1 1248.0,791.4C1251.0,792.7 1254.7,794.0 1258.0,795.0C1261.3,796.0 1264.7,796.6 1268.0,797.4C1271.3,798.2 1275.3,798.7 1278.0,800.0C1280.7,801.3 1281.5,803.2 1284.2,805.1C1286.9,807.0 1290.9,809.2 1294.3,811.1C1297.6,813.0 1301.3,814.9 1304.3,816.6C1307.3,818.4 1309.7,820.1 1312.3,821.7C1315.0,823.3 1318.4,824.8 1320.4,826.2C1322.4,827.6 1323.4,828.5 1324.4,830.2C1325.4,831.9 1326.0,833.9 1326.4,836.2C1326.8,838.6 1326.9,841.6 1326.9,844.3C1326.9,846.9 1327.0,849.8 1326.4,852.3C1325.8,854.8 1324.4,857.1 1323.4,859.3C1322.4,861.5 1320.0,863.8 1320.4,865.3C1320.7,866.8 1322.9,867.8 1325.4,868.4C1327.9,868.9 1332.1,868.7 1335.4,868.9C1338.8,869.0 1342.1,868.8 1345.5,869.4C1348.8,869.9 1352.5,871.2 1355.5,872.4C1358.5,873.5 1360.9,875.3 1363.6,876.4C1366.2,877.5 1368.6,878.4 1371.6,878.9C1374.6,879.4 1378.5,879.3 1381.6,879.4C1384.7,879.5 1387.0,879.9 1390.1,879.4C1393.1,878.9 1396.3,877.7 1400.0,876.6C1403.7,875.5 1407.3,874.3 1412.0,873.0C1416.7,871.7 1422.7,870.2 1428.0,869.0C1433.3,867.8 1439.3,866.9 1444.0,866.0C1448.7,865.1 1452.0,864.4 1456.0,863.6C1460.0,862.8 1464.0,861.9 1468.0,861.0C1472.0,860.1 1476.0,859.2 1480.0,858.0C1484.0,856.8 1489.2,855.8 1492.0,854.0C1494.8,852.2 1495.8,849.8 1497.0,847.0C1498.2,844.2 1498.0,840.7 1499.0,837.0C1500.0,833.3 1501.8,828.7 1503.0,825.0C1504.2,821.3 1505.8,818.3 1506.0,815.0C1506.2,811.7 1504.6,808.3 1504.0,805.0C1503.4,801.7 1502.4,797.8 1502.4,795.0C1502.4,792.2 1502.8,789.7 1504.1,788.0C1505.4,786.3 1507.9,786.0 1510.1,785.0C1512.3,784.0 1514.8,782.7 1517.1,782.0C1519.5,781.2 1521.7,780.9 1524.2,780.5C1526.7,780.0 1529.5,779.7 1532.2,779.5C1534.9,779.2 1537.6,779.0 1540.2,779.0C1542.9,779.0 1545.4,779.4 1548.3,779.5C1551.1,779.5 1554.5,779.7 1557.3,779.5C1560.2,779.2 1562.8,778.7 1565.3,778.0C1567.9,777.2 1570.2,776.2 1572.4,774.9C1574.5,773.7 1576.9,772.0 1578.4,770.4C1579.9,768.8 1580.4,767.2 1581.4,765.4C1582.4,763.6 1583.2,761.2 1584.4,759.4C1585.6,757.5 1587.1,756.0 1588.4,754.4C1589.8,752.7 1590.9,751.0 1592.4,749.3C1594.0,747.7 1596.0,746.1 1597.5,744.3C1599.0,742.6 1600.6,740.6 1601.5,738.8C1602.3,737.0 1602.7,734.9 1602.5,733.3C1602.3,731.6 1601.7,730.0 1600.5,728.8C1599.3,727.5 1597.5,726.7 1595.5,725.7C1593.5,724.8 1590.9,723.9 1588.4,723.2C1585.9,722.6 1583.1,722.1 1580.4,721.7C1577.7,721.3 1574.5,721.1 1572.4,720.7C1570.2,720.3 1567.9,720.1 1567.3,719.2C1566.8,718.3 1568.3,716.9 1568.9,715.2C1569.4,713.5 1569.9,711.0 1570.9,709.2C1571.8,707.3 1573.0,705.6 1574.4,704.2C1575.8,702.7 1577.4,701.7 1579.4,700.6C1581.4,699.6 1583.9,698.6 1586.4,697.6C1588.9,696.7 1591.6,696.0 1594.5,695.1C1597.3,694.2 1600.8,693.1 1603.5,692.1C1606.2,691.1 1607.8,690.3 1610.5,689.1C1613.2,687.9 1614.5,686.0 1619.6,685.1C1624.6,684.2 1634.7,640.3 1640.6,683.6C1646.5,726.9 1780.6,901.4 1655.0,945.0C1529.4,988.6 1015.0,956.8 887.0,945.0C759.0,933.2 884.7,886.2 887.0,874.4Z" fill="#96d2fa"/>
<path d="M1570.4,671.0C1572.0,673.1 1577.1,672.8 1580.4,673.5C1583.7,674.3 1587.1,674.8 1590.4,675.5C1593.8,676.3 1597.1,677.3 1600.5,678.1C1603.8,678.8 1607.3,679.6 1610.5,680.1C1613.7,680.6 1614.5,680.8 1619.6,681.1C1624.6,681.3 1637.1,684.9 1640.6,681.6C1644.2,678.2 1652.4,664.4 1640.6,661.0C1628.9,657.6 1582.1,659.3 1570.4,661.0C1558.6,662.7 1568.7,668.9 1570.4,671.0Z" fill="#96d2fa"/>
<path d="M1180.0,748.0C1180.0,746.0 1183.8,743.7 1186.0,743.0C1188.2,742.3 1191.2,742.8 1193.0,744.0C1194.8,745.2 1197.0,748.2 1197.0,750.0C1197.0,751.8 1194.8,754.2 1193.0,755.0C1191.2,755.8 1188.2,756.2 1186.0,755.0C1183.8,753.8 1180.0,750.0 1180.0,748.0Z" fill="#96d2fa"/>
<path d="M1185.0,748.0C1185.0,746.7 1187.7,744.8 1189.0,745.0C1190.3,745.2 1193.0,747.7 1193.0,749.0C1193.0,750.3 1190.3,752.8 1189.0,752.6C1187.7,752.4 1185.0,749.3 1185.0,748.0Z" fill="#e1ffff"/>
<path d="M1198.0,759.0C1198.0,757.7 1201.3,755.0 1203.0,755.0C1204.7,755.0 1208.0,757.7 1208.0,759.0C1208.0,760.3 1204.7,763.0 1203.0,763.0C1201.3,763.0 1198.0,760.3 1198.0,759.0Z" fill="#96d2fa"/>
<path d="M887.0,671.0C889.3,667.0 897.7,670.8 901.0,671.0C904.3,671.2 904.8,670.5 907.0,672.0C909.2,673.5 913.8,677.3 914.0,680.0C914.2,682.7 910.2,685.5 908.0,688.0C905.8,690.5 904.5,694.0 901.0,695.2C897.5,696.4 889.3,699.2 887.0,695.2C884.7,691.2 884.7,675.0 887.0,671.0Z" fill="#e1ffff"/>
<path d="M887.0,719.8C889.3,707.1 897.2,719.8 901.0,719.8C904.8,719.8 907.2,718.9 910.0,719.8C912.8,720.7 915.6,723.3 918.0,725.2C920.4,727.1 922.3,729.0 924.2,731.2C926.1,733.4 927.7,735.8 929.2,738.2C930.7,740.6 932.4,743.5 933.2,745.4C934.0,747.3 935.5,748.6 934.2,749.4C932.9,750.2 928.1,750.2 925.2,750.4C922.3,750.6 918.7,749.5 917.0,750.8C915.3,752.1 915.8,756.3 915.0,758.4C914.2,760.5 913.2,761.9 912.0,763.4C910.8,764.9 908.5,766.0 908.0,767.4C907.5,768.8 906.1,771.1 909.0,772.0C911.9,772.9 920.8,772.7 925.2,773.0C929.6,773.3 932.9,772.8 935.2,774.0C937.5,775.2 938.6,777.5 939.2,780.0C939.8,782.5 939.3,786.8 938.6,789.0C937.9,791.2 936.8,791.8 935.2,793.0C933.6,794.2 931.2,795.3 929.2,796.2C927.2,797.1 925.6,798.0 923.2,798.2C920.8,798.4 917.0,796.9 915.0,797.2C913.0,797.5 912.7,800.0 911.0,800.2C909.3,800.4 906.7,798.9 905.0,798.2C903.3,797.5 904.0,796.5 901.0,796.2C898.0,795.9 889.3,808.9 887.0,796.2C884.7,783.5 884.7,732.5 887.0,719.8Z" fill="#e1ffff"/>
<path d="M906.0,787.4C906.0,786.3 908.5,785.0 911.0,784.4C913.5,783.8 917.7,784.0 921.0,784.0C924.3,784.0 928.8,783.8 931.0,784.4C933.2,785.0 934.2,786.4 934.2,787.4C934.2,788.4 933.2,789.8 931.0,790.6C928.8,791.4 924.3,791.9 921.0,792.0C917.7,792.1 913.5,791.8 911.0,791.0C908.5,790.2 906.0,788.5 906.0,787.4Z" fill="#ffffff"/>
<path d="M1248.0,695.0C1249.3,693.5 1255.3,691.2 1260.0,690.0C1264.7,688.8 1270.7,688.2 1276.0,688.0C1281.3,687.8 1286.7,688.1 1292.0,688.6C1297.3,689.1 1303.0,689.9 1308.0,691.0C1313.0,692.1 1318.0,693.5 1322.0,695.0C1326.0,696.5 1329.3,698.3 1332.0,700.0C1334.7,701.7 1338.0,703.8 1338.0,705.0C1338.0,706.2 1335.0,707.0 1332.0,707.0C1329.0,707.0 1324.0,705.5 1320.0,705.0C1316.0,704.5 1312.0,704.0 1308.0,704.0C1304.0,704.0 1300.0,704.8 1296.0,705.0C1292.0,705.2 1288.0,705.2 1284.0,705.0C1280.0,704.8 1276.0,704.7 1272.0,704.0C1268.0,703.3 1263.3,701.8 1260.0,701.0C1256.7,700.2 1254.0,700.0 1252.0,699.0C1250.0,698.0 1246.7,696.5 1248.0,695.0Z" fill="#e1ffff"/>
<path d="M1317.0,759.0C1316.7,756.0 1318.5,753.3 1320.0,751.0C1321.5,748.7 1323.3,746.7 1326.0,745.0C1328.7,743.3 1332.3,742.2 1336.0,741.0C1339.7,739.8 1344.0,738.7 1348.0,738.0C1352.0,737.3 1356.0,737.0 1360.0,737.0C1364.0,737.0 1368.7,737.5 1372.0,738.0C1375.3,738.5 1377.0,739.2 1380.0,740.0C1383.0,740.8 1386.7,742.2 1390.0,743.0C1393.3,743.8 1396.7,744.3 1400.0,745.0C1403.3,745.7 1406.7,746.3 1410.0,747.0C1413.3,747.7 1417.0,747.8 1420.0,749.0C1423.0,750.2 1425.7,752.0 1428.0,754.0C1430.3,756.0 1432.8,758.7 1434.0,761.0C1435.2,763.3 1435.7,765.8 1435.0,768.0C1434.3,770.2 1432.5,772.3 1430.0,774.0C1427.5,775.7 1423.7,777.0 1420.0,778.0C1416.3,779.0 1412.0,779.5 1408.0,780.0C1404.0,780.5 1400.0,780.7 1396.0,781.0C1392.0,781.3 1388.0,781.5 1384.0,782.0C1380.0,782.5 1376.0,783.3 1372.0,784.0C1368.0,784.7 1363.7,786.0 1360.0,786.0C1356.3,786.0 1353.3,785.0 1350.0,784.0C1346.7,783.0 1343.3,781.5 1340.0,780.0C1336.7,778.5 1333.0,776.8 1330.0,775.0C1327.0,773.2 1324.2,771.7 1322.0,769.0C1319.8,766.3 1317.3,762.0 1317.0,759.0Z" fill="#e1ffff"/>
<path d="M1320.0,759.0C1319.7,756.8 1321.5,755.0 1323.0,753.0C1324.5,751.0 1326.5,748.6 1329.0,747.0C1331.5,745.4 1334.5,744.5 1338.0,743.4C1341.5,742.3 1346.0,741.3 1350.0,740.6C1354.0,739.9 1358.3,739.3 1362.0,739.4C1365.7,739.5 1368.3,740.4 1372.0,741.0C1375.7,741.6 1380.0,742.2 1384.0,743.0C1388.0,743.8 1392.0,745.0 1396.0,746.0C1400.0,747.0 1404.3,748.0 1408.0,749.0C1411.7,750.0 1415.0,750.7 1418.0,752.0C1421.0,753.3 1423.8,755.2 1426.0,757.0C1428.2,758.8 1430.2,761.2 1431.0,763.0C1431.8,764.8 1431.8,766.3 1431.0,768.0C1430.2,769.7 1428.5,771.7 1426.0,773.0C1423.5,774.3 1419.7,775.3 1416.0,776.0C1412.3,776.7 1408.0,777.0 1404.0,777.4C1400.0,777.8 1396.0,778.2 1392.0,778.6C1388.0,779.0 1383.7,779.4 1380.0,780.0C1376.3,780.6 1373.3,781.5 1370.0,782.0C1366.7,782.5 1363.3,783.2 1360.0,783.0C1356.7,782.8 1353.2,782.0 1350.0,781.0C1346.8,780.0 1344.0,778.5 1341.0,777.0C1338.0,775.5 1334.7,773.8 1332.0,772.0C1329.3,770.2 1327.0,768.2 1325.0,766.0C1323.0,763.8 1320.3,761.2 1320.0,759.0Z" fill="#ffffff"/>
<path d="M1345.0,759.0C1345.5,757.5 1347.5,756.0 1350.0,755.0C1352.5,754.0 1356.7,753.2 1360.0,753.0C1363.3,752.8 1366.7,753.2 1370.0,754.0C1373.3,754.8 1378.0,756.5 1380.0,758.0C1382.0,759.5 1382.7,761.3 1382.0,763.0C1381.3,764.7 1378.3,766.7 1376.0,768.0C1373.7,769.3 1370.7,770.3 1368.0,771.0C1365.3,771.7 1362.7,772.3 1360.0,772.0C1357.3,771.7 1354.2,770.3 1352.0,769.0C1349.8,767.7 1348.2,765.7 1347.0,764.0C1345.8,762.3 1344.5,760.5 1345.0,759.0Z" fill="#fffaaa"/>
<path d="M887.0,883.4C889.3,873.1 897.5,882.9 901.0,883.4C904.5,883.9 905.3,885.4 908.0,886.4C910.7,887.4 913.8,888.8 917.0,889.4C920.2,890.0 923.8,890.1 927.2,890.0C930.6,889.9 933.5,889.6 937.2,889.0C940.9,888.4 945.5,887.2 949.2,886.4C952.9,885.6 955.9,885.2 959.2,884.4C962.5,883.6 965.8,882.3 969.2,881.4C972.6,880.5 976.0,879.8 979.4,879.0C982.8,878.2 986.1,877.2 989.4,876.4C992.7,875.6 996.4,875.1 999.4,874.4C1002.4,873.7 1004.7,873.1 1007.4,872.4C1010.1,871.7 1012.7,870.9 1015.4,870.4C1018.1,869.9 1020.9,869.4 1023.6,869.4C1026.3,869.4 1028.9,869.9 1031.6,870.4C1034.3,870.9 1036.9,871.7 1039.6,872.4C1042.3,873.1 1044.9,874.1 1047.6,874.4C1050.3,874.7 1053.5,874.5 1055.6,874.4C1057.7,874.3 1057.4,874.6 1060.0,874.0C1062.6,873.4 1067.2,872.3 1071.0,871.0C1074.8,869.7 1079.0,867.7 1083.0,866.0C1087.0,864.3 1091.3,862.8 1095.0,861.0C1098.7,859.2 1102.0,857.2 1105.0,855.0C1108.0,852.8 1110.7,850.3 1113.0,848.0C1115.3,845.7 1117.2,843.2 1119.0,841.0C1120.8,838.8 1122.7,837.2 1124.0,835.0C1125.3,832.8 1126.5,829.8 1127.0,828.0C1127.5,826.2 1127.7,826.0 1127.3,824.4C1126.8,822.8 1125.3,820.4 1124.3,818.4C1123.3,816.4 1122.2,814.5 1121.2,812.4C1120.2,810.2 1119.1,807.7 1118.2,805.3C1117.4,803.0 1116.7,800.8 1116.2,798.3C1115.7,795.8 1115.5,793.3 1115.2,790.3C1115.0,787.3 1115.1,783.3 1114.7,780.2C1114.4,777.2 1113.8,774.7 1113.2,772.2C1112.6,769.7 1111.4,767.5 1111.2,765.2C1111.0,762.8 1112.4,760.5 1112.2,758.2C1112.0,755.8 1111.5,753.0 1110.2,751.1C1108.9,749.3 1104.2,748.3 1104.2,747.1C1104.2,745.9 1107.9,744.4 1110.2,744.1C1112.5,743.8 1116.6,745.8 1118.2,745.1C1119.9,744.4 1119.2,741.6 1120.2,740.1C1121.2,738.6 1122.6,736.9 1124.3,736.1C1125.9,735.2 1128.6,734.7 1130.3,735.1C1132.0,735.4 1133.3,736.6 1134.3,738.1C1135.3,739.6 1135.5,742.1 1136.3,744.1C1137.1,746.1 1138.3,748.1 1139.3,750.1C1140.3,752.1 1141.2,754.5 1142.3,756.1C1143.5,757.8 1145.0,758.8 1146.3,760.2C1147.7,761.5 1149.0,762.8 1150.4,764.2C1151.7,765.5 1153.4,767.2 1154.4,768.2C1155.4,769.2 1155.4,768.5 1156.4,770.2C1157.4,771.9 1159.4,775.6 1160.4,778.2C1161.4,780.9 1161.9,783.6 1162.4,786.3C1162.9,788.9 1163.6,791.8 1163.4,794.3C1163.2,796.8 1162.4,799.1 1161.4,801.3C1160.4,803.5 1158.7,805.7 1157.4,807.3C1156.1,809.0 1154.5,809.9 1153.4,811.4C1152.2,812.9 1150.5,814.5 1150.4,816.4C1150.2,818.2 1151.0,821.2 1152.4,822.4C1153.7,823.6 1156.4,823.5 1158.4,823.4C1160.4,823.3 1162.4,822.9 1164.4,821.9C1166.4,820.9 1168.4,819.3 1170.4,817.4C1172.4,815.5 1174.5,812.7 1176.5,810.4C1178.5,808.0 1180.3,805.4 1182.5,803.3C1184.7,801.2 1187.3,799.4 1189.5,797.8C1191.7,796.2 1193.4,795.1 1195.5,793.8C1197.7,792.5 1200.1,791.2 1202.6,790.3C1205.1,789.4 1207.9,788.8 1210.6,788.3C1213.3,787.8 1216.2,787.5 1218.6,787.3C1221.0,787.0 1224.0,786.8 1225.1,786.8C1226.1,786.7 1222.5,786.4 1225.0,786.8C1227.5,787.2 1235.8,788.2 1240.0,789.4C1244.2,790.6 1246.7,792.2 1250.0,794.0C1253.3,795.8 1256.3,798.3 1260.0,800.0C1263.7,801.7 1268.0,803.1 1272.0,804.0C1276.0,804.9 1282.3,804.9 1284.0,805.4C1285.7,805.9 1280.9,805.8 1282.2,807.1C1283.6,808.4 1288.9,811.2 1292.3,813.1C1295.6,815.1 1299.3,817.0 1302.3,818.7C1305.3,820.3 1307.8,821.8 1310.3,823.2C1312.9,824.6 1315.4,825.9 1317.4,827.2C1319.3,828.5 1320.8,829.5 1321.9,831.2C1323.0,832.9 1323.5,834.9 1323.9,837.2C1324.3,839.6 1324.6,842.6 1324.4,845.3C1324.2,847.9 1323.7,850.8 1322.9,853.3C1322.1,855.8 1320.6,858.0 1319.4,860.3C1318.1,862.7 1316.5,865.3 1315.4,867.3C1314.2,869.4 1313.5,870.9 1312.3,872.4C1311.2,873.9 1309.7,874.9 1308.3,876.4C1307.0,877.9 1305.8,880.2 1304.3,881.4C1302.8,882.7 1301.1,883.7 1299.3,883.9C1297.5,884.2 1294.9,882.7 1293.3,882.9C1291.6,883.2 1289.3,884.4 1289.3,885.4C1289.3,886.4 1290.9,888.8 1293.3,888.9C1295.6,889.1 1300.0,887.2 1303.3,886.4C1306.7,885.7 1310.0,885.3 1313.4,884.4C1316.7,883.6 1320.0,882.2 1323.4,881.4C1326.7,880.6 1330.1,879.6 1333.4,879.4C1336.8,879.2 1340.1,879.9 1343.5,880.4C1346.8,880.9 1350.2,881.7 1353.5,882.4C1356.9,883.1 1360.2,883.9 1363.6,884.4C1366.9,884.9 1370.2,885.3 1373.6,885.4C1376.9,885.5 1380.9,885.1 1383.6,884.9C1386.4,884.8 1387.3,884.9 1390.1,884.4C1392.8,883.9 1396.3,882.9 1400.0,882.0C1403.7,881.1 1407.3,880.2 1412.0,879.0C1416.7,877.8 1422.7,876.2 1428.0,875.0C1433.3,873.8 1439.3,872.9 1444.0,872.0C1448.7,871.1 1452.0,870.3 1456.0,869.4C1460.0,868.5 1464.0,867.7 1468.0,866.6C1472.0,865.5 1475.7,864.5 1480.0,863.0C1484.3,861.5 1490.5,859.7 1494.0,857.4C1497.5,855.1 1499.5,852.2 1501.0,849.0C1502.5,845.8 1502.0,841.8 1503.0,838.0C1504.0,834.2 1505.8,829.8 1507.0,826.0C1508.2,822.2 1509.8,818.5 1510.0,815.0C1510.2,811.5 1508.6,808.2 1508.0,805.0C1507.4,801.8 1506.6,798.7 1506.4,796.0C1506.2,793.3 1505.7,790.7 1506.6,789.0C1507.6,787.3 1510.2,786.9 1512.1,786.0C1514.1,785.0 1516.0,784.0 1518.2,783.3C1520.3,782.6 1522.8,782.1 1525.2,781.7C1527.5,781.2 1529.7,780.9 1532.2,780.7C1534.7,780.4 1537.6,780.3 1540.2,780.3C1542.9,780.3 1545.4,780.6 1548.3,780.7C1551.1,780.7 1554.3,780.9 1557.3,780.7C1560.3,780.4 1563.5,780.0 1566.3,779.3C1569.2,778.5 1572.0,777.2 1574.4,775.9C1576.7,774.6 1578.9,773.0 1580.4,771.4C1581.9,769.8 1582.4,768.2 1583.4,766.4C1584.4,764.6 1585.3,762.2 1586.4,760.4C1587.6,758.5 1589.1,757.0 1590.4,755.4C1591.8,753.7 1593.0,752.0 1594.5,750.3C1596.0,748.7 1598.0,747.2 1599.5,745.3C1601.0,743.4 1602.7,741.0 1603.5,738.8C1604.3,736.6 1604.7,734.1 1604.5,732.3C1604.2,730.4 1603.3,729.0 1602.0,727.8C1600.6,726.5 1598.6,725.7 1596.5,724.7C1594.4,723.8 1591.9,722.9 1589.4,722.2C1586.9,721.6 1583.9,721.1 1581.4,720.7C1578.9,720.4 1576.3,720.4 1574.4,720.2C1572.5,720.1 1570.5,720.4 1569.9,719.7C1569.2,719.0 1569.9,717.7 1570.4,716.2C1570.9,714.7 1571.9,712.4 1572.9,710.7C1573.9,708.9 1575.0,707.1 1576.4,705.7C1577.8,704.2 1579.4,703.2 1581.4,702.1C1583.4,701.1 1585.9,700.1 1588.4,699.1C1590.9,698.2 1593.6,697.5 1596.5,696.6C1599.3,695.7 1602.8,694.5 1605.5,693.6C1608.2,692.7 1610.2,691.9 1612.5,691.1C1614.9,690.4 1614.9,689.7 1619.6,689.1C1624.2,688.5 1634.7,644.9 1640.6,687.6C1646.5,730.2 1780.6,902.1 1655.0,945.0C1529.4,987.9 1015.0,955.3 887.0,945.0C759.0,934.7 884.7,893.7 887.0,883.4Z" fill="#e1ffff"/>
<path d="M1580.4,671.0C1582.1,673.0 1587.1,672.4 1590.4,673.0C1593.8,673.7 1597.1,674.4 1600.5,675.0C1603.8,675.7 1607.3,676.5 1610.5,677.0C1613.7,677.6 1614.5,678.1 1619.6,678.6C1624.6,679.0 1637.1,682.5 1640.6,679.6C1644.2,676.6 1650.7,664.1 1640.6,661.0C1630.6,657.9 1590.4,659.3 1580.4,661.0C1570.4,662.7 1578.7,669.0 1580.4,671.0Z" fill="#e1ffff"/>
<path d="M1145.3,747.6L1156.4,747.1L1156.9,750.1L1145.8,750.1Z" fill="#e1ffff"/>
<path d="M951.2,945.0C896.7,939.6 949.9,906.4 951.2,898.0C952.5,889.6 956.2,895.5 959.2,894.4C962.2,893.3 965.8,892.4 969.2,891.4C972.6,890.4 976.0,889.2 979.4,888.4C982.8,887.6 986.1,887.0 989.4,886.4C992.7,885.8 995.9,885.4 999.4,885.0C1002.9,884.6 1006.9,884.2 1010.4,884.0C1013.9,883.8 1017.2,883.9 1020.6,884.0C1024.0,884.1 1028.1,883.7 1030.6,884.4C1033.1,885.1 1034.1,887.1 1035.6,888.4C1037.1,889.7 1037.9,891.1 1039.6,892.4C1041.3,893.7 1043.6,895.5 1045.6,896.4C1047.6,897.3 1049.0,898.2 1051.6,898.0C1054.2,897.8 1057.8,896.5 1061.0,895.0C1064.2,893.5 1067.7,891.3 1071.0,889.0C1074.3,886.7 1077.7,883.7 1081.0,881.0C1084.3,878.3 1087.7,875.7 1091.0,873.0C1094.3,870.3 1097.7,867.7 1101.0,865.0C1104.3,862.3 1108.0,859.7 1111.0,857.0C1114.0,854.3 1116.7,851.7 1119.0,849.0C1121.3,846.3 1123.3,843.3 1125.0,841.0C1126.7,838.7 1128.0,837.0 1129.0,835.0C1130.0,833.0 1130.8,830.4 1131.0,829.0C1131.2,827.6 1130.7,827.9 1130.3,826.4C1129.8,825.0 1129.1,822.4 1128.3,820.4C1127.4,818.4 1126.3,816.6 1125.3,814.4C1124.3,812.2 1123.1,809.7 1122.2,807.3C1121.4,805.0 1120.7,802.8 1120.2,800.3C1119.7,797.8 1119.6,795.0 1119.2,792.3C1118.9,789.6 1118.6,786.9 1118.2,784.3C1117.9,781.6 1117.6,778.9 1117.2,776.2C1116.9,773.5 1116.2,770.9 1116.2,768.2C1116.2,765.5 1116.6,762.4 1117.2,760.2C1117.9,757.9 1118.7,755.9 1120.2,754.6C1121.7,753.4 1124.3,752.8 1126.3,752.6C1128.3,752.5 1130.4,752.7 1132.3,753.6C1134.1,754.6 1135.5,756.6 1137.3,758.2C1139.1,759.7 1141.5,761.7 1143.3,763.2C1145.2,764.7 1146.7,765.9 1148.4,767.2C1150.0,768.5 1152.0,769.7 1153.4,771.2C1154.7,772.7 1155.5,774.4 1156.4,776.2C1157.3,778.1 1158.1,779.9 1158.9,782.2C1159.6,784.6 1160.5,787.8 1160.9,790.3C1161.3,792.8 1161.7,795.0 1161.4,797.3C1161.2,799.7 1160.4,802.3 1159.4,804.3C1158.4,806.3 1156.7,807.9 1155.4,809.4C1154.0,810.9 1152.5,811.9 1151.4,813.4C1150.2,814.9 1148.5,816.6 1148.4,818.4C1148.2,820.2 1149.0,823.2 1150.4,824.4C1151.7,825.6 1154.4,825.6 1156.4,825.4C1158.4,825.3 1160.2,824.4 1162.4,823.4C1164.6,822.4 1167.3,821.2 1169.4,819.4C1171.6,817.6 1173.5,814.7 1175.5,812.4C1177.5,810.0 1179.3,807.5 1181.5,805.3C1183.7,803.2 1186.2,801.0 1188.5,799.3C1190.9,797.6 1193.2,796.5 1195.5,795.3C1197.9,794.1 1200.1,793.1 1202.6,792.3C1205.1,791.5 1207.9,790.8 1210.6,790.3C1213.3,789.8 1216.2,789.4 1218.6,789.3C1221.0,789.1 1224.0,789.2 1225.1,789.3C1226.1,789.4 1222.5,789.3 1225.0,789.8C1227.5,790.3 1235.8,791.0 1240.0,792.0C1244.2,793.0 1246.7,794.3 1250.0,796.0C1253.3,797.7 1256.3,800.3 1260.0,802.0C1263.7,803.7 1268.0,805.1 1272.0,806.0C1276.0,806.9 1280.3,806.5 1284.0,807.4C1287.7,808.3 1291.3,809.2 1294.0,811.4C1296.7,813.6 1297.9,818.4 1300.3,820.7C1302.7,823.0 1305.9,823.8 1308.3,825.2C1310.8,826.6 1313.0,827.9 1314.9,829.2C1316.7,830.5 1318.4,831.5 1319.4,833.2C1320.4,834.9 1320.5,837.1 1320.9,839.2C1321.2,841.4 1321.6,843.9 1321.4,846.3C1321.2,848.6 1320.7,851.0 1319.9,853.3C1319.0,855.6 1317.6,858.1 1316.4,860.3C1315.1,862.5 1313.7,864.7 1312.3,866.3C1311.0,868.0 1309.8,869.2 1308.3,870.4C1306.8,871.5 1305.2,872.5 1303.3,873.4C1301.5,874.2 1299.3,875.1 1297.3,875.4C1295.3,875.6 1293.3,875.5 1291.3,874.9C1289.3,874.2 1287.2,872.8 1285.2,871.4C1283.2,869.9 1281.1,868.2 1279.2,866.3C1277.4,864.5 1274.9,862.3 1274.2,860.3C1273.5,858.3 1274.4,856.0 1275.2,854.3C1276.0,852.6 1277.9,851.8 1279.2,850.3C1280.6,848.8 1282.2,847.3 1283.2,845.3C1284.2,843.3 1285.4,840.6 1285.2,838.2C1285.1,835.9 1283.6,833.5 1282.2,831.2C1280.9,828.9 1279.0,826.4 1277.2,824.2C1275.4,822.0 1273.2,820.0 1271.2,818.2C1269.2,816.3 1267.3,814.3 1265.2,813.1C1263.0,812.0 1260.5,811.0 1258.1,811.1C1255.8,811.3 1252.9,813.0 1251.1,814.1C1249.3,815.3 1247.3,816.5 1247.1,818.2C1246.9,819.8 1249.4,821.8 1250.1,824.2C1250.8,826.5 1251.1,829.5 1251.1,832.2C1251.1,834.9 1250.4,837.9 1250.1,840.2C1249.8,842.6 1248.8,843.6 1249.1,846.3C1249.4,848.9 1251.6,853.1 1252.1,856.3C1252.6,859.5 1251.4,862.3 1252.1,865.3C1252.8,868.4 1255.0,871.2 1256.1,874.4C1257.3,877.6 1257.6,881.7 1259.1,884.4C1260.6,887.1 1263.3,888.4 1265.2,890.4C1267.0,892.4 1268.5,894.3 1270.2,896.5C1271.9,898.6 1273.9,897.8 1275.2,903.5C1276.5,909.2 1332.2,923.7 1278.2,930.6C1224.2,937.5 1005.7,950.4 951.2,945.0Z" fill="#ffffff"/>
<path d="M1354.0,945.0C1303.0,937.2 1353.0,906.7 1354.0,898.0C1355.0,889.3 1357.0,893.8 1360.0,892.6C1363.0,891.4 1367.0,891.3 1372.0,890.6C1377.0,889.9 1383.7,889.3 1390.0,888.6C1396.3,887.9 1403.3,887.4 1410.0,886.6C1416.7,885.8 1423.3,884.9 1430.0,884.0C1436.7,883.1 1443.3,882.3 1450.0,881.0C1456.7,879.7 1463.3,878.0 1470.0,876.0C1476.7,874.0 1484.3,871.5 1490.0,869.0C1495.7,866.5 1500.7,864.0 1504.0,861.0C1507.3,858.0 1508.7,854.7 1510.0,851.0C1511.3,847.3 1511.2,843.3 1512.0,839.0C1512.8,834.7 1514.2,829.3 1515.0,825.0C1515.8,820.7 1517.0,816.7 1517.0,813.0C1517.0,809.3 1516.0,806.0 1515.0,803.0C1514.0,800.0 1512.1,797.2 1511.0,795.0C1509.9,792.8 1508.2,791.3 1508.6,790.0C1509.1,788.7 1511.9,787.9 1513.6,787.0C1515.4,786.1 1517.1,785.1 1519.2,784.5C1521.2,783.8 1523.5,783.4 1525.7,783.0C1527.9,782.6 1529.8,782.2 1532.2,782.0C1534.6,781.7 1537.6,781.5 1540.2,781.5C1542.9,781.5 1545.4,781.9 1548.3,782.0C1551.1,782.1 1554.1,782.2 1557.3,782.0C1560.5,781.7 1564.2,781.3 1567.3,780.5C1570.5,779.6 1573.9,778.3 1576.4,776.9C1578.9,775.6 1580.9,774.0 1582.4,772.4C1583.9,770.8 1584.4,769.3 1585.4,767.4C1586.4,765.6 1587.3,763.2 1588.4,761.4C1589.6,759.5 1591.1,758.0 1592.4,756.4C1593.8,754.7 1595.0,753.1 1596.5,751.3C1598.0,749.6 1600.0,747.9 1601.5,745.8C1603.0,743.7 1604.7,741.1 1605.5,738.8C1606.3,736.5 1606.8,733.8 1606.5,731.8C1606.2,729.8 1605.0,728.1 1603.5,726.7C1602.0,725.4 1599.6,724.7 1597.5,723.7C1595.3,722.8 1592.8,721.8 1590.4,721.2C1588.1,720.6 1585.8,720.4 1583.4,720.0C1581.1,719.7 1578.1,719.7 1576.4,719.2C1574.7,718.7 1573.5,718.4 1573.4,717.2C1573.2,716.0 1574.5,713.8 1575.4,712.2C1576.2,710.6 1577.1,709.0 1578.4,707.7C1579.7,706.3 1581.4,705.2 1583.4,704.2C1585.4,703.1 1587.9,702.1 1590.4,701.1C1593.0,700.2 1595.8,699.5 1598.5,698.6C1601.2,697.8 1604.0,696.9 1606.5,696.1C1609.0,695.4 1611.4,694.7 1613.5,694.1C1615.7,693.5 1615.0,693.1 1619.6,692.6C1624.1,692.1 1633.9,649.0 1640.6,691.1C1647.4,733.2 1707.8,902.7 1660.0,945.0C1612.2,987.3 1405.0,952.8 1354.0,945.0Z" fill="#ffffff"/>
<path d="M1595.5,671.0C1597.1,673.0 1602.3,672.4 1605.5,673.0C1608.7,673.6 1612.2,674.1 1614.5,674.5C1616.9,675.0 1615.2,675.3 1619.6,675.5C1623.9,675.8 1637.1,678.5 1640.6,676.0C1644.2,673.6 1648.2,663.5 1640.6,661.0C1633.1,658.5 1603.0,659.3 1595.5,661.0C1587.9,662.7 1593.8,669.0 1595.5,671.0Z" fill="#ffffff"/>
<path d="M1258.1,811.1C1260.5,811.0 1263.0,812.0 1265.2,813.1C1267.3,814.3 1269.2,816.3 1271.2,818.2C1273.2,820.0 1275.4,822.0 1277.2,824.2C1279.0,826.4 1280.9,828.9 1282.2,831.2C1283.6,833.5 1285.1,835.9 1285.2,838.2C1285.4,840.6 1284.2,843.3 1283.2,845.3C1282.2,847.3 1280.6,848.8 1279.2,850.3C1277.9,851.8 1276.0,852.6 1275.2,854.3C1274.4,856.0 1273.9,858.3 1274.2,860.3C1274.5,862.3 1277.4,864.7 1277.2,866.3C1277.0,868.0 1274.9,870.0 1273.2,870.4C1271.5,870.7 1268.8,870.0 1267.2,868.4C1265.5,866.7 1264.7,863.3 1263.2,860.3C1261.6,857.3 1259.6,852.1 1258.1,850.3C1256.6,848.4 1255.6,849.9 1254.1,849.3C1252.6,848.6 1249.8,847.8 1249.1,846.3C1248.4,844.8 1249.8,842.6 1250.1,840.2C1250.4,837.9 1251.1,834.9 1251.1,832.2C1251.1,829.5 1250.8,826.5 1250.1,824.2C1249.4,821.8 1246.9,819.8 1247.1,818.2C1247.3,816.5 1249.3,815.3 1251.1,814.1C1252.9,813.0 1255.8,811.3 1258.1,811.1Z" fill="#e1ffff"/>
<path d="M1252.1,817.1C1252.3,816.0 1257.0,814.6 1259.1,815.1C1261.3,815.6 1263.3,818.5 1265.2,820.2C1267.0,821.8 1268.2,823.8 1270.2,825.2C1272.2,826.5 1275.4,826.7 1277.2,828.2C1279.0,829.7 1280.1,832.4 1281.2,834.2C1282.4,836.1 1284.6,837.6 1284.2,839.2C1283.9,840.9 1280.7,843.6 1279.2,844.3C1277.7,844.9 1276.5,844.3 1275.2,843.3C1273.9,842.2 1272.9,839.2 1271.2,838.2C1269.5,837.2 1266.8,837.6 1265.2,837.2C1263.5,836.9 1261.6,837.7 1261.1,836.2C1260.6,834.7 1262.7,830.5 1262.1,828.2C1261.6,825.9 1259.8,824.0 1258.1,822.2C1256.5,820.3 1251.9,818.3 1252.1,817.1Z" fill="#96d2fa"/>
<path d="M1273.2,836.2C1273.4,835.5 1274.9,834.2 1275.7,834.2C1276.5,834.2 1278.0,835.4 1278.2,836.2C1278.4,837.1 1277.4,838.8 1276.7,839.2C1276.0,839.7 1274.8,839.2 1274.2,838.7C1273.6,838.2 1272.9,837.0 1273.2,836.2Z" fill="#2882f0"/>
<path d="M1264.2,856.3C1264.5,855.1 1267.0,853.8 1268.2,853.8C1269.3,853.8 1270.9,854.9 1271.2,856.3C1271.4,857.7 1270.2,860.8 1269.7,862.3C1269.2,863.8 1268.8,865.5 1268.2,865.3C1267.6,865.2 1266.8,862.8 1266.2,861.3C1265.5,859.8 1263.8,857.6 1264.2,856.3Z" fill="#96d2fa"/>
<path d="M1121.2,780.2C1121.6,777.6 1122.8,775.7 1124.3,774.2C1125.8,772.7 1127.9,771.8 1130.3,771.2C1132.6,770.6 1135.8,770.4 1138.3,770.7C1140.8,771.0 1143.3,772.0 1145.3,773.2C1147.3,774.5 1148.9,776.2 1150.4,778.2C1151.8,780.2 1153.1,782.9 1153.9,785.3C1154.6,787.6 1155.1,789.8 1154.9,792.3C1154.6,794.8 1153.6,797.8 1152.4,800.3C1151.1,802.8 1149.4,805.3 1147.3,807.3C1145.3,809.4 1142.8,811.4 1140.3,812.4C1137.8,813.4 1134.5,813.9 1132.3,813.4C1130.1,812.9 1128.6,811.5 1127.3,809.4C1125.9,807.2 1125.1,803.5 1124.3,800.3C1123.4,797.1 1122.8,793.6 1122.2,790.3C1121.7,786.9 1120.9,782.9 1121.2,780.2Z" fill="#fffaaa"/>
<path d="M1123.0,781.2C1123.3,778.8 1124.3,777.2 1125.7,775.8C1127.0,774.5 1129.0,773.6 1131.1,773.1C1133.2,772.6 1136.1,772.4 1138.3,772.7C1140.6,773.0 1142.8,773.8 1144.6,774.9C1146.4,776.0 1147.9,777.6 1149.2,779.4C1150.4,781.2 1151.6,783.7 1152.3,785.8C1153.0,787.9 1153.4,789.8 1153.2,792.1C1153.0,794.3 1152.1,797.1 1151.0,799.3C1149.8,801.6 1148.3,803.8 1146.4,805.6C1144.6,807.4 1142.4,809.3 1140.1,810.2C1137.9,811.1 1134.8,811.5 1132.9,811.1C1130.9,810.6 1129.6,809.4 1128.4,807.4C1127.2,805.5 1126.4,802.2 1125.7,799.3C1124.9,796.5 1124.3,793.3 1123.9,790.3C1123.4,787.3 1122.7,783.7 1123.0,781.2Z" fill="#ffc03c"/>
<path d="M1124.7,782.2C1124.9,780.1 1125.9,778.6 1127.1,777.4C1128.3,776.2 1130.0,775.5 1131.9,775.0C1133.8,774.6 1136.3,774.4 1138.3,774.6C1140.3,774.9 1142.3,775.6 1143.9,776.6C1145.5,777.6 1146.8,779.0 1148.0,780.6C1149.1,782.2 1150.2,784.4 1150.8,786.3C1151.4,788.1 1151.8,789.9 1151.6,791.9C1151.4,793.9 1150.6,796.3 1149.6,798.3C1148.6,800.3 1147.1,802.3 1145.5,803.9C1143.9,805.5 1141.9,807.1 1139.9,808.0C1137.9,808.8 1135.2,809.2 1133.5,808.8C1131.8,808.4 1130.5,807.3 1129.5,805.5C1128.4,803.8 1127.7,800.9 1127.1,798.3C1126.4,795.8 1125.9,793.0 1125.5,790.3C1125.1,787.6 1124.4,784.4 1124.7,782.2Z" fill="#ffa000"/>
<path d="M1127.0,783.3C1127.3,781.5 1128.0,780.3 1129.0,779.3C1130.0,778.3 1131.5,777.7 1133.0,777.3C1134.6,777.0 1136.7,776.8 1138.3,777.0C1140.0,777.2 1141.6,777.8 1143.0,778.7C1144.3,779.5 1145.3,780.7 1146.3,782.0C1147.2,783.3 1148.1,785.1 1148.6,786.6C1149.1,788.2 1149.4,789.6 1149.2,791.3C1149.1,792.9 1148.4,794.9 1147.6,796.6C1146.8,798.2 1145.6,799.9 1144.3,801.2C1143.0,802.5 1141.3,803.9 1139.6,804.5C1138.0,805.2 1135.8,805.5 1134.3,805.2C1132.9,804.8 1131.9,804.0 1131.0,802.5C1130.1,801.1 1129.6,798.7 1129.0,796.6C1128.5,794.5 1128.0,792.1 1127.7,789.9C1127.4,787.7 1126.8,785.1 1127.0,783.3Z" fill="#ff6000"/>
<path d="M1129.4,784.1C1129.6,782.7 1130.2,781.7 1131.0,781.0C1131.8,780.2 1132.9,779.7 1134.1,779.4C1135.4,779.1 1137.0,779.0 1138.3,779.1C1139.6,779.3 1140.9,779.8 1142.0,780.4C1143.0,781.1 1143.8,782.0 1144.6,783.1C1145.3,784.1 1146.0,785.5 1146.4,786.7C1146.8,787.9 1147.1,789.1 1146.9,790.4C1146.8,791.7 1146.3,793.2 1145.6,794.5C1145.0,795.8 1144.1,797.1 1143.0,798.2C1142.0,799.2 1140.7,800.3 1139.4,800.8C1138.1,801.3 1136.3,801.6 1135.2,801.3C1134.0,801.1 1133.3,800.4 1132.6,799.2C1131.9,798.1 1131.4,796.2 1131.0,794.5C1130.6,792.9 1130.2,791.1 1130.0,789.3C1129.7,787.6 1129.3,785.5 1129.4,784.1Z" fill="#e11400"/>
<path d="M1131.8,787.3C1132.3,785.5 1135.4,781.9 1137.3,781.2C1139.2,780.6 1141.7,782.1 1143.3,783.3C1144.9,784.4 1146.8,786.8 1146.8,788.3C1146.8,789.8 1144.8,791.0 1143.3,792.3C1141.8,793.5 1139.3,795.9 1137.8,795.8C1136.3,795.7 1135.3,793.2 1134.3,791.8C1133.3,790.4 1131.3,789.0 1131.8,787.3Z" fill="#a50000"/>
<path d="M1129.5,856.8C1130.0,855.2 1133.3,853.2 1135.1,851.3C1136.8,849.4 1139.1,847.3 1140.1,845.3C1141.1,843.3 1140.6,840.9 1141.1,839.3C1141.6,837.6 1141.8,836.1 1143.1,835.2C1144.4,834.4 1147.3,834.2 1149.1,834.2C1151.0,834.2 1152.3,836.1 1154.1,835.2C1156.0,834.4 1158.2,831.2 1160.2,829.2C1162.2,827.2 1164.2,825.2 1166.2,823.2C1168.2,821.2 1170.2,819.2 1172.2,817.2C1174.2,815.2 1176.1,813.3 1178.2,811.1C1180.4,809.0 1182.9,806.4 1185.3,804.1C1187.6,801.9 1189.9,799.2 1192.3,797.6C1194.6,796.0 1196.3,795.2 1199.3,794.6C1202.3,794.0 1206.8,794.2 1210.4,794.1C1213.9,794.0 1217.1,794.0 1220.4,794.1C1223.7,794.2 1227.4,794.5 1230.4,794.6C1233.5,794.7 1236.3,794.2 1238.5,794.6C1240.6,794.9 1242.0,795.5 1243.5,796.6C1245.0,797.7 1246.2,799.3 1247.5,801.1C1248.8,802.9 1251.5,805.3 1251.5,807.1C1251.5,809.0 1249.0,810.5 1247.5,812.1C1246.0,813.8 1243.1,815.3 1242.5,817.2C1241.9,819.0 1243.7,821.2 1244.0,823.2C1244.3,825.2 1245.1,826.9 1244.5,829.2C1243.9,831.6 1241.8,834.7 1240.5,837.2C1239.1,839.8 1237.6,842.4 1236.5,844.3C1235.3,846.1 1233.3,847.1 1233.5,848.3C1233.6,849.5 1236.0,850.3 1237.5,851.3C1239.0,852.3 1241.5,853.3 1242.5,854.3C1243.5,855.3 1244.2,856.2 1243.5,857.3C1242.8,858.5 1240.0,860.8 1238.5,861.3C1237.0,861.9 1235.8,861.7 1234.5,860.8C1233.1,860.0 1231.6,857.4 1230.4,856.3C1229.3,855.2 1228.6,854.0 1227.4,854.3C1226.3,854.7 1224.8,856.8 1223.4,858.3C1222.1,859.8 1220.2,861.3 1219.4,863.4C1218.6,865.4 1218.9,868.0 1218.4,870.4C1217.9,872.7 1217.4,875.2 1216.4,877.4C1215.4,879.6 1214.0,881.4 1212.4,883.4C1210.7,885.4 1208.7,887.6 1206.3,889.5C1204.0,891.3 1201.0,893.5 1198.3,894.5C1195.6,895.5 1193.0,895.5 1190.3,895.5C1187.6,895.5 1184.8,895.1 1182.2,894.5C1179.7,893.8 1177.4,893.0 1175.2,891.5C1173.0,890.0 1171.2,887.3 1169.2,885.4C1167.2,883.6 1165.3,881.8 1163.2,880.4C1161.0,879.1 1158.5,878.4 1156.1,877.4C1153.8,876.4 1151.3,875.6 1149.1,874.4C1146.9,873.2 1145.1,871.9 1143.1,870.4C1141.1,868.9 1138.9,866.9 1137.1,865.4C1135.2,863.9 1133.3,862.8 1132.0,861.3C1130.8,859.9 1129.0,858.5 1129.5,856.8Z" fill="#fffaaa"/>
<path d="M1134.1,856.8C1134.7,855.5 1138.1,853.2 1140.1,851.3C1142.1,849.4 1144.3,847.3 1146.1,845.3C1147.9,843.3 1149.3,841.3 1151.1,839.3C1153.0,837.2 1155.1,835.2 1157.1,833.2C1159.2,831.2 1161.2,829.2 1163.2,827.2C1165.2,825.2 1167.2,823.2 1169.2,821.2C1171.2,819.2 1173.2,817.2 1175.2,815.2C1177.2,813.2 1179.1,811.3 1181.2,809.1C1183.4,807.0 1186.1,804.1 1188.3,802.1C1190.4,800.1 1191.6,798.2 1194.3,797.1C1197.0,796.0 1200.8,795.8 1204.3,795.6C1207.9,795.3 1211.7,795.4 1215.4,795.6C1219.1,795.7 1222.9,796.5 1226.4,796.6C1229.9,796.7 1234.1,796.1 1236.5,796.1C1238.8,796.1 1239.0,795.6 1240.5,796.6C1242.0,797.6 1243.8,800.3 1245.5,802.1C1247.2,803.9 1250.5,806.0 1250.5,807.6C1250.5,809.3 1247.2,810.6 1245.5,812.1C1243.8,813.7 1241.3,815.3 1240.5,817.2C1239.6,819.0 1240.6,821.0 1240.5,823.2C1240.3,825.4 1240.1,827.7 1239.5,830.2C1238.8,832.7 1237.6,835.7 1236.5,838.3C1235.3,840.8 1234.0,843.1 1232.4,845.3C1230.9,847.5 1229.1,849.6 1227.4,851.3C1225.8,853.0 1223.7,853.8 1222.4,855.3C1221.1,856.8 1220.2,858.3 1219.4,860.3C1218.6,862.3 1218.6,865.0 1217.9,867.4C1217.2,869.7 1216.6,872.2 1215.4,874.4C1214.1,876.6 1212.4,878.7 1210.4,880.4C1208.4,882.1 1206.0,883.6 1203.3,884.4C1200.7,885.3 1197.3,885.4 1194.3,885.4C1191.3,885.4 1188.1,885.1 1185.3,884.4C1182.4,883.8 1179.7,882.6 1177.2,881.4C1174.7,880.3 1172.5,878.7 1170.2,877.4C1167.9,876.1 1165.7,874.7 1163.2,873.4C1160.7,872.1 1157.8,870.7 1155.1,869.4C1152.5,868.0 1149.6,866.5 1147.1,865.4C1144.6,864.2 1141.9,863.4 1140.1,862.3C1138.2,861.3 1137.1,860.3 1136.1,859.3C1135.1,858.4 1133.4,858.2 1134.1,856.8Z" fill="#ffc03c"/>
<path d="M1234.5,857.1L1236.3,855.3L1238.0,857.1L1236.3,858.8Z" fill="#ffc03c"/>
<path d="M1141.6,856.3C1141.6,854.3 1144.2,851.0 1146.1,848.3C1148.0,845.6 1151.0,842.8 1153.1,840.3C1155.3,837.8 1157.1,835.4 1159.2,833.2C1161.2,831.1 1163.2,829.2 1165.2,827.2C1167.2,825.2 1169.2,823.2 1171.2,821.2C1173.2,819.2 1175.2,817.2 1177.2,815.2C1179.2,813.2 1181.2,811.1 1183.3,809.1C1185.3,807.1 1187.3,804.9 1189.3,803.1C1191.3,801.4 1192.6,799.5 1195.3,798.6C1198.0,797.7 1202.0,797.8 1205.3,797.6C1208.7,797.4 1212.0,797.3 1215.4,797.6C1218.7,797.8 1222.4,799.0 1225.4,799.1C1228.4,799.2 1231.4,798.3 1233.5,798.1C1235.5,797.8 1236.0,796.9 1237.5,797.6C1239.0,798.3 1241.0,800.5 1242.5,802.1C1244.0,803.7 1246.5,805.8 1246.5,807.1C1246.5,808.5 1244.0,808.8 1242.5,810.1C1241.0,811.5 1238.8,813.2 1237.5,815.2C1236.1,817.2 1235.3,819.8 1234.5,822.2C1233.6,824.5 1233.1,826.7 1232.4,829.2C1231.8,831.7 1231.4,834.7 1230.4,837.2C1229.4,839.8 1227.8,842.1 1226.4,844.3C1225.1,846.5 1223.4,848.5 1222.4,850.3C1221.4,852.1 1221.1,853.6 1220.4,855.3C1219.7,857.0 1219.1,858.7 1218.4,860.3C1217.7,862.0 1217.4,863.7 1216.4,865.4C1215.4,867.0 1214.0,868.7 1212.4,870.4C1210.7,872.1 1208.4,874.2 1206.3,875.4C1204.3,876.6 1202.7,876.9 1200.3,877.4C1198.0,877.9 1195.0,878.4 1192.3,878.4C1189.6,878.4 1186.9,877.9 1184.3,877.4C1181.6,876.9 1178.9,876.2 1176.2,875.4C1173.5,874.6 1170.9,873.6 1168.2,872.4C1165.5,871.2 1162.8,869.7 1160.2,868.4C1157.5,867.0 1154.5,865.7 1152.1,864.4C1149.8,863.0 1147.9,861.7 1146.1,860.3C1144.3,859.0 1141.6,858.3 1141.6,856.3Z" fill="#ffa000"/>
<path d="M1147.1,855.3C1146.8,853.1 1147.8,850.6 1149.1,848.3C1150.5,846.0 1153.1,843.5 1155.1,841.3C1157.1,839.0 1159.2,836.8 1161.2,834.7C1163.2,832.6 1165.2,830.7 1167.2,828.7C1169.2,826.7 1171.2,824.7 1173.2,822.7C1175.2,820.7 1177.2,818.7 1179.2,816.7C1181.2,814.7 1183.4,812.6 1185.3,810.6C1187.1,808.7 1188.4,806.8 1190.3,805.1C1192.1,803.4 1193.8,801.5 1196.3,800.6C1198.8,799.7 1202.2,799.7 1205.3,799.6C1208.5,799.5 1212.4,799.7 1215.4,800.1C1218.4,800.5 1221.1,801.3 1223.4,802.1C1225.8,802.9 1228.0,803.6 1229.4,805.1C1230.9,806.6 1231.6,808.6 1231.9,811.1C1232.3,813.7 1231.9,817.3 1231.4,820.2C1231.0,823.0 1230.3,825.5 1229.4,828.2C1228.6,830.9 1227.6,833.9 1226.4,836.2C1225.3,838.6 1223.6,840.3 1222.4,842.3C1221.2,844.3 1220.4,846.3 1219.4,848.3C1218.4,850.3 1217.4,852.3 1216.4,854.3C1215.4,856.3 1214.7,858.5 1213.4,860.3C1212.0,862.2 1210.2,863.9 1208.4,865.4C1206.5,866.8 1204.7,867.9 1202.3,868.9C1200.0,869.9 1197.1,870.9 1194.3,871.4C1191.5,871.9 1188.4,872.1 1185.3,871.9C1182.1,871.7 1178.4,871.0 1175.2,870.4C1172.0,869.8 1169.0,869.2 1166.2,868.4C1163.3,867.5 1160.7,866.5 1158.2,865.4C1155.6,864.2 1153.0,863.0 1151.1,861.3C1149.3,859.7 1147.4,857.5 1147.1,855.3Z" fill="#ff6000"/>
<path d="M1149.1,854.8C1148.8,852.9 1149.8,850.9 1151.1,848.8C1152.5,846.7 1155.1,844.4 1157.1,842.3C1159.2,840.2 1161.2,838.3 1163.2,836.2C1165.2,834.2 1167.2,832.2 1169.2,830.2C1171.2,828.2 1173.2,826.2 1175.2,824.2C1177.2,822.2 1179.2,820.2 1181.2,818.2C1183.3,816.2 1185.4,814.2 1187.3,812.1C1189.1,810.1 1190.6,807.8 1192.3,806.1C1194.0,804.5 1195.1,802.9 1197.3,802.1C1199.5,801.3 1202.5,801.1 1205.3,801.1C1208.2,801.1 1211.7,801.6 1214.4,802.1C1217.1,802.6 1219.2,803.3 1221.4,804.1C1223.6,805.0 1226.0,805.6 1227.4,807.1C1228.9,808.6 1229.6,810.8 1229.9,813.2C1230.3,815.5 1229.9,818.7 1229.4,821.2C1229.0,823.7 1228.3,825.9 1227.4,828.2C1226.6,830.6 1225.6,833.1 1224.4,835.2C1223.2,837.4 1221.7,839.4 1220.4,841.3C1219.1,843.1 1217.6,844.4 1216.4,846.3C1215.2,848.1 1214.4,850.5 1213.4,852.3C1212.4,854.1 1211.5,855.7 1210.4,857.3C1209.2,859.0 1208.0,860.9 1206.3,862.3C1204.7,863.8 1202.5,864.9 1200.3,865.9C1198.1,866.8 1196.0,867.4 1193.3,867.9C1190.6,868.4 1187.3,868.9 1184.3,868.9C1181.2,868.9 1178.1,868.4 1175.2,867.9C1172.4,867.4 1169.9,866.6 1167.2,865.9C1164.5,865.1 1161.5,864.3 1159.2,863.4C1156.8,862.4 1154.8,861.8 1153.1,860.3C1151.5,858.9 1149.5,856.7 1149.1,854.8Z" fill="#e11400"/>
<path d="M1151.6,854.3C1151.3,852.8 1152.0,851.0 1153.1,849.3C1154.2,847.6 1156.3,846.1 1158.2,844.3C1160.0,842.4 1162.2,840.3 1164.2,838.3C1166.2,836.2 1168.2,834.2 1170.2,832.2C1172.2,830.2 1174.2,828.2 1176.2,826.2C1178.2,824.2 1180.2,822.2 1182.2,820.2C1184.3,818.2 1186.4,816.2 1188.3,814.2C1190.1,812.1 1191.6,809.8 1193.3,808.1C1195.0,806.5 1196.3,805.0 1198.3,804.1C1200.3,803.3 1202.8,803.1 1205.3,803.1C1207.9,803.1 1210.9,803.6 1213.4,804.1C1215.9,804.6 1218.4,805.3 1220.4,806.1C1222.4,807.0 1224.2,807.8 1225.4,809.1C1226.7,810.5 1227.6,812.3 1227.9,814.2C1228.3,816.0 1227.8,818.0 1227.4,820.2C1227.0,822.4 1226.3,825.0 1225.4,827.2C1224.6,829.4 1223.6,831.4 1222.4,833.2C1221.2,835.1 1219.7,836.4 1218.4,838.3C1217.1,840.1 1215.5,842.3 1214.4,844.3C1213.2,846.3 1212.4,848.5 1211.4,850.3C1210.4,852.1 1209.5,853.6 1208.4,855.3C1207.2,857.0 1205.8,859.0 1204.3,860.3C1202.8,861.7 1201.3,862.5 1199.3,863.4C1197.3,864.2 1194.8,864.9 1192.3,865.4C1189.8,865.9 1186.9,866.4 1184.3,866.4C1181.6,866.4 1178.9,865.9 1176.2,865.4C1173.5,864.9 1170.7,864.0 1168.2,863.4C1165.7,862.7 1163.3,862.2 1161.2,861.3C1159.0,860.5 1156.7,859.5 1155.1,858.3C1153.6,857.2 1152.0,855.8 1151.6,854.3Z" fill="#a50000"/>
<path d="M1268.2,807.6C1268.3,806.5 1270.5,805.9 1272.2,805.6C1273.9,805.4 1276.2,805.5 1278.2,806.1C1280.2,806.7 1282.2,807.8 1284.2,809.1C1286.2,810.5 1288.3,812.6 1290.3,814.1C1292.3,815.6 1294.1,816.8 1296.3,818.2C1298.5,819.5 1301.1,820.7 1303.3,822.2C1305.5,823.7 1307.7,825.2 1309.3,827.2C1311.0,829.2 1312.5,831.9 1313.4,834.2C1314.2,836.6 1314.5,838.9 1314.4,841.2C1314.2,843.6 1313.2,846.1 1312.3,848.3C1311.5,850.4 1310.5,852.5 1309.3,854.3C1308.2,856.1 1306.8,857.8 1305.3,859.3C1303.8,860.8 1302.1,862.2 1300.3,863.3C1298.5,864.5 1296.1,866.0 1294.3,866.3C1292.4,866.7 1290.9,866.2 1289.3,865.3C1287.6,864.5 1285.7,862.7 1284.2,861.3C1282.7,860.0 1280.2,858.6 1280.2,857.3C1280.2,856.0 1282.7,854.6 1284.2,853.3C1285.7,852.0 1288.1,850.6 1289.3,849.3C1290.4,847.9 1291.3,846.9 1291.3,845.3C1291.3,843.6 1290.3,841.4 1289.3,839.2C1288.3,837.1 1286.6,834.6 1285.2,832.2C1283.9,829.9 1282.7,827.5 1281.2,825.2C1279.7,822.8 1277.9,820.3 1276.2,818.2C1274.5,816.0 1272.5,813.9 1271.2,812.1C1269.8,810.4 1268.0,808.7 1268.2,807.6Z" fill="#fffaaa"/>
<path d="M1271.7,808.1C1272.2,807.4 1274.6,806.4 1276.2,806.6C1277.8,806.8 1279.4,807.9 1281.2,809.1C1283.1,810.4 1285.2,812.6 1287.2,814.1C1289.3,815.6 1291.1,816.8 1293.3,818.2C1295.4,819.5 1298.1,820.7 1300.3,822.2C1302.5,823.7 1304.7,825.2 1306.3,827.2C1308.0,829.2 1309.6,831.9 1310.3,834.2C1311.1,836.6 1311.2,839.1 1310.8,841.2C1310.5,843.4 1309.4,845.3 1308.3,847.3C1307.2,849.3 1305.5,851.5 1304.3,853.3C1303.1,855.1 1302.6,857.0 1301.3,858.3C1300.0,859.7 1298.0,860.7 1296.3,861.3C1294.6,862.0 1292.9,862.7 1291.3,862.3C1289.6,862.0 1287.7,860.2 1286.2,859.3C1284.8,858.4 1282.6,858.0 1282.7,856.8C1282.9,855.6 1285.8,853.7 1287.2,852.3C1288.7,850.9 1290.1,849.2 1291.3,848.3C1292.4,847.4 1293.9,847.3 1294.3,846.8C1294.6,846.3 1293.6,846.0 1293.3,845.3C1292.9,844.5 1292.9,843.8 1292.3,842.2C1291.6,840.7 1290.3,838.4 1289.3,836.2C1288.3,834.0 1287.4,831.5 1286.2,829.2C1285.1,826.9 1283.7,824.5 1282.2,822.2C1280.7,819.8 1278.7,817.0 1277.2,815.1C1275.7,813.3 1274.1,812.3 1273.2,811.1C1272.3,810.0 1271.2,808.9 1271.7,808.1Z" fill="#ffc03c"/>
<path d="M1289.3,826.2C1289.7,825.1 1290.9,823.5 1292.3,823.2C1293.6,822.8 1295.6,823.5 1297.3,824.2C1299.0,824.8 1301.1,825.7 1302.3,827.2C1303.5,828.7 1304.1,831.4 1304.3,833.2C1304.5,835.1 1304.0,837.1 1303.3,838.2C1302.6,839.4 1301.5,840.4 1300.3,840.2C1299.1,840.1 1297.6,838.4 1296.3,837.2C1294.9,836.1 1293.4,834.5 1292.3,833.2C1291.2,832.0 1290.3,830.9 1289.8,829.7C1289.3,828.5 1288.8,827.3 1289.3,826.2Z" fill="#ffa000"/>
<path d="M1291.3,856.3L1292.8,854.8L1294.3,856.3L1292.8,857.8Z" fill="#ffa000"/>
<path d="M1234.0,857.1L1236.0,855.3L1238.1,857.1L1236.0,858.8Z" fill="#ffc03c"/>
<path d="M1586.9,709.2C1587.3,708.5 1590.4,708.0 1592.4,707.2C1594.5,706.3 1597.1,705.1 1599.5,704.2C1601.8,703.2 1604.2,702.1 1606.5,701.6C1608.8,701.1 1607.8,701.2 1613.5,701.1C1619.2,701.1 1636.1,697.4 1640.6,701.1C1645.2,704.9 1645.3,720.0 1640.6,723.7C1636.0,727.5 1617.9,724.2 1612.5,723.7C1607.2,723.3 1610.2,722.1 1608.5,721.2C1606.8,720.3 1604.5,719.4 1602.5,718.2C1600.5,717.0 1598.5,715.4 1596.5,714.2C1594.5,713.0 1592.0,712.0 1590.4,711.2C1588.9,710.3 1586.6,709.8 1586.9,709.2Z" fill="#fffaaa"/>
<path d="M1595.5,708.7C1596.0,707.9 1599.5,706.9 1601.5,706.2C1603.5,705.4 1605.3,704.6 1607.5,704.2C1609.7,703.7 1609.0,703.7 1614.5,703.7C1620.1,703.6 1636.3,701.4 1640.6,703.7C1645.0,705.9 1645.2,714.9 1640.6,717.2C1636.1,719.6 1619.1,717.9 1613.5,717.7C1608.0,717.5 1609.4,717.0 1607.5,716.2C1605.7,715.5 1604.0,714.1 1602.5,713.2C1601.0,712.3 1599.6,711.4 1598.5,710.7C1597.3,709.9 1595.0,709.4 1595.5,708.7Z" fill="#ffc03c"/>
<path d="M1601.0,708.7C1601.5,708.0 1604.4,707.1 1606.5,706.7C1608.6,706.2 1607.8,706.2 1613.5,706.2C1619.2,706.1 1636.1,705.0 1640.6,706.2C1645.2,707.3 1645.2,711.9 1640.6,713.2C1636.1,714.5 1619.1,714.3 1613.5,714.2C1608.0,714.1 1609.2,713.3 1607.5,712.7C1605.8,712.1 1604.6,711.4 1603.5,710.7C1602.4,710.0 1600.5,709.3 1601.0,708.7Z" fill="#ffa000"/>
<path d="M1607.5,708.2L1614.5,707.7L1611.5,711.7Z" fill="#ff6000"/>
<path d="M1640.6,729.3C1637.1,717.1 1624.1,729.9 1619.6,730.3C1615.0,730.6 1615.2,730.6 1613.5,731.3C1611.9,731.9 1610.9,733.1 1609.5,734.3C1608.2,735.4 1607.0,737.0 1605.5,738.3C1604.0,739.6 1602.2,741.0 1600.5,742.3C1598.8,743.6 1597.0,744.7 1595.5,746.3C1594.0,748.0 1592.5,750.2 1591.4,752.3C1590.4,754.5 1588.9,757.5 1588.9,759.4C1588.9,761.2 1590.4,762.2 1591.4,763.4C1592.5,764.6 1595.1,765.2 1595.5,766.4C1595.8,767.6 1594.6,769.3 1593.5,770.4C1592.3,771.5 1590.1,772.3 1588.4,772.9C1586.8,773.6 1585.1,773.5 1583.4,774.4C1581.7,775.4 1579.9,777.1 1578.4,778.5C1576.9,779.8 1575.7,781.4 1574.4,782.5C1573.0,783.6 1572.4,784.5 1570.4,785.0C1568.4,785.5 1565.0,785.6 1562.3,785.5C1559.7,785.4 1557.0,784.9 1554.3,784.5C1551.6,784.1 1548.9,783.3 1546.3,783.0C1543.6,782.6 1540.7,782.4 1538.2,782.5C1535.7,782.6 1533.5,783.0 1531.2,783.5C1528.9,784.0 1526.4,784.7 1524.2,785.5C1522.0,786.2 1519.8,787.0 1518.2,788.0C1516.5,789.0 1514.9,789.7 1514.1,791.5C1513.4,793.4 1513.3,796.8 1513.6,799.1C1514.0,801.4 1515.1,803.0 1516.1,805.1C1517.2,807.3 1518.8,809.8 1520.2,812.2C1521.5,814.5 1523.4,816.9 1524.2,819.2C1524.9,821.5 1524.7,823.5 1524.7,826.2C1524.7,828.9 1523.6,832.9 1524.2,835.3C1524.8,837.6 1526.5,838.4 1528.2,840.3C1529.9,842.1 1532.4,844.6 1534.2,846.3C1536.1,848.0 1537.4,850.0 1539.2,850.3C1541.1,850.7 1543.1,849.3 1545.3,848.3C1547.4,847.3 1550.1,845.4 1552.3,844.3C1554.5,843.2 1556.1,842.5 1558.3,841.8C1560.5,841.0 1563.0,840.7 1565.3,839.8C1567.7,838.9 1570.0,837.4 1572.4,836.3C1574.7,835.2 1577.2,834.3 1579.4,833.3C1581.6,832.2 1583.4,831.4 1585.4,830.2C1587.4,829.1 1589.6,827.7 1591.4,826.2C1593.3,824.7 1594.8,822.7 1596.5,821.2C1598.1,819.7 1599.6,818.5 1601.5,817.2C1603.3,815.9 1605.7,814.5 1607.5,813.2C1609.4,811.8 1611.0,810.5 1612.5,809.2C1614.0,807.8 1615.4,806.0 1616.5,805.1C1617.7,804.3 1615.5,804.5 1619.6,804.1C1623.6,803.8 1637.1,815.6 1640.6,803.1C1644.2,790.7 1644.2,741.4 1640.6,729.3Z" fill="#fffaaa"/>
<path d="M1640.6,733.3C1637.1,723.3 1624.1,733.9 1619.6,734.3C1615.0,734.6 1615.2,734.6 1613.5,735.3C1611.9,736.0 1611.0,737.1 1609.5,738.3C1608.0,739.5 1606.2,741.0 1604.5,742.3C1602.8,743.6 1601.2,744.8 1599.5,746.3C1597.8,747.8 1595.8,749.3 1594.5,751.3C1593.2,753.4 1591.6,756.4 1591.6,758.4C1591.6,760.4 1593.2,761.9 1594.5,763.4C1595.7,764.9 1598.8,766.1 1599.0,767.4C1599.1,768.7 1596.9,770.4 1595.5,771.4C1594.0,772.4 1592.1,772.8 1590.4,773.4C1588.8,774.1 1586.9,774.4 1585.4,775.4C1583.9,776.4 1582.7,778.1 1581.4,779.5C1580.1,780.8 1578.9,782.3 1577.4,783.5C1575.9,784.6 1574.5,785.9 1572.4,786.5C1570.2,787.1 1567.0,787.1 1564.3,787.0C1561.7,786.9 1559.0,786.4 1556.3,786.0C1553.6,785.6 1551.0,784.8 1548.3,784.5C1545.6,784.1 1542.9,783.9 1540.2,784.0C1537.6,784.1 1534.7,784.5 1532.2,785.0C1529.7,785.5 1527.4,786.2 1525.2,787.0C1523.0,787.7 1520.7,788.5 1519.2,789.5C1517.6,790.5 1516.3,790.7 1515.6,793.0C1515.0,795.3 1514.4,800.3 1515.1,803.1C1515.9,806.0 1518.5,807.8 1520.2,810.2C1521.8,812.5 1523.7,815.2 1525.2,817.2C1526.7,819.2 1528.5,820.4 1529.2,822.2C1529.9,824.0 1528.4,826.4 1529.2,828.2C1530.0,830.1 1532.5,831.7 1534.2,833.3C1535.9,834.8 1537.4,836.9 1539.2,837.3C1541.1,837.6 1543.1,835.8 1545.3,835.3C1547.4,834.8 1549.8,834.7 1552.3,834.3C1554.8,833.8 1557.8,833.4 1560.3,832.8C1562.8,832.1 1565.0,831.2 1567.3,830.2C1569.7,829.3 1572.2,828.2 1574.4,827.2C1576.6,826.2 1578.4,825.2 1580.4,824.2C1582.4,823.2 1584.4,822.4 1586.4,821.2C1588.4,820.0 1590.6,818.5 1592.4,817.2C1594.3,815.9 1595.6,814.5 1597.5,813.2C1599.3,811.8 1601.5,810.5 1603.5,809.2C1605.5,807.8 1607.7,806.6 1609.5,805.1C1611.4,803.6 1613.0,801.6 1614.5,800.1C1616.0,798.6 1617.7,796.9 1618.6,796.1C1619.4,795.3 1615.9,795.4 1619.6,795.1C1623.2,794.8 1637.1,804.4 1640.6,794.1C1644.2,783.8 1644.2,743.2 1640.6,733.3Z" fill="#ffc03c"/>
<path d="M1640.6,738.8C1637.1,730.8 1623.9,738.9 1619.6,739.3C1615.2,739.7 1616.2,740.5 1614.5,741.3C1612.9,742.1 1611.4,743.4 1609.5,744.3C1607.7,745.2 1605.3,745.8 1603.5,746.8C1601.7,747.8 1599.8,748.9 1598.5,750.3C1597.1,751.8 1596.0,753.7 1595.5,755.4C1595.0,757.0 1594.8,758.9 1595.5,760.4C1596.1,761.9 1598.1,763.1 1599.5,764.4C1600.8,765.7 1603.3,767.2 1603.5,768.4C1603.7,769.6 1601.8,770.6 1600.5,771.4C1599.1,772.3 1597.3,772.9 1595.5,773.4C1593.6,773.9 1591.3,773.2 1589.4,774.4C1587.6,775.7 1586.1,778.9 1584.4,781.0C1582.7,783.1 1580.9,785.3 1579.4,787.1C1577.9,788.8 1577.2,790.9 1575.4,791.6C1573.5,792.3 1570.7,791.4 1568.4,791.1C1566.0,790.7 1563.5,790.3 1561.3,789.6C1559.1,788.8 1557.3,787.7 1555.3,786.6C1553.3,785.4 1551.6,783.8 1549.3,782.6C1546.9,781.3 1544.3,779.9 1541.2,779.2C1538.2,778.6 1534.4,778.5 1531.2,778.8C1528.0,779.1 1524.6,779.8 1522.2,781.0C1519.7,782.3 1517.8,784.1 1516.6,786.6C1515.5,789.0 1514.6,792.7 1515.1,795.6C1515.7,798.5 1518.7,801.7 1520.2,804.1C1521.7,806.6 1522.5,808.5 1524.2,810.2C1525.9,811.8 1527.9,813.5 1530.2,814.2C1532.5,814.8 1535.7,814.4 1538.2,814.2C1540.7,813.9 1542.9,812.5 1545.3,812.7C1547.6,812.8 1549.8,814.5 1552.3,815.2C1554.8,815.9 1557.6,816.5 1560.3,816.7C1563.0,816.9 1565.8,816.6 1568.4,816.2C1570.9,815.8 1573.0,814.8 1575.4,814.2C1577.7,813.5 1580.2,813.0 1582.4,812.2C1584.6,811.3 1586.4,810.2 1588.4,809.2C1590.4,808.2 1592.4,807.1 1594.5,806.1C1596.5,805.1 1598.6,804.1 1600.5,803.1C1602.3,802.1 1604.0,801.1 1605.5,800.1C1607.0,799.1 1608.3,798.1 1609.5,797.1C1610.7,796.1 1611.5,795.3 1612.5,794.1C1613.5,792.9 1614.4,791.1 1615.5,790.1C1616.7,789.1 1615.4,788.6 1619.6,788.1C1623.7,787.6 1637.1,795.3 1640.6,787.1C1644.2,778.9 1644.2,746.8 1640.6,738.8Z" fill="#ffa000"/>
<path d="M1640.6,744.3C1636.1,739.6 1619.1,745.8 1613.5,746.3C1608.0,746.8 1609.5,747.0 1607.5,747.3C1605.5,747.7 1603.1,747.5 1601.5,748.3C1599.9,749.2 1598.8,750.8 1598.0,752.3C1597.1,753.9 1596.2,755.9 1596.5,757.4C1596.7,758.9 1598.1,760.0 1599.5,761.4C1600.8,762.7 1603.0,764.1 1604.5,765.4C1606.0,766.7 1607.3,768.1 1608.5,769.4C1609.7,770.8 1610.5,772.4 1611.5,773.4C1612.5,774.4 1609.7,775.3 1614.5,775.4C1619.4,775.6 1636.3,779.6 1640.6,774.4C1645.0,769.3 1645.2,749.0 1640.6,744.3Z" fill="#ff6000"/>
<path d="M1640.6,761.9C1636.6,760.5 1621.0,763.0 1616.5,763.9C1612.1,764.8 1614.0,766.3 1614.0,767.4C1614.0,768.5 1612.1,769.6 1616.5,770.4C1621.0,771.3 1636.6,773.9 1640.6,772.4C1644.7,771.0 1644.7,763.3 1640.6,761.9Z" fill="#e11400"/>
<path d="M1602.5,748.3L1604.0,748.3L1604.0,754.4L1602.7,754.4Z" fill="#e11400"/>
<path d="M1516.6,795.1C1516.5,792.6 1517.1,789.2 1518.2,787.1C1519.2,784.9 1521.0,783.2 1523.2,782.0C1525.3,780.9 1528.4,780.3 1531.2,780.0C1534.0,779.8 1537.4,779.9 1540.2,780.5C1543.1,781.2 1545.9,782.8 1548.3,784.1C1550.6,785.3 1552.3,786.9 1554.3,788.1C1556.3,789.2 1558.1,790.2 1560.3,791.1C1562.5,791.9 1564.8,792.5 1567.3,793.1C1569.9,793.7 1573.0,794.2 1575.4,794.6C1577.7,795.0 1579.9,795.1 1581.4,795.6C1582.9,796.1 1584.3,796.7 1584.4,797.6C1584.6,798.5 1583.4,800.0 1582.4,801.1C1581.4,802.2 1580.1,803.0 1578.4,804.1C1576.7,805.2 1574.4,806.6 1572.4,807.7C1570.4,808.7 1568.0,809.6 1566.3,810.2C1564.7,810.7 1564.0,811.4 1562.3,811.2C1560.7,810.9 1558.5,809.2 1556.3,808.7C1554.1,808.2 1552.0,808.2 1549.3,808.2C1546.6,808.2 1543.1,808.5 1540.2,808.7C1537.4,808.8 1534.7,809.5 1532.2,809.2C1529.7,808.8 1527.4,807.8 1525.2,806.6C1523.0,805.5 1520.6,804.1 1519.2,802.1C1517.7,800.2 1516.8,797.6 1516.6,795.1Z" fill="#ff6000"/>
<path d="M1518.2,794.6C1518.2,792.6 1518.7,789.9 1519.7,788.1C1520.7,786.2 1522.3,784.6 1524.2,783.6C1526.1,782.5 1528.7,781.8 1531.2,781.5C1533.7,781.3 1536.7,781.5 1539.2,782.0C1541.7,782.6 1544.1,783.9 1546.3,785.1C1548.4,786.2 1550.3,787.8 1552.3,789.1C1554.3,790.3 1556.1,791.6 1558.3,792.6C1560.5,793.6 1562.9,794.3 1565.3,795.1C1567.8,795.9 1572.4,796.3 1572.9,797.1C1573.4,797.9 1570.1,799.1 1568.4,800.1C1566.6,801.1 1564.7,802.5 1562.3,803.1C1560.0,803.8 1557.0,803.9 1554.3,804.1C1551.6,804.4 1548.9,804.4 1546.3,804.6C1543.6,804.9 1540.7,805.3 1538.2,805.6C1535.7,806.0 1533.5,806.9 1531.2,806.6C1528.9,806.4 1526.1,805.2 1524.2,804.1C1522.3,803.0 1520.7,801.7 1519.7,800.1C1518.7,798.5 1518.2,796.6 1518.2,794.6Z" fill="#e11400"/>
<path d="M1519.7,794.1C1519.7,792.5 1520.2,790.6 1521.2,789.1C1522.1,787.6 1523.5,786.1 1525.2,785.1C1526.9,784.1 1529.0,783.3 1531.2,783.1C1533.4,782.8 1536.1,783.1 1538.2,783.6C1540.4,784.1 1542.2,785.0 1544.3,786.1C1546.3,787.2 1548.4,788.9 1550.3,790.1C1552.1,791.3 1553.6,792.2 1555.3,793.1C1557.0,794.0 1559.0,794.9 1560.3,795.6C1561.7,796.3 1563.7,796.4 1563.3,797.1C1563.0,797.8 1560.2,798.9 1558.3,799.6C1556.5,800.4 1554.6,801.1 1552.3,801.6C1549.9,802.1 1546.9,802.3 1544.3,802.6C1541.6,803.0 1538.6,803.3 1536.2,803.6C1533.9,804.0 1532.2,804.9 1530.2,804.6C1528.2,804.4 1525.8,803.1 1524.2,802.1C1522.6,801.1 1521.4,800.0 1520.7,798.6C1519.9,797.3 1519.6,795.7 1519.7,794.1Z" fill="#a50000"/>
<path d="M1640.6,833.3C1637.1,825.6 1624.1,833.4 1619.6,834.3C1615.0,835.1 1615.5,836.9 1613.5,838.3C1611.5,839.6 1609.5,841.0 1607.5,842.3C1605.5,843.6 1603.0,845.0 1601.5,846.3C1600.0,847.6 1599.5,848.8 1598.5,850.3C1597.5,851.8 1596.3,853.7 1595.5,855.3C1594.6,857.0 1594.0,858.7 1593.5,860.4C1593.0,862.0 1591.6,864.4 1592.4,865.4C1593.3,866.4 1596.5,865.5 1598.5,866.4C1600.5,867.2 1602.7,869.1 1604.5,870.4C1606.3,871.7 1608.0,873.1 1609.5,874.4C1611.0,875.8 1611.9,877.6 1613.5,878.4C1615.2,879.3 1615.0,879.1 1619.6,879.4C1624.1,879.8 1637.1,888.1 1640.6,880.4C1644.2,872.7 1644.2,841.0 1640.6,833.3Z" fill="#e1ffff"/>
</g>
<g clip-path="url(#c4)"><use href="#coast" x="855" y="420"/></g>
<g shape-rendering="crispEdges" stroke="#000" fill="none">
<rect x="900" y="670" width="720" height="236" stroke-width="2"/>
<path d="M900.5,907 v5M965.5,907 v5M1030.5,907 v5M1096.5,907 v5M1161.5,907 v5M1227.5,907 v5M1292.5,907 v5M1358.5,907 v5M1423.5,907 v5M1489.5,907 v5M1554.5,907 v5M1620.5,907 v5M899,690.5 h-5M899,729.5 h-5M899,769.5 h-5M899,808.5 h-5M899,847.5 h-5M899,887.5 h-5" stroke-width="1"/>
</g>
<g shape-rendering="crispEdges">
<rect x="796" y="447.9" width="17" height="39.6" fill="#ffe878"/>
<rect x="796" y="408.3" width="17" height="39.6" fill="#ffa000"/>
<rect x="796" y="368.8" width="17" height="39.6" fill="#ff6000"/>
<rect x="796" y="329.2" width="17" height="39.6" fill="#e11400"/>
<rect x="796" y="289.6" width="17" height="39.6" fill="#a50000"/>
<rect x="796" y="250.0" width="17" height="39.6" fill="#f0a0a0"/>
<path d="M796,250.0 L813,250.0 L804,209.5Z" fill="#ffe1e1"/>
</g>
<g shape-rendering="crispEdges" stroke="#000" stroke-width="1" fill="none">
<path d="M795.5,250.0 V487.5"/>
<path d="M795.5,487.5 H813"/>
<path d="M795.5,407.5 H813"/>
<path d="M795.5,368.5 H813"/>
<path d="M795.5,328.5 H813"/>
<path d="M795.5,487.5 L804,527.5"/>
<path d="M795.5,250.0 L804,209.5" stroke-dasharray="4,3"/>
</g>
<g shape-rendering="crispEdges">
<rect x="796" y="927.8" width="17" height="39.8" fill="#2882f0"/>
<rect x="796" y="888.0" width="17" height="39.8" fill="#96d2fa"/>
<rect x="796" y="848.2" width="17" height="39.8" fill="#e1ffff"/>
<rect x="796" y="808.5" width="17" height="39.8" fill="#ffffff"/>
<rect x="796" y="768.8" width="17" height="39.8" fill="#fffaaa"/>
<rect x="796" y="729.0" width="17" height="39.8" fill="#ffc03c"/>
<rect x="796" y="689.2" width="17" height="39.8" fill="#ffa000"/>
<rect x="796" y="649.5" width="17" height="39.8" fill="#ff6000"/>
<rect x="796" y="609.8" width="17" height="39.8" fill="#e11400"/>
<path d="M796,609.8 L813,609.8 L804.5,569Z" fill="#a50000"/>
<path d="M796,967.5 L813,967.5 L804.5,1006Z" fill="#1464d2"/>
</g>
<g shape-rendering="crispEdges" stroke="#000" stroke-width="1" fill="none">
<path d="M795.5,609.8 V967.5"/>
<path d="M795.5,967.5 H813"/>
<path d="M795.5,927.5 H813"/>
<path d="M795.5,887.5 H813"/>
<path d="M795.5,847.5 H813"/>
<path d="M795.5,807.5 H813"/>
<path d="M795.5,768.5 H813"/>
<path d="M795.5,728.5 H813"/>
<path d="M795.5,688.5 H813"/>
<path d="M795.5,649.5 H813"/>
<path d="M795.5,609.8 L804,569.5"/>
<path d="M795.5,967.5 L804,1007.5"/>
</g>
<g id="txt">
<text x="25.5" y="509.5" font-size="17.5" fill="#000" stroke-width="0.35" text-anchor="start" textLength="40.0" lengthAdjust="spacing">140E</text>
<text x="91.0" y="509.5" font-size="17.5" fill="#000" stroke-width="0.35" text-anchor="start" textLength="40.0" lengthAdjust="spacing">160E</text>
<text x="161.4" y="509.5" font-size="17.5" fill="#000" stroke-width="0.35" text-anchor="start" textLength="30.0" lengthAdjust="spacing">180</text>
<text x="220.9" y="509.5" font-size="17.5" fill="#000" stroke-width="0.35" text-anchor="start" textLength="42.0" lengthAdjust="spacing">160W</text>
<text x="286.3" y="509.5" font-size="17.5" fill="#000" stroke-width="0.35" text-anchor="start" textLength="42.0" lengthAdjust="spacing">140W</text>
<text x="351.8" y="509.5" font-size="17.5" fill="#000" stroke-width="0.35" text-anchor="start" textLength="42.0" lengthAdjust="spacing">120W</text>
<text x="417.2" y="509.5" font-size="17.5" fill="#000" stroke-width="0.35" text-anchor="start" textLength="42.0" lengthAdjust="spacing">100W</text>
<text x="488.2" y="509.5" font-size="17.5" fill="#000" stroke-width="0.35" text-anchor="start" textLength="31.0" lengthAdjust="spacing">80W</text>
<text x="553.6" y="509.5" font-size="17.5" fill="#000" stroke-width="0.35" text-anchor="start" textLength="31.0" lengthAdjust="spacing">60W</text>
<text x="619.1" y="509.5" font-size="17.5" fill="#000" stroke-width="0.35" text-anchor="start" textLength="31.0" lengthAdjust="spacing">40W</text>
<text x="684.5" y="509.5" font-size="17.5" fill="#000" stroke-width="0.35" text-anchor="start" textLength="31.0" lengthAdjust="spacing">20W</text>
<text x="761.0" y="509.5" font-size="17.5" fill="#000" stroke-width="0.35" text-anchor="start" textLength="9.0" lengthAdjust="spacing">0</text>
<text x="2.0" y="276.2" font-size="17.5" fill="#000" stroke-width="0.35" text-anchor="start" textLength="30.5" lengthAdjust="spacing">80N</text>
<text x="2.0" y="315.5" font-size="17.5" fill="#000" stroke-width="0.35" text-anchor="start" textLength="30.5" lengthAdjust="spacing">70N</text>
<text x="2.0" y="354.8" font-size="17.5" fill="#000" stroke-width="0.35" text-anchor="start" textLength="30.5" lengthAdjust="spacing">60N</text>
<text x="2.0" y="394.2" font-size="17.5" fill="#000" stroke-width="0.35" text-anchor="start" textLength="30.5" lengthAdjust="spacing">50N</text>
<text x="2.0" y="433.5" font-size="17.5" fill="#000" stroke-width="0.35" text-anchor="start" textLength="30.5" lengthAdjust="spacing">40N</text>
<text x="2.0" y="472.8" font-size="17.5" fill="#000" stroke-width="0.35" text-anchor="start" textLength="30.5" lengthAdjust="spacing">30N</text>
<text x="880.5" y="509.5" font-size="17.5" fill="#000" stroke-width="0.35" text-anchor="start" textLength="40.0" lengthAdjust="spacing">140E</text>
<text x="946.0" y="509.5" font-size="17.5" fill="#000" stroke-width="0.35" text-anchor="start" textLength="40.0" lengthAdjust="spacing">160E</text>
<text x="1016.4" y="509.5" font-size="17.5" fill="#000" stroke-width="0.35" text-anchor="start" textLength="30.0" lengthAdjust="spacing">180</text>
<text x="1075.9" y="509.5" font-size="17.5" fill="#000" stroke-width="0.35" text-anchor="start" textLength="42.0" lengthAdjust="spacing">160W</text>
<text x="1141.3" y="509.5" font-size="17.5" fill="#000" stroke-width="0.35" text-anchor="start" textLength="42.0" lengthAdjust="spacing">140W</text>
<text x="1206.8" y="509.5" font-size="17.5" fill="#000" stroke-width="0.35" text-anchor="start" textLength="42.0" lengthAdjust="spacing">120W</text>
<text x="1272.2" y="509.5" font-size="17.5" fill="#000" stroke-width="0.35" text-anchor="start" textLength="42.0" lengthAdjust="spacing">100W</text>
<text x="1343.2" y="509.5" font-size="17.5" fill="#000" stroke-width="0.35" text-anchor="start" textLength="31.0" lengthAdjust="spacing">80W</text>
<text x="1408.6" y="509.5" font-size="17.5" fill="#000" stroke-width="0.35" text-anchor="start" textLength="31.0" lengthAdjust="spacing">60W</text>
<text x="1474.1" y="509.5" font-size="17.5" fill="#000" stroke-width="0.35" text-anchor="start" textLength="31.0" lengthAdjust="spacing">40W</text>
<text x="1539.5" y="509.5" font-size="17.5" fill="#000" stroke-width="0.35" text-anchor="start" textLength="31.0" lengthAdjust="spacing">20W</text>
<text x="1616.0" y="509.5" font-size="17.5" fill="#000" stroke-width="0.35" text-anchor="start" textLength="9.0" lengthAdjust="spacing">0</text>
<text x="857.0" y="276.2" font-size="17.5" fill="#000" stroke-width="0.35" text-anchor="start" textLength="30.5" lengthAdjust="spacing">80N</text>
<text x="857.0" y="315.5" font-size="17.5" fill="#000" stroke-width="0.35" text-anchor="start" textLength="30.5" lengthAdjust="spacing">70N</text>
<text x="857.0" y="354.8" font-size="17.5" fill="#000" stroke-width="0.35" text-anchor="start" textLength="30.5" lengthAdjust="spacing">60N</text>
<text x="857.0" y="394.2" font-size="17.5" fill="#000" stroke-width="0.35" text-anchor="start" textLength="30.5" lengthAdjust="spacing">50N</text>
<text x="857.0" y="433.5" font-size="17.5" fill="#000" stroke-width="0.35" text-anchor="start" textLength="30.5" lengthAdjust="spacing">40N</text>
<text x="857.0" y="472.8" font-size="17.5" fill="#000" stroke-width="0.35" text-anchor="start" textLength="30.5" lengthAdjust="spacing">30N</text>
<text x="25.5" y="929.5" font-size="17.5" fill="#000" stroke-width="0.35" text-anchor="start" textLength="40.0" lengthAdjust="spacing">140E</text>
<text x="91.0" y="929.5" font-size="17.5" fill="#000" stroke-width="0.35" text-anchor="start" textLength="40.0" lengthAdjust="spacing">160E</text>
<text x="161.4" y="929.5" font-size="17.5" fill="#000" stroke-width="0.35" text-anchor="start" textLength="30.0" lengthAdjust="spacing">180</text>
<text x="220.9" y="929.5" font-size="17.5" fill="#000" stroke-width="0.35" text-anchor="start" textLength="42.0" lengthAdjust="spacing">160W</text>
<text x="286.3" y="929.5" font-size="17.5" fill="#000" stroke-width="0.35" text-anchor="start" textLength="42.0" lengthAdjust="spacing">140W</text>
<text x="351.8" y="929.5" font-size="17.5" fill="#000" stroke-width="0.35" text-anchor="start" textLength="42.0" lengthAdjust="spacing">120W</text>
<text x="417.2" y="929.5" font-size="17.5" fill="#000" stroke-width="0.35" text-anchor="start" textLength="42.0" lengthAdjust="spacing">100W</text>
<text x="488.2" y="929.5" font-size="17.5" fill="#000" stroke-width="0.35" text-anchor="start" textLength="31.0" lengthAdjust="spacing">80W</text>
<text x="553.6" y="929.5" font-size="17.5" fill="#000" stroke-width="0.35" text-anchor="start" textLength="31.0" lengthAdjust="spacing">60W</text>
<text x="619.1" y="929.5" font-size="17.5" fill="#000" stroke-width="0.35" text-anchor="start" textLength="31.0" lengthAdjust="spacing">40W</text>
<text x="684.5" y="929.5" font-size="17.5" fill="#000" stroke-width="0.35" text-anchor="start" textLength="31.0" lengthAdjust="spacing">20W</text>
<text x="761.0" y="929.5" font-size="17.5" fill="#000" stroke-width="0.35" text-anchor="start" textLength="9.0" lengthAdjust="spacing">0</text>
<text x="2.0" y="696.2" font-size="17.5" fill="#000" stroke-width="0.35" text-anchor="start" textLength="30.5" lengthAdjust="spacing">80N</text>
<text x="2.0" y="735.5" font-size="17.5" fill="#000" stroke-width="0.35" text-anchor="start" textLength="30.5" lengthAdjust="spacing">70N</text>
<text x="2.0" y="774.8" font-size="17.5" fill="#000" stroke-width="0.35" text-anchor="start" textLength="30.5" lengthAdjust="spacing">60N</text>
<text x="2.0" y="814.2" font-size="17.5" fill="#000" stroke-width="0.35" text-anchor="start" textLength="30.5" lengthAdjust="spacing">50N</text>
<text x="2.0" y="853.5" font-size="17.5" fill="#000" stroke-width="0.35" text-anchor="start" textLength="30.5" lengthAdjust="spacing">40N</text>
<text x="2.0" y="892.8" font-size="17.5" fill="#000" stroke-width="0.35" text-anchor="start" textLength="30.5" lengthAdjust="spacing">30N</text>
<text x="880.5" y="929.5" font-size="17.5" fill="#000" stroke-width="0.35" text-anchor="start" textLength="40.0" lengthAdjust="spacing">140E</text>
<text x="946.0" y="929.5" font-size="17.5" fill="#000" stroke-width="0.35" text-anchor="start" textLength="40.0" lengthAdjust="spacing">160E</text>
<text x="1016.4" y="929.5" font-size="17.5" fill="#000" stroke-width="0.35" text-anchor="start" textLength="30.0" lengthAdjust="spacing">180</text>
<text x="1075.9" y="929.5" font-size="17.5" fill="#000" stroke-width="0.35" text-anchor="start" textLength="42.0" lengthAdjust="spacing">160W</text>
<text x="1141.3" y="929.5" font-size="17.5" fill="#000" stroke-width="0.35" text-anchor="start" textLength="42.0" lengthAdjust="spacing">140W</text>
<text x="1206.8" y="929.5" font-size="17.5" fill="#000" stroke-width="0.35" text-anchor="start" textLength="42.0" lengthAdjust="spacing">120W</text>
<text x="1272.2" y="929.5" font-size="17.5" fill="#000" stroke-width="0.35" text-anchor="start" textLength="42.0" lengthAdjust="spacing">100W</text>
<text x="1343.2" y="929.5" font-size="17.5" fill="#000" stroke-width="0.35" text-anchor="start" textLength="31.0" lengthAdjust="spacing">80W</text>
<text x="1408.6" y="929.5" font-size="17.5" fill="#000" stroke-width="0.35" text-anchor="start" textLength="31.0" lengthAdjust="spacing">60W</text>
<text x="1474.1" y="929.5" font-size="17.5" fill="#000" stroke-width="0.35" text-anchor="start" textLength="31.0" lengthAdjust="spacing">40W</text>
<text x="1539.5" y="929.5" font-size="17.5" fill="#000" stroke-width="0.35" text-anchor="start" textLength="31.0" lengthAdjust="spacing">20W</text>
<text x="1616.0" y="929.5" font-size="17.5" fill="#000" stroke-width="0.35" text-anchor="start" textLength="9.0" lengthAdjust="spacing">0</text>
<text x="857.0" y="696.2" font-size="17.5" fill="#000" stroke-width="0.35" text-anchor="start" textLength="30.5" lengthAdjust="spacing">80N</text>
<text x="857.0" y="735.5" font-size="17.5" fill="#000" stroke-width="0.35" text-anchor="start" textLength="30.5" lengthAdjust="spacing">70N</text>
<text x="857.0" y="774.8" font-size="17.5" fill="#000" stroke-width="0.35" text-anchor="start" textLength="30.5" lengthAdjust="spacing">60N</text>
<text x="857.0" y="814.2" font-size="17.5" fill="#000" stroke-width="0.35" text-anchor="start" textLength="30.5" lengthAdjust="spacing">50N</text>
<text x="857.0" y="853.5" font-size="17.5" fill="#000" stroke-width="0.35" text-anchor="start" textLength="30.5" lengthAdjust="spacing">40N</text>
<text x="857.0" y="892.8" font-size="17.5" fill="#000" stroke-width="0.35" text-anchor="start" textLength="30.5" lengthAdjust="spacing">30N</text>
<text x="413.5" y="62.5" font-size="31.0" fill="#000" stroke-width="0.62" text-anchor="start" textLength="914.0" lengthAdjust="spacing">SLP Variance for 2022.12.24.12Z&#8722;2023.01.07.06Z</text>
<text x="769.0" y="107.0" font-size="26.5" fill="#000" stroke-width="0.53" text-anchor="start" textLength="111.0" lengthAdjust="spacing">(hPa^2)</text>
<text x="12.5" y="162.5" font-size="28.5" fill="#fa3c3c" stroke-width="0.57" text-anchor="start" textLength="140.0" lengthAdjust="spacing">FCST Date:</text>
<text x="12.5" y="192.5" font-size="28.5" fill="#fa3c3c" stroke-width="0.57" text-anchor="start" textLength="146.0" lengthAdjust="spacing">2022.12.10</text>
<text x="215.0" y="166.5" font-size="27.5" fill="#000" stroke-width="0.55" text-anchor="start" textLength="397.5" lengthAdjust="spacing">CFSv2 Week 3&#8722;4 Forecast</text>
<text x="1098.0" y="166.5" font-size="27.5" fill="#000" stroke-width="0.55" text-anchor="start" textLength="262.0" lengthAdjust="spacing">Verification: CFSR</text>
<text x="379.0" y="217.0" font-size="27.5" fill="#1e3cff" stroke-width="0.55" text-anchor="start" textLength="66.0" lengthAdjust="spacing">Total</text>
<text x="1196.0" y="217.0" font-size="27.5" fill="#1e3cff" stroke-width="0.55" text-anchor="start" textLength="66.0" lengthAdjust="spacing">Total</text>
<text x="352.0" y="634.5" font-size="27.5" fill="#1e3cff" stroke-width="0.55" text-anchor="start" textLength="120.0" lengthAdjust="spacing">Anomaly</text>
<text x="1169.0" y="634.5" font-size="27.5" fill="#1e3cff" stroke-width="0.55" text-anchor="start" textLength="120.0" lengthAdjust="spacing">Anomaly</text>
<text x="817.5" y="492.7" font-size="14.0" fill="#000" stroke-width="0.28" text-anchor="start" textLength="17.4" lengthAdjust="spacing">40</text>
<text x="817.5" y="453.1" font-size="14.0" fill="#000" stroke-width="0.28" text-anchor="start" textLength="17.4" lengthAdjust="spacing">70</text>
<text x="817.5" y="413.5" font-size="14.0" fill="#000" stroke-width="0.28" text-anchor="start" textLength="26.6" lengthAdjust="spacing">100</text>
<text x="817.5" y="374.0" font-size="14.0" fill="#000" stroke-width="0.28" text-anchor="start" textLength="26.6" lengthAdjust="spacing">130</text>
<text x="817.5" y="334.4" font-size="14.0" fill="#000" stroke-width="0.28" text-anchor="start" textLength="26.6" lengthAdjust="spacing">160</text>
<text x="817.5" y="294.8" font-size="14.0" fill="#000" stroke-width="0.28" text-anchor="start" textLength="26.6" lengthAdjust="spacing">190</text>
<text x="817.5" y="255.2" font-size="14.0" fill="#000" stroke-width="0.28" text-anchor="start" textLength="26.6" lengthAdjust="spacing">220</text>
<text x="817.5" y="972.7" font-size="14.0" fill="#000" stroke-width="0.28" text-anchor="start" textLength="30.0" lengthAdjust="spacing">&#8722;40</text>
<text x="817.5" y="933.0" font-size="14.0" fill="#000" stroke-width="0.28" text-anchor="start" textLength="30.0" lengthAdjust="spacing">&#8722;30</text>
<text x="817.5" y="893.2" font-size="14.0" fill="#000" stroke-width="0.28" text-anchor="start" textLength="30.0" lengthAdjust="spacing">&#8722;20</text>
<text x="817.5" y="853.5" font-size="14.0" fill="#000" stroke-width="0.28" text-anchor="start" textLength="30.0" lengthAdjust="spacing">&#8722;10</text>
<text x="817.5" y="813.7" font-size="14.0" fill="#000" stroke-width="0.28" text-anchor="start" textLength="17.5" lengthAdjust="spacing">10</text>
<text x="817.5" y="774.0" font-size="14.0" fill="#000" stroke-width="0.28" text-anchor="start" textLength="17.5" lengthAdjust="spacing">20</text>
<text x="817.5" y="734.2" font-size="14.0" fill="#000" stroke-width="0.28" text-anchor="start" textLength="17.5" lengthAdjust="spacing">30</text>
<text x="817.5" y="694.5" font-size="14.0" fill="#000" stroke-width="0.28" text-anchor="start" textLength="17.5" lengthAdjust="spacing">40</text>
<text x="817.5" y="654.7" font-size="14.0" fill="#000" stroke-width="0.28" text-anchor="start" textLength="17.5" lengthAdjust="spacing">50</text>
<text x="817.5" y="615.0" font-size="14.0" fill="#000" stroke-width="0.28" text-anchor="start" textLength="17.5" lengthAdjust="spacing">60</text>
</g>
</svg></body></html>
